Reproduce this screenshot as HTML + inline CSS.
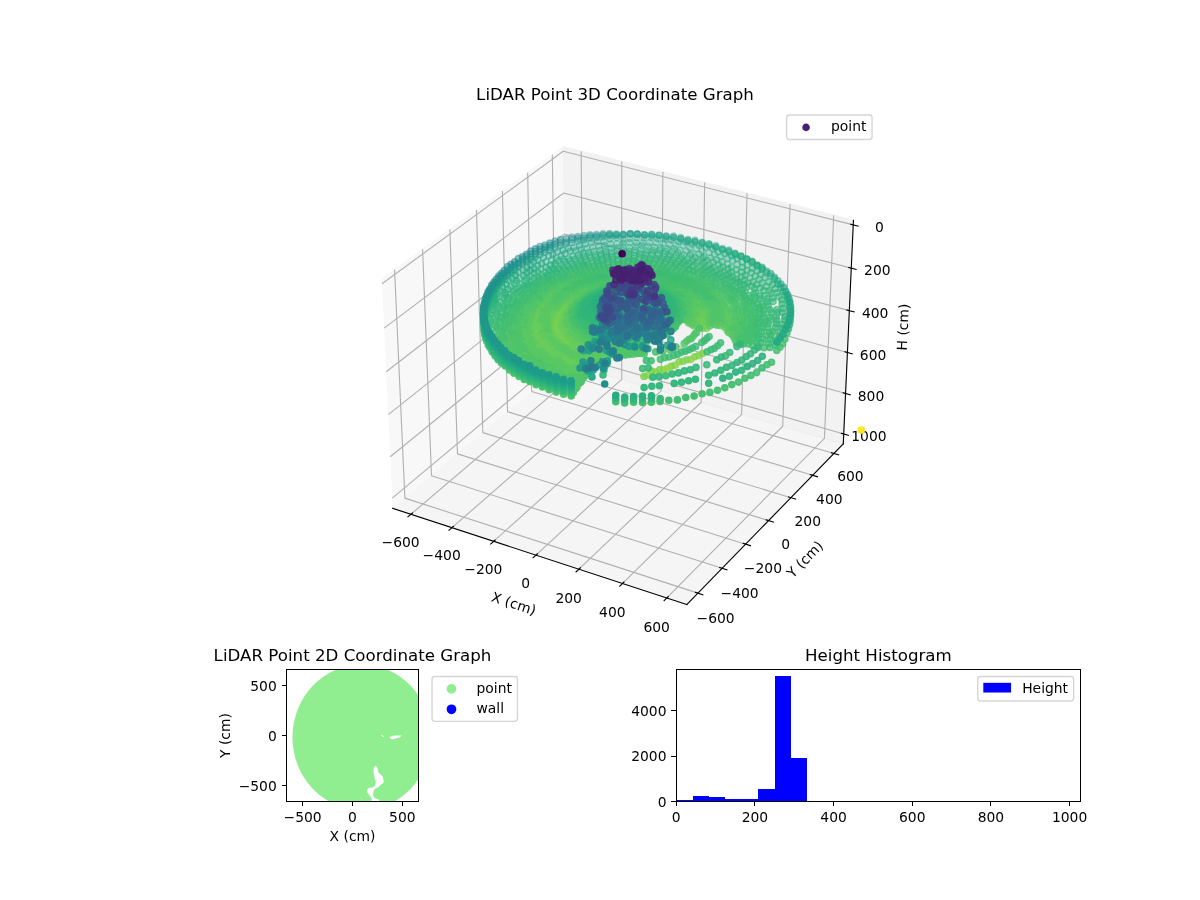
<!DOCTYPE html>
<html><head><meta charset="utf-8"><title>LiDAR Point Coordinate Graphs</title>
<style>html,body{margin:0;padding:0;background:#fff}svg{display:block}</style></head>
<body>
<svg width="1200" height="900" viewBox="0 0 864 648"> <defs> <style type="text/css">.c0{fill:#440154;stroke:#440154}.c1{fill:#46085c;stroke:#46085c}.c2{fill:#471063;stroke:#471063}.c3{fill:#48186a;stroke:#48186a}.c4{fill:#481f70;stroke:#481f70}.c5{fill:#482677;stroke:#482677}.c6{fill:#472d7b;stroke:#472d7b}.c7{fill:#463480;stroke:#463480}.c8{fill:#443a83;stroke:#443a83}.c9{fill:#424186;stroke:#424186}.c10{fill:#3f4788;stroke:#3f4788}.c11{fill:#3d4d8a;stroke:#3d4d8a}.c12{fill:#3a538b;stroke:#3a538b}.c13{fill:#38598c;stroke:#38598c}.c14{fill:#355f8d;stroke:#355f8d}.c15{fill:#32648e;stroke:#32648e}.c16{fill:#306a8e;stroke:#306a8e}.c17{fill:#2e6f8e;stroke:#2e6f8e}.c18{fill:#2b748e;stroke:#2b748e}.c19{fill:#29798e;stroke:#29798e}.c20{fill:#277e8e;stroke:#277e8e}.c21{fill:#25838e;stroke:#25838e}.c22{fill:#23888e;stroke:#23888e}.c23{fill:#218e8d;stroke:#218e8d}.c24{fill:#20928c;stroke:#20928c}.c25{fill:#1f988b;stroke:#1f988b}.c26{fill:#1e9d89;stroke:#1e9d89}.c27{fill:#1fa287;stroke:#1fa287}.c28{fill:#22a785;stroke:#22a785}.c29{fill:#25ac82;stroke:#25ac82}.c30{fill:#2cb17e;stroke:#2cb17e}.c31{fill:#32b67a;stroke:#32b67a}.c32{fill:#3bbb75;stroke:#3bbb75}.c33{fill:#44bf70;stroke:#44bf70}.c34{fill:#50c46a;stroke:#50c46a}.c35{fill:#5ac864;stroke:#5ac864}.c36{fill:#67cc5c;stroke:#67cc5c}.c37{fill:#73d056;stroke:#73d056}.c38{fill:#7fd34e;stroke:#7fd34e}.c39{fill:#8ed645;stroke:#8ed645}.c40{fill:#9bd93c;stroke:#9bd93c}.c41{fill:#aadc32;stroke:#aadc32}.c42{fill:#b8de29;stroke:#b8de29}.c43{fill:#c8e020;stroke:#c8e020}.c44{fill:#d5e21a;stroke:#d5e21a}.c45{fill:#e5e419;stroke:#e5e419}.c46{fill:#f1e51d;stroke:#f1e51d}.c47{fill:#fde725;stroke:#fde725}g[id^="matplotlib.axis"] use{shape-rendering:crispEdges}*{stroke-linejoin: round; stroke-linecap: butt}</style> </defs> <g id="figure_1"> <g id="patch_1"> <path d="M 0 648  L 864 648  L 864 0  L 0 0  z " style="fill: #ffffff"/> </g> <g id="patch_2"> <path d="M 252.72 457.92  L 632.88 457.92  L 632.88 77.76  L 252.72 77.76  z " style="fill: #ffffff"/> </g> <g id="pane3d_1"> <g id="patch_3"> <path d="M 274.87 200.85  L 405.49 105.66  L 407.26 261.38  L 282.76 365.98  " style="fill: #f2f2f2; opacity: 0.5; stroke: #f2f2f2; stroke-linejoin: miter"/> </g> </g> <g id="pane3d_2"> <g id="patch_4"> <path d="M 405.49 105.66  L 614.48 158.55  L 607.16 319.60  L 407.26 261.38  " style="fill: #e6e6e6; opacity: 0.5; stroke: #e6e6e6; stroke-linejoin: miter"/> </g> </g> <g id="pane3d_3"> <g id="patch_5"> <path d="M 282.76 365.98  L 494.57 435.23  L 607.16 319.60  L 407.26 261.38  " style="fill: #ececec; opacity: 0.5; stroke: #ececec; stroke-linejoin: miter"/> </g> </g> <g id="grid3d_1"> <g id="Line3DCollection_1"> <path d="M 295.86 370.26  L 419.68 265.00  L 418.44 108.94  " style="fill: none; stroke: #b0b0b0; stroke-width: 0.8"/> <path d="M 325.42 379.93  L 447.67 273.15  L 447.66 116.33  " style="fill: none; stroke: #b0b0b0; stroke-width: 0.8"/> <path d="M 355.43 389.74  L 476.05 281.41  L 477.30 123.83  " style="fill: none; stroke: #b0b0b0; stroke-width: 0.8"/> <path d="M 385.90 399.70  L 504.82 289.79  L 507.37 131.44  " style="fill: none; stroke: #b0b0b0; stroke-width: 0.8"/> <path d="M 416.82 409.81  L 533.99 298.29  L 537.88 139.16  " style="fill: none; stroke: #b0b0b0; stroke-width: 0.8"/> <path d="M 448.23 420.08  L 563.58 306.91  L 568.84 147.00  " style="fill: none; stroke: #b0b0b0; stroke-width: 0.8"/> <path d="M 480.12 430.50  L 593.58 315.64  L 600.26 154.95  " style="fill: none; stroke: #b0b0b0; stroke-width: 0.8"/> </g> </g> <g id="grid3d_2"> <g id="Line3DCollection_2"> <path d="M 284.08 194.14  L 291.51 358.63  L 502.51 427.07  " style="fill: none; stroke: #b0b0b0; stroke-width: 0.8"/> <path d="M 304.26 179.43  L 310.69 342.51  L 519.91 409.20  " style="fill: none; stroke: #b0b0b0; stroke-width: 0.8"/> <path d="M 323.91 165.11  L 329.40 326.80  L 536.86 391.80  " style="fill: none; stroke: #b0b0b0; stroke-width: 0.8"/> <path d="M 343.06 151.15  L 347.64 311.47  L 553.37 374.84  " style="fill: none; stroke: #b0b0b0; stroke-width: 0.8"/> <path d="M 361.73 137.55  L 365.45 296.51  L 569.45 358.32  " style="fill: none; stroke: #b0b0b0; stroke-width: 0.8"/> <path d="M 379.93 124.29  L 382.83 281.91  L 585.14 342.22  " style="fill: none; stroke: #b0b0b0; stroke-width: 0.8"/> <path d="M 397.68 111.35  L 399.79 267.66  L 600.43 326.51  " style="fill: none; stroke: #b0b0b0; stroke-width: 0.8"/> </g> </g> <g id="grid3d_3"> <g id="Line3DCollection_3"> <path d="M 614.33 161.92  L 405.52 108.91  L 275.04 204.31  " style="fill: none; stroke: #b0b0b0; stroke-width: 0.8"/> <path d="M 612.92 193.05  L 405.87 138.96  L 276.56 236.28  " style="fill: none; stroke: #b0b0b0; stroke-width: 0.8"/> <path d="M 611.52 223.67  L 406.20 168.54  L 278.06 267.69  " style="fill: none; stroke: #b0b0b0; stroke-width: 0.8"/> <path d="M 610.16 253.77  L 406.54 197.64  L 279.54 298.55  " style="fill: none; stroke: #b0b0b0; stroke-width: 0.8"/> <path d="M 608.81 283.37  L 406.86 226.29  L 280.99 328.88  " style="fill: none; stroke: #b0b0b0; stroke-width: 0.8"/> <path d="M 607.49 312.48  L 407.19 254.48  L 282.41 358.69  " style="fill: none; stroke: #b0b0b0; stroke-width: 0.8"/> </g> </g> <g id="axis3d_1"> <g id="line2d_1"> <path d="M 282.76 365.98  L 494.57 435.23  " style="fill: none; stroke: #000000; stroke-width: 0.8; stroke-linecap: square"/> </g> <g id="xtick_1"> <g id="line2d_2"> <path d="M 296.94 369.35  L 293.70 372.10  " style="fill: none; stroke: #000000; stroke-width: 0.8; stroke-linecap: square"/> </g> <g id="text_1"> <text style="font-size: 10px; font-family: 'DejaVu Sans', sans-serif; text-anchor: middle" x="288.42" y="393.73">−600</text> </g> </g> <g id="xtick_2"> <g id="line2d_3"> <path d="M 326.49 379.00  L 323.29 381.79  " style="fill: none; stroke: #000000; stroke-width: 0.8; stroke-linecap: square"/> </g> <g id="text_2"> <text style="font-size: 10px; font-family: 'DejaVu Sans', sans-serif; text-anchor: middle" x="318.00" y="403.54">−400</text> </g> </g> <g id="xtick_3"> <g id="line2d_4"> <path d="M 356.48 388.79  L 353.33 391.63  " style="fill: none; stroke: #000000; stroke-width: 0.8; stroke-linecap: square"/> </g> <g id="text_3"> <text style="font-size: 10px; font-family: 'DejaVu Sans', sans-serif; text-anchor: middle" x="348.03" y="413.49">−200</text> </g> </g> <g id="xtick_4"> <g id="line2d_5"> <path d="M 386.93 398.74  L 383.82 401.62  " style="fill: none; stroke: #000000; stroke-width: 0.8; stroke-linecap: square"/> </g> <g id="text_4"> <text style="font-size: 10px; font-family: 'DejaVu Sans', sans-serif; text-anchor: middle" x="378.51" y="423.60">0</text> </g> </g> <g id="xtick_5"> <g id="line2d_6"> <path d="M 417.85 408.84  L 414.77 411.76  " style="fill: none; stroke: #000000; stroke-width: 0.8; stroke-linecap: square"/> </g> <g id="text_5"> <text style="font-size: 10px; font-family: 'DejaVu Sans', sans-serif; text-anchor: middle" x="409.46" y="433.86">200</text> </g> </g> <g id="xtick_6"> <g id="line2d_7"> <path d="M 449.23 419.09  L 446.21 422.06  " style="fill: none; stroke: #000000; stroke-width: 0.8; stroke-linecap: square"/> </g> <g id="text_6"> <text style="font-size: 10px; font-family: 'DejaVu Sans', sans-serif; text-anchor: middle" x="440.89" y="444.28">400</text> </g> </g> <g id="xtick_7"> <g id="line2d_8"> <path d="M 481.11 429.50  L 478.13 432.52  " style="fill: none; stroke: #000000; stroke-width: 0.8; stroke-linecap: square"/> </g> <g id="text_7"> <text style="font-size: 10px; font-family: 'DejaVu Sans', sans-serif; text-anchor: middle" x="472.81" y="454.87">600</text> </g> </g> <g id="text_8"> <text style="font-size: 10px; font-family: 'DejaVu Sans', sans-serif; text-anchor: middle" x="368.94" y="437.87" transform="rotate(-341.89 368.94 437.87)">X (cm)</text> </g> </g> <g id="axis3d_2"> <g id="line2d_9"> <path d="M 607.16 319.60  L 494.57 435.23  " style="fill: none; stroke: #000000; stroke-width: 0.8; stroke-linecap: square"/> </g> <g id="xtick_8"> <g id="line2d_10"> <path d="M 500.73 426.49  L 506.07 428.22  " style="fill: none; stroke: #000000; stroke-width: 0.8; stroke-linecap: square"/> </g> <g id="text_9"> <text style="font-size: 10px; font-family: 'DejaVu Sans', sans-serif; text-anchor: middle" x="515.27" y="448.28">−600</text> </g> </g> <g id="xtick_9"> <g id="line2d_11"> <path d="M 518.15 408.64  L 523.44 410.32  " style="fill: none; stroke: #000000; stroke-width: 0.8; stroke-linecap: square"/> </g> <g id="text_10"> <text style="font-size: 10px; font-family: 'DejaVu Sans', sans-serif; text-anchor: middle" x="532.51" y="430.22">−400</text> </g> </g> <g id="xtick_10"> <g id="line2d_12"> <path d="M 535.11 391.25  L 540.35 392.89  " style="fill: none; stroke: #000000; stroke-width: 0.8; stroke-linecap: square"/> </g> <g id="text_11"> <text style="font-size: 10px; font-family: 'DejaVu Sans', sans-serif; text-anchor: middle" x="549.30" y="412.64">−200</text> </g> </g> <g id="xtick_11"> <g id="line2d_13"> <path d="M 551.64 374.31  L 556.83 375.91  " style="fill: none; stroke: #000000; stroke-width: 0.8; stroke-linecap: square"/> </g> <g id="text_12"> <text style="font-size: 10px; font-family: 'DejaVu Sans', sans-serif; text-anchor: middle" x="565.65" y="395.51">0</text> </g> </g> <g id="xtick_12"> <g id="line2d_14"> <path d="M 567.74 357.80  L 572.89 359.36  " style="fill: none; stroke: #000000; stroke-width: 0.8; stroke-linecap: square"/> </g> <g id="text_13"> <text style="font-size: 10px; font-family: 'DejaVu Sans', sans-serif; text-anchor: middle" x="581.59" y="378.82">200</text> </g> </g> <g id="xtick_13"> <g id="line2d_15"> <path d="M 583.44 341.71  L 588.54 343.23  " style="fill: none; stroke: #000000; stroke-width: 0.8; stroke-linecap: square"/> </g> <g id="text_14"> <text style="font-size: 10px; font-family: 'DejaVu Sans', sans-serif; text-anchor: middle" x="597.12" y="362.54">400</text> </g> </g> <g id="xtick_14"> <g id="line2d_16"> <path d="M 598.75 326.02  L 603.81 327.50  " style="fill: none; stroke: #000000; stroke-width: 0.8; stroke-linecap: square"/> </g> <g id="text_15"> <text style="font-size: 10px; font-family: 'DejaVu Sans', sans-serif; text-anchor: middle" x="612.28" y="346.67">600</text> </g> </g> <g id="text_16"> <text style="font-size: 10px; font-family: 'DejaVu Sans', sans-serif; text-anchor: middle" x="582.06" y="405.19" transform="rotate(-45.76 582.06 405.19)">Y (cm)</text> </g> </g> <g id="axis3d_3"> <g id="line2d_17"> <path d="M 607.16 319.60  L 614.48 158.55  " style="fill: none; stroke: #000000; stroke-width: 0.8; stroke-linecap: square"/> </g> <g id="xtick_15"> <g id="line2d_18"> <path d="M 612.58 161.47  L 617.85 162.81  " style="fill: none; stroke: #000000; stroke-width: 0.8; stroke-linecap: square"/> </g> <g id="text_17"> <text style="font-size: 10px; font-family: 'DejaVu Sans', sans-serif; text-anchor: middle" x="633.26" y="167.15">0</text> </g> </g> <g id="xtick_16"> <g id="line2d_19"> <path d="M 611.18 192.60  L 616.40 193.97  " style="fill: none; stroke: #000000; stroke-width: 0.8; stroke-linecap: square"/> </g> <g id="text_18"> <text style="font-size: 10px; font-family: 'DejaVu Sans', sans-serif; text-anchor: middle" x="631.68" y="198.24">200</text> </g> </g> <g id="xtick_17"> <g id="line2d_20"> <path d="M 609.80 223.20  L 614.98 224.59  " style="fill: none; stroke: #000000; stroke-width: 0.8; stroke-linecap: square"/> </g> <g id="text_19"> <text style="font-size: 10px; font-family: 'DejaVu Sans', sans-serif; text-anchor: middle" x="630.14" y="228.81">400</text> </g> </g> <g id="xtick_18"> <g id="line2d_21"> <path d="M 608.45 253.30  L 613.58 254.71  " style="fill: none; stroke: #000000; stroke-width: 0.8; stroke-linecap: square"/> </g> <g id="text_20"> <text style="font-size: 10px; font-family: 'DejaVu Sans', sans-serif; text-anchor: middle" x="628.62" y="258.86">600</text> </g> </g> <g id="xtick_19"> <g id="line2d_22"> <path d="M 607.11 282.89  L 612.20 284.33  " style="fill: none; stroke: #000000; stroke-width: 0.8; stroke-linecap: square"/> </g> <g id="text_21"> <text style="font-size: 10px; font-family: 'DejaVu Sans', sans-serif; text-anchor: middle" x="627.12" y="288.42">800</text> </g> </g> <g id="xtick_20"> <g id="line2d_23"> <path d="M 605.81 311.99  L 610.85 313.45  " style="fill: none; stroke: #000000; stroke-width: 0.8; stroke-linecap: square"/> </g> <g id="text_22"> <text style="font-size: 10px; font-family: 'DejaVu Sans', sans-serif; text-anchor: middle" x="625.65" y="317.50">1000</text> </g> </g> <g id="text_23"> <text style="font-size: 10px; font-family: 'DejaVu Sans', sans-serif; text-anchor: middle" x="653.67" y="235.63" transform="rotate(-87.39 653.67 235.63)">H (cm)</text> </g> </g> <g id="axes_1"> <g id="PTS3D"> <defs> <path id="m226cd03c3f" d="M 0 2.23  C 0.59 2.23 1.16 2.00 1.58 1.58  C 2.00 1.16 2.23 0.59 2.23 0  C 2.23 -0.59 2.00 -1.16 1.58 -1.58  C 1.16 -2.00 0.59 -2.23 0 -2.23  C -0.59 -2.23 -1.16 -2.00 -1.58 -1.58  C -2.00 -1.16 -2.23 -0.59 -2.23 0  C -2.23 0.59 -2.00 1.16 -1.58 1.58  C -1.16 2.00 -0.59 2.23 0 2.23  z " style="stroke: #ff0000"/> </defs> <g clip-path="url(#pb8aa4f0075)"> <g transform="scale(.72)" stroke-width="1.38"><g fill-opacity=".35" stroke-opacity=".35"><g class="c27"><circle cx="651.7" cy="236.1" r="3.1"/><circle cx="644.5" cy="235.3" r="3.1"/><circle cx="644.5" cy="234.7" r="3.1"/><circle cx="644.5" cy="234.7" r="3.1"/><circle cx="658.9" cy="235.7" r="3.1"/><circle cx="651.7" cy="234.5" r="3.1"/></g><g class="c26"><circle cx="651.7" cy="234.4" r="3.1"/></g><g class="c28"><circle cx="666.2" cy="237.3" r="3.1"/></g><g class="c26"><circle cx="637.3" cy="234.4" r="3.1"/></g><g class="c27"><circle cx="658.9" cy="235.3" r="3.1"/></g><g class="c26"><circle cx="637.3" cy="234.2" r="3.1"/></g><g class="c27"><circle cx="658.9" cy="235" r="3.1"/></g><g class="c26"><circle cx="637.3" cy="233.9" r="3.1"/></g><g class="c27"><circle cx="666.2" cy="236.2" r="3.1"/><circle cx="666.2" cy="236" r="3.1"/></g><g class="c26"><circle cx="630.3" cy="233.9" r="3.1"/><circle cx="630.3" cy="233.9" r="3.1"/><circle cx="630.3" cy="233.7" r="3.1"/></g><g class="c28"><circle cx="673.5" cy="237.9" r="3.1"/></g><g class="c26"><circle cx="623.3" cy="235" r="3.1"/></g><g class="c27"><circle cx="673.5" cy="237.3" r="3.1"/></g><g class="c26"><circle cx="623.3" cy="234.6" r="3.1"/><circle cx="623.3" cy="234.3" r="3.1"/></g><g class="c27"><circle cx="651" cy="237.5" r="3.1"/><circle cx="673.5" cy="236" r="3.1"/></g><g class="c28"><circle cx="680.7" cy="239.3" r="3.1"/></g><g class="c26"><circle cx="616.4" cy="235.6" r="3.1"/></g></g><g fill-opacity=".39" stroke-opacity=".39"><g class="c28"><circle cx="680.7" cy="238.8" r="3.1"/></g><g class="c27"><circle cx="643.9" cy="237.7" r="3.1"/></g><g class="c28"><circle cx="665.2" cy="239.3" r="3.1"/></g><g class="c26"><circle cx="616.4" cy="234.7" r="3.1"/></g><g class="c27"><circle cx="680.7" cy="237.6" r="3.1"/></g><g class="c28"><circle cx="657.8" cy="238.8" r="3.1"/></g><g class="c26"><circle cx="616.4" cy="234" r="3.1"/></g><g class="c27"><circle cx="636.9" cy="237.8" r="3.1"/></g><g class="c29"><circle cx="687.9" cy="241.2" r="3.1"/></g><g class="c27"><circle cx="630" cy="238.4" r="3.1"/></g><g class="c26"><circle cx="609.6" cy="235.7" r="3.1"/></g><g class="c28"><circle cx="687.9" cy="240.3" r="3.1"/><circle cx="687.9" cy="239.5" r="3.1"/></g><g class="c26"><circle cx="609.6" cy="234.7" r="3.1"/></g><g class="c25"><circle cx="609.6" cy="233.6" r="3.1"/></g><g class="c26"><circle cx="603" cy="237" r="3.1"/></g><g class="c29"><circle cx="695" cy="242.3" r="3.1"/></g><g class="c27"><circle cx="623.2" cy="239.5" r="3.1"/></g><g class="c26"><circle cx="616.6" cy="237.8" r="3.1"/></g><g class="c27"><circle cx="671.6" cy="240" r="3.1"/></g><g class="c28"><circle cx="695" cy="241.6" r="3.1"/></g><g class="c25"><circle cx="603" cy="235.2" r="3.1"/></g><g class="c28"><circle cx="678.7" cy="241.7" r="3.1"/></g><g class="c27"><circle cx="695" cy="240.4" r="3.1"/></g><g class="c25"><circle cx="603" cy="233.8" r="3.1"/></g><g class="c26"><circle cx="596.5" cy="237.7" r="3.1"/></g><g class="c28"><circle cx="636.2" cy="242.8" r="3.1"/></g><g class="c27"><circle cx="610.1" cy="238.9" r="3.1"/></g><g class="c28"><circle cx="642.8" cy="242.8" r="3.1"/><circle cx="649.4" cy="242.7" r="3.1"/></g><g class="c29"><circle cx="702" cy="244" r="3.1"/></g><g class="c25"><circle cx="596.5" cy="236.1" r="3.1"/></g><g class="c28"><circle cx="663" cy="243.4" r="3.1"/><circle cx="629.7" cy="242.6" r="3.1"/><circle cx="685.6" cy="242.1" r="3.1"/><circle cx="656.1" cy="242.7" r="3.1"/><circle cx="702.1" cy="242.9" r="3.1"/><circle cx="623.2" cy="243.1" r="3.1"/><circle cx="702.1" cy="242.4" r="3.1"/></g><g class="c24"><circle cx="596.5" cy="234.5" r="3.1"/></g><g class="c26"><circle cx="590.1" cy="238" r="3.1"/></g><g class="c27"><circle cx="603.9" cy="241.2" r="3.1"/></g><g class="c28"><circle cx="669.4" cy="244.6" r="3.1"/></g><g class="c25"><circle cx="590.1" cy="236.3" r="3.1"/></g><g class="c27"><circle cx="597.4" cy="241.6" r="3.1"/></g><g class="c29"><circle cx="709" cy="245.5" r="3.1"/><circle cx="676.1" cy="245.5" r="3.1"/></g><g class="c28"><circle cx="709" cy="244.6" r="3.1"/><circle cx="691.8" cy="244.1" r="3.1"/></g><g class="c24"><circle cx="590.1" cy="234.8" r="3.1"/></g><g class="c26"><circle cx="583.9" cy="240.1" r="3.1"/></g><g class="c28"><circle cx="616.9" cy="243.8" r="3.1"/><circle cx="610.6" cy="243.9" r="3.1"/></g><g class="c29"><circle cx="648.4" cy="246.5" r="3.1"/></g><g class="c28"><circle cx="642" cy="245.6" r="3.1"/><circle cx="709" cy="243.7" r="3.1"/></g><g class="c29"><circle cx="635.6" cy="246.4" r="3.1"/></g><g class="c28"><circle cx="683.2" cy="245.3" r="3.1"/></g><g class="c25"><circle cx="583.9" cy="237.8" r="3.1"/></g><g class="c28"><circle cx="699.1" cy="245.4" r="3.1"/><circle cx="604.5" cy="245.5" r="3.1"/></g><g class="c27"><circle cx="591.4" cy="242.5" r="3.1"/></g><g class="c29"><circle cx="654.5" cy="247.4" r="3.1"/><circle cx="623.2" cy="246.8" r="3.1"/><circle cx="629.3" cy="247.5" r="3.1"/><circle cx="715.7" cy="247.6" r="3.1"/><circle cx="667.4" cy="248.9" r="3.1"/></g><g class="c26"><circle cx="577.8" cy="241.3" r="3.1"/></g><g class="c24"><circle cx="583.9" cy="235.5" r="3.1"/></g><g class="c29"><circle cx="660.7" cy="248.1" r="3.1"/><circle cx="715.8" cy="247" r="3.1"/><circle cx="689.6" cy="247.4" r="3.1"/><circle cx="617.1" cy="247.8" r="3.1"/><circle cx="674.2" cy="248.7" r="3.1"/></g><g class="c27"><circle cx="585.3" cy="243.9" r="3.1"/></g><g class="c28"><circle cx="715.8" cy="245.7" r="3.1"/><circle cx="705.7" cy="247.5" r="3.1"/></g><g class="c30"><circle cx="635.1" cy="250.1" r="3.1"/></g><g class="c29"><circle cx="641.2" cy="249.5" r="3.1"/></g><g class="c30"><circle cx="647.2" cy="250.6" r="3.1"/></g><g class="c24"><circle cx="577.8" cy="238.4" r="3.1"/></g><g class="c28"><circle cx="598.7" cy="246.2" r="3.1"/></g><g class="c29"><circle cx="611.1" cy="248" r="3.1"/><circle cx="696.3" cy="248.7" r="3.1"/><circle cx="659.8" cy="250.2" r="3.1"/><circle cx="605.2" cy="248.9" r="3.1"/><circle cx="623.1" cy="250.5" r="3.1"/></g><g class="c26"><circle cx="571.9" cy="242.8" r="3.1"/></g><g class="c23"><circle cx="577.8" cy="236.5" r="3.1"/></g><g class="c28"><circle cx="592.7" cy="247.1" r="3.1"/></g><g class="c29"><circle cx="617.2" cy="250.6" r="3.1"/><circle cx="653.2" cy="250.5" r="3.1"/><circle cx="722.4" cy="249.8" r="3.1"/><circle cx="722.4" cy="249.7" r="3.1"/><circle cx="679.9" cy="250.5" r="3.1"/><circle cx="629" cy="251.1" r="3.1"/></g><g class="c27"><circle cx="579.6" cy="245.2" r="3.1"/></g><g class="c28"><circle cx="722.4" cy="248.5" r="3.1"/><circle cx="712.6" cy="248.8" r="3.1"/></g><g class="c29"><circle cx="665.7" cy="251.2" r="3.1"/></g><g class="c24"><circle cx="571.9" cy="239.7" r="3.1"/></g><g class="c28"><circle cx="586.9" cy="248.3" r="3.1"/></g><g class="c30"><circle cx="634.6" cy="252.7" r="3.1"/></g><g class="c29"><circle cx="686.4" cy="251" r="3.1"/></g><g class="c30"><circle cx="640.4" cy="253" r="3.1"/></g><g class="c29"><circle cx="671.9" cy="251.5" r="3.1"/><circle cx="611.6" cy="252" r="3.1"/><circle cx="702.2" cy="251" r="3.1"/><circle cx="599.7" cy="250.3" r="3.1"/><circle cx="605.8" cy="252.1" r="3.1"/></g><g class="c30"><circle cx="652.4" cy="253" r="3.1"/><circle cx="646.3" cy="252.8" r="3.1"/><circle cx="628.8" cy="253.9" r="3.1"/></g><g class="c23"><circle cx="571.9" cy="237.4" r="3.1"/></g><g class="c27"><circle cx="574" cy="247.5" r="3.1"/></g><g class="c26"><circle cx="566.2" cy="243.8" r="3.1"/></g><g class="c30"><circle cx="658.3" cy="253.6" r="3.1"/></g><g class="c28"><circle cx="581.1" cy="249.4" r="3.1"/></g><g class="c30"><circle cx="623.1" cy="252.7" r="3.1"/></g><g class="c29"><circle cx="678" cy="252.7" r="3.1"/><circle cx="594" cy="251.3" r="3.1"/></g><g class="c30"><circle cx="664.4" cy="253.7" r="3.1"/><circle cx="645.8" cy="255.1" r="3.1"/></g><g class="c25"><circle cx="566.2" cy="242" r="3.1"/></g><g class="c30"><circle cx="651.8" cy="254.5" r="3.1"/></g><g class="c29"><circle cx="728.8" cy="252.1" r="3.1"/></g><g class="c30"><circle cx="692.3" cy="253.3" r="3.1"/><circle cx="611.8" cy="254.6" r="3.1"/></g><g class="c29"><circle cx="728.8" cy="251.4" r="3.1"/></g><g class="c30"><circle cx="617.5" cy="254.5" r="3.1"/></g><g class="c29"><circle cx="709" cy="252.5" r="3.1"/></g><g class="c31"><circle cx="628.6" cy="255.6" r="3.1"/><circle cx="634.2" cy="255.7" r="3.1"/></g><g class="c30"><circle cx="640" cy="254.5" r="3.1"/><circle cx="684" cy="255.1" r="3.1"/></g><g class="c29"><circle cx="718.1" cy="252" r="3.1"/></g><g class="c30"><circle cx="657.6" cy="255.1" r="3.1"/></g><g class="c31"><circle cx="623.1" cy="256.1" r="3.1"/></g><g class="c28"><circle cx="728.8" cy="250.1" r="3.1"/></g><g class="c27"><circle cx="568.2" cy="248.3" r="3.1"/></g><g class="c31"><circle cx="663.4" cy="256.3" r="3.1"/></g></g><g fill-opacity=".44" stroke-opacity=".44"><g class="c30"><circle cx="670" cy="255.1" r="3.1"/><circle cx="594.8" cy="254.6" r="3.1"/></g><g class="c23"><circle cx="566.1" cy="238.7" r="3.1"/></g><g class="c29"><circle cx="588.5" cy="252.3" r="3.1"/></g><g class="c26"><circle cx="560.6" cy="245.6" r="3.1"/></g><g class="c30"><circle cx="617.5" cy="255.6" r="3.1"/></g><g class="c29"><circle cx="699" cy="254" r="3.1"/><circle cx="600.6" cy="253.8" r="3.1"/></g><g class="c28"><circle cx="575.8" cy="250.7" r="3.1"/></g><g class="c30"><circle cx="606.4" cy="255.3" r="3.1"/><circle cx="676.3" cy="255.3" r="3.1"/></g><g class="c31"><circle cx="633.9" cy="258.2" r="3.1"/><circle cx="639.5" cy="257.2" r="3.1"/><circle cx="656.6" cy="258.5" r="3.1"/><circle cx="612.1" cy="257.1" r="3.1"/></g><g class="c30"><circle cx="669" cy="256.8" r="3.1"/></g><g class="c29"><circle cx="690.3" cy="254.5" r="3.1"/></g><g class="c24"><circle cx="560.6" cy="242.6" r="3.1"/></g><g class="c30"><circle cx="589.4" cy="255.2" r="3.1"/></g><g class="c29"><circle cx="583.1" cy="253.1" r="3.1"/></g><g class="c31"><circle cx="650.4" cy="258.8" r="3.1"/></g><g class="c29"><circle cx="725" cy="253.7" r="3.1"/><circle cx="735" cy="254.7" r="3.1"/></g><g class="c31"><circle cx="628.4" cy="257.9" r="3.1"/><circle cx="644.8" cy="258" r="3.1"/></g><g class="c30"><circle cx="601.1" cy="255.8" r="3.1"/></g><g class="c31"><circle cx="623" cy="258.4" r="3.1"/></g><g class="c27"><circle cx="562.8" cy="249.9" r="3.1"/></g><g class="c28"><circle cx="570.1" cy="251.3" r="3.1"/></g><g class="c30"><circle cx="606.8" cy="257.1" r="3.1"/><circle cx="681.7" cy="257.3" r="3.1"/></g><g class="c29"><circle cx="714.5" cy="254.5" r="3.1"/><circle cx="735" cy="253.8" r="3.1"/></g><g class="c31"><circle cx="617.7" cy="259.2" r="3.1"/></g><g class="c29"><circle cx="735" cy="253.4" r="3.1"/></g><g class="c31"><circle cx="661.9" cy="258.6" r="3.1"/></g><g class="c30"><circle cx="595.8" cy="257.3" r="3.1"/></g><g class="c31"><circle cx="674.6" cy="258" r="3.1"/><circle cx="623" cy="260.2" r="3.1"/></g><g class="c26"><circle cx="555.2" cy="247.8" r="3.1"/></g><g class="c31"><circle cx="633.6" cy="260.3" r="3.1"/></g><g class="c23"><circle cx="560.6" cy="239.6" r="3.1"/></g><g class="c31"><circle cx="639" cy="259.8" r="3.1"/></g><g class="c30"><circle cx="704.1" cy="256.7" r="3.1"/><circle cx="584.2" cy="256.3" r="3.1"/></g><g class="c31"><circle cx="667.6" cy="259.2" r="3.1"/><circle cx="644.3" cy="259.9" r="3.1"/></g><g class="c29"><circle cx="578" cy="255" r="3.1"/></g><g class="c31"><circle cx="607.2" cy="259.6" r="3.1"/></g><g class="c30"><circle cx="590.5" cy="257.8" r="3.1"/></g><g class="c31"><circle cx="628.2" cy="260.8" r="3.1"/></g><g class="c30"><circle cx="687.5" cy="258.5" r="3.1"/></g><g class="c31"><circle cx="612.5" cy="259.3" r="3.1"/></g><g class="c30"><circle cx="695.3" cy="257.3" r="3.1"/></g><g class="c31"><circle cx="655.3" cy="259.8" r="3.1"/><circle cx="601.9" cy="259.3" r="3.1"/><circle cx="661" cy="260.8" r="3.1"/><circle cx="649.6" cy="260.3" r="3.1"/><circle cx="680.2" cy="259" r="3.1"/></g><g class="c24"><circle cx="555.2" cy="244.2" r="3.1"/></g><g class="c31"><circle cx="617.8" cy="260.8" r="3.1"/></g><g class="c30"><circle cx="702.5" cy="258" r="3.1"/></g><g class="c29"><circle cx="731.5" cy="255.7" r="3.1"/></g><g class="c27"><circle cx="557.6" cy="251.5" r="3.1"/></g><g class="c28"><circle cx="565.2" cy="253.6" r="3.1"/></g><g class="c31"><circle cx="602.2" cy="260.7" r="3.1"/><circle cx="628.1" cy="261.8" r="3.1"/></g><g class="c29"><circle cx="720.6" cy="256.7" r="3.1"/><circle cx="572.6" cy="256.1" r="3.1"/></g><g class="c30"><circle cx="579.1" cy="257.6" r="3.1"/></g><g class="c31"><circle cx="596.8" cy="260.5" r="3.1"/><circle cx="612.7" cy="261.8" r="3.1"/></g><g class="c26"><circle cx="550" cy="250.3" r="3.1"/></g><g class="c31"><circle cx="672.8" cy="260.2" r="3.1"/></g><g class="c30"><circle cx="710.5" cy="258" r="3.1"/></g><g class="c31"><circle cx="649.1" cy="262" r="3.1"/><circle cx="643.7" cy="261.8" r="3.1"/></g><g class="c30"><circle cx="585.5" cy="259.3" r="3.1"/></g><g class="c31"><circle cx="597" cy="261" r="3.1"/></g><g class="c32"><circle cx="654.3" cy="262.9" r="3.1"/></g><g class="c31"><circle cx="678.8" cy="261.1" r="3.1"/><circle cx="633.2" cy="261.8" r="3.1"/></g><g class="c22"><circle cx="555.1" cy="241" r="3.1"/></g><g class="c32"><circle cx="638.2" cy="263" r="3.1"/></g><g class="c30"><circle cx="693.1" cy="259.8" r="3.1"/></g><g class="c29"><circle cx="741" cy="256.5" r="3.1"/></g><g class="c32"><circle cx="623" cy="263.1" r="3.1"/></g><g class="c29"><circle cx="741" cy="256.2" r="3.1"/></g><g class="c32"><circle cx="659.5" cy="264.2" r="3.1"/></g><g class="c31"><circle cx="685.3" cy="260.9" r="3.1"/></g><g class="c29"><circle cx="741" cy="256" r="3.1"/></g><g class="c31"><circle cx="665.8" cy="261.8" r="3.1"/><circle cx="671.7" cy="262.3" r="3.1"/><circle cx="607.8" cy="262.7" r="3.1"/></g><g class="c25"><circle cx="550" cy="247.5" r="3.1"/></g><g class="c31"><circle cx="591.8" cy="261" r="3.1"/><circle cx="691.7" cy="261.5" r="3.1"/></g><g class="c32"><circle cx="632.9" cy="264.3" r="3.1"/></g><g class="c29"><circle cx="727.4" cy="258.5" r="3.1"/></g><g class="c32"><circle cx="613.1" cy="264.4" r="3.1"/></g><g class="c31"><circle cx="602.9" cy="263.3" r="3.1"/></g><g class="c28"><circle cx="552.9" cy="254.3" r="3.1"/></g><g class="c31"><circle cx="586.7" cy="261.9" r="3.1"/></g><g class="c32"><circle cx="618" cy="263.9" r="3.1"/><circle cx="642.9" cy="264.6" r="3.1"/><circle cx="648.2" cy="263.9" r="3.1"/></g><g class="c24"><circle cx="550" cy="245.2" r="3.1"/></g><g class="c32"><circle cx="637.9" cy="263.7" r="3.1"/></g><g class="c30"><circle cx="716.5" cy="260.1" r="3.1"/></g><g class="c32"><circle cx="608.1" cy="264.4" r="3.1"/></g><g class="c31"><circle cx="664.8" cy="263.5" r="3.1"/></g><g class="c30"><circle cx="574.6" cy="259.3" r="3.1"/></g><g class="c32"><circle cx="653.4" cy="264.4" r="3.1"/></g><g class="c30"><circle cx="707.2" cy="260.5" r="3.1"/></g><g class="c32"><circle cx="627.9" cy="264.4" r="3.1"/></g><g class="c30"><circle cx="580.9" cy="260.6" r="3.1"/></g><g class="c32"><circle cx="670.5" cy="264" r="3.1"/></g><g class="c31"><circle cx="597.9" cy="263.3" r="3.1"/><circle cx="592.5" cy="262.8" r="3.1"/><circle cx="683.6" cy="262.5" r="3.1"/></g><g class="c29"><circle cx="737.2" cy="258.6" r="3.1"/></g><g class="c32"><circle cx="623" cy="264.5" r="3.1"/></g><g class="c26"><circle cx="545" cy="252.1" r="3.1"/></g><g class="c30"><circle cx="698.6" cy="260.8" r="3.1"/></g><g class="c28"><circle cx="561.1" cy="256.1" r="3.1"/></g><g class="c23"><circle cx="549.9" cy="243.1" r="3.1"/></g><g class="c29"><circle cx="568.6" cy="258.7" r="3.1"/></g><g class="c31"><circle cx="676.4" cy="263.7" r="3.1"/></g><g class="c32"><circle cx="613.2" cy="265.2" r="3.1"/><circle cx="618.1" cy="265.1" r="3.1"/><circle cx="658.3" cy="265" r="3.1"/></g><g class="c31"><circle cx="682.5" cy="263.8" r="3.1"/><circle cx="697" cy="262.9" r="3.1"/></g><g class="c25"><circle cx="544.9" cy="249.5" r="3.1"/></g><g class="c32"><circle cx="675.6" cy="265.1" r="3.1"/></g><g class="c31"><circle cx="587.9" cy="264.4" r="3.1"/></g><g class="c32"><circle cx="632.5" cy="266.4" r="3.1"/></g><g class="c31"><circle cx="582.2" cy="263.7" r="3.1"/></g><g class="c32"><circle cx="637.4" cy="265.6" r="3.1"/></g><g class="c31"><circle cx="689.2" cy="263.3" r="3.1"/></g><g class="c30"><circle cx="576.2" cy="262" r="3.1"/><circle cx="569.8" cy="260.9" r="3.1"/></g><g class="c32"><circle cx="622.9" cy="266.2" r="3.1"/></g><g class="c29"><circle cx="746.7" cy="259.3" r="3.1"/></g><g class="c32"><circle cx="663.3" cy="266.1" r="3.1"/></g><g class="c29"><circle cx="746.7" cy="259" r="3.1"/></g><g class="c32"><circle cx="603.6" cy="265.9" r="3.1"/></g><g class="c29"><circle cx="746.7" cy="259" r="3.1"/><circle cx="563.1" cy="259.3" r="3.1"/></g><g class="c32"><circle cx="603.7" cy="266.3" r="3.1"/><circle cx="647.3" cy="265.6" r="3.1"/><circle cx="588.3" cy="265.8" r="3.1"/><circle cx="627.7" cy="267" r="3.1"/></g><g class="c30"><circle cx="704.4" cy="262.6" r="3.1"/><circle cx="713.1" cy="262.1" r="3.1"/></g><g class="c32"><circle cx="657.4" cy="266.9" r="3.1"/></g><g class="c24"><circle cx="544.9" cy="247.2" r="3.1"/></g><g class="c32"><circle cx="618.2" cy="267.3" r="3.1"/><circle cx="652.1" cy="266.8" r="3.1"/></g><g class="c28"><circle cx="556.3" cy="258" r="3.1"/></g><g class="c32"><circle cx="598.8" cy="266.1" r="3.1"/></g><g class="c30"><circle cx="722.1" cy="261.9" r="3.1"/></g><g class="c32"><circle cx="608.7" cy="267.2" r="3.1"/><circle cx="593.8" cy="265.8" r="3.1"/><circle cx="668.4" cy="266.6" r="3.1"/></g><g class="c27"><circle cx="540.1" cy="254.6" r="3.1"/></g><g class="c33"><circle cx="613.6" cy="268.3" r="3.1"/></g><g class="c29"><circle cx="732.6" cy="260.6" r="3.1"/></g><g class="c33"><circle cx="627.6" cy="268.4" r="3.1"/><circle cx="632.2" cy="268.5" r="3.1"/></g><g class="c31"><circle cx="702.5" cy="264.6" r="3.1"/></g><g class="c27"><circle cx="548.8" cy="255.8" r="3.1"/></g><g class="c23"><circle cx="544.9" cy="245" r="3.1"/></g><g class="c31"><circle cx="583.3" cy="265.2" r="3.1"/><circle cx="577.8" cy="264.9" r="3.1"/></g><g class="c32"><circle cx="651.5" cy="268.2" r="3.1"/></g><g class="c31"><circle cx="694" cy="265.5" r="3.1"/></g><g class="c29"><circle cx="564.9" cy="261.6" r="3.1"/></g><g class="c31"><circle cx="686.9" cy="265.7" r="3.1"/><circle cx="680" cy="266.3" r="3.1"/></g><g class="c32"><circle cx="622.9" cy="268.1" r="3.1"/></g><g class="c30"><circle cx="742.1" cy="262" r="3.1"/></g><g class="c33"><circle cx="632" cy="269.8" r="3.1"/></g><g class="c32"><circle cx="673.4" cy="267.3" r="3.1"/></g><g class="c30"><circle cx="571.9" cy="263.5" r="3.1"/></g><g class="c31"><circle cx="578.4" cy="266.4" r="3.1"/></g><g class="c32"><circle cx="589.5" cy="268.1" r="3.1"/><circle cx="594.5" cy="267.3" r="3.1"/></g><g class="c25"><circle cx="540.1" cy="251.7" r="3.1"/></g><g class="c32"><circle cx="609.1" cy="268.7" r="3.1"/></g><g class="c33"><circle cx="636.6" cy="270.3" r="3.1"/></g><g class="c29"><circle cx="558.5" cy="260.8" r="3.1"/></g><g class="c33"><circle cx="622.9" cy="269.9" r="3.1"/></g><g class="c32"><circle cx="661.8" cy="267.7" r="3.1"/></g><g class="c33"><circle cx="618.3" cy="269.4" r="3.1"/></g><g class="c32"><circle cx="636.7" cy="268.5" r="3.1"/><circle cx="685.7" cy="267.4" r="3.1"/></g><g class="c31"><circle cx="709.4" cy="265" r="3.1"/></g><g class="c33"><circle cx="656" cy="269.6" r="3.1"/></g><g class="c32"><circle cx="599.6" cy="267.7" r="3.1"/></g><g class="c31"><circle cx="584.3" cy="266.7" r="3.1"/></g><g class="c29"><circle cx="551.6" cy="260.2" r="3.1"/></g><g class="c33"><circle cx="613.9" cy="270.4" r="3.1"/></g><g class="c30"><circle cx="718.5" cy="264.1" r="3.1"/></g><g class="c31"><circle cx="692.6" cy="266.6" r="3.1"/></g><g class="c27"><circle cx="543.3" cy="257.8" r="3.1"/></g><g class="c32"><circle cx="678.5" cy="268.4" r="3.1"/></g><g class="c31"><circle cx="699.9" cy="266.7" r="3.1"/></g><g class="c33"><circle cx="645.9" cy="270" r="3.1"/></g><g class="c32"><circle cx="666.8" cy="267.9" r="3.1"/></g><g class="c24"><circle cx="540" cy="249.2" r="3.1"/></g><g class="c33"><circle cx="627.4" cy="270.2" r="3.1"/></g><g class="c31"><circle cx="573.5" cy="266.7" r="3.1"/></g><g class="c30"><circle cx="567.1" cy="265.2" r="3.1"/></g><g class="c32"><circle cx="660.8" cy="269.4" r="3.1"/><circle cx="672" cy="269.1" r="3.1"/></g><g class="c29"><circle cx="752.1" cy="262.4" r="3.1"/></g><g class="c32"><circle cx="585" cy="268.2" r="3.1"/></g><g class="c33"><circle cx="609.4" cy="270.4" r="3.1"/></g><g class="c30"><circle cx="727.4" cy="264.2" r="3.1"/></g><g class="c27"><circle cx="535.4" cy="257.1" r="3.1"/></g><g class="c29"><circle cx="752.1" cy="261.9" r="3.1"/></g><g class="c33"><circle cx="655.3" cy="270.5" r="3.1"/></g><g class="c30"><circle cx="560.8" cy="264.4" r="3.1"/></g><g class="c33"><circle cx="650.3" cy="271" r="3.1"/></g><g class="c32"><circle cx="595.4" cy="269.4" r="3.1"/><circle cx="579.9" cy="268.8" r="3.1"/></g><g class="c29"><circle cx="752.1" cy="261.4" r="3.1"/></g><g class="c32"><circle cx="665.8" cy="269.7" r="3.1"/></g><g class="c31"><circle cx="706.8" cy="267" r="3.1"/></g><g class="c32"><circle cx="604.9" cy="269.3" r="3.1"/></g><g class="c29"><circle cx="546" cy="261.7" r="3.1"/></g><g class="c30"><circle cx="737.4" cy="264.4" r="3.1"/></g><g class="c32"><circle cx="600.3" cy="269.9" r="3.1"/></g><g class="c22"><circle cx="540" cy="246.5" r="3.1"/></g><g class="c32"><circle cx="605.1" cy="270.6" r="3.1"/><circle cx="683.3" cy="269.8" r="3.1"/></g><g class="c31"><circle cx="574.7" cy="268.4" r="3.1"/></g><g class="c32"><circle cx="590.9" cy="270.3" r="3.1"/></g><g class="c28"><circle cx="538" cy="260.1" r="3.1"/></g><g class="c31"><circle cx="568.7" cy="267.2" r="3.1"/></g><g class="c32"><circle cx="676.8" cy="269.9" r="3.1"/></g><g class="c25"><circle cx="535.4" cy="254.2" r="3.1"/></g><g class="c32"><circle cx="689.7" cy="269.6" r="3.1"/></g><g class="c29"><circle cx="554.7" cy="263.7" r="3.1"/></g><g class="c32"><circle cx="697" cy="269" r="3.1"/></g><g class="c33"><circle cx="659.4" cy="272.6" r="3.1"/><circle cx="622.9" cy="271.8" r="3.1"/></g><g class="c32"><circle cx="596" cy="270.9" r="3.1"/><circle cx="670.5" cy="270.7" r="3.1"/></g><g class="c31"><circle cx="714.1" cy="267" r="3.1"/></g><g class="c30"><circle cx="556" cy="265.8" r="3.1"/><circle cx="747.2" cy="264.9" r="3.1"/></g><g class="c33"><circle cx="664.5" cy="271.8" r="3.1"/></g><g class="c30"><circle cx="562.9" cy="266.5" r="3.1"/></g><g class="c32"><circle cx="575.7" cy="269.9" r="3.1"/></g><g class="c33"><circle cx="601" cy="271.9" r="3.1"/></g><g class="c32"><circle cx="581.4" cy="271.1" r="3.1"/><circle cx="675.6" cy="271.7" r="3.1"/><circle cx="635.8" cy="271.7" r="3.1"/></g><g class="c30"><circle cx="722.9" cy="266.9" r="3.1"/></g><g class="c31"><circle cx="704.1" cy="268.7" r="3.1"/></g></g><g fill-opacity=".49" stroke-opacity=".49"><g class="c24"><circle cx="535.3" cy="251.3" r="3.1"/></g><g class="c32"><circle cx="586.9" cy="271.8" r="3.1"/><circle cx="681.3" cy="271.7" r="3.1"/></g><g class="c33"><circle cx="605.7" cy="273.5" r="3.1"/></g><g class="c31"><circle cx="570.3" cy="269.3" r="3.1"/><circle cx="688.3" cy="269.9" r="3.1"/></g><g class="c32"><circle cx="592" cy="272" r="3.1"/><circle cx="702.7" cy="270.3" r="3.1"/></g><g class="c31"><circle cx="711.9" cy="268.3" r="3.1"/></g><g class="c33"><circle cx="610.1" cy="273.6" r="3.1"/></g><g class="c27"><circle cx="530.9" cy="259.2" r="3.1"/></g><g class="c32"><circle cx="694.5" cy="271.1" r="3.1"/></g><g class="c31"><circle cx="564.5" cy="268.8" r="3.1"/></g><g class="c29"><circle cx="541.7" cy="263.7" r="3.1"/></g><g class="c30"><circle cx="731.4" cy="267.4" r="3.1"/></g><g class="c33"><circle cx="597" cy="273" r="3.1"/></g><g class="c31"><circle cx="720.3" cy="268.6" r="3.1"/></g><g class="c33"><circle cx="653.4" cy="273.1" r="3.1"/></g><g class="c22"><circle cx="535.3" cy="248.8" r="3.1"/></g><g class="c32"><circle cx="571.5" cy="271.4" r="3.1"/></g><g class="c33"><circle cx="587.8" cy="273.5" r="3.1"/><circle cx="582.7" cy="272.9" r="3.1"/><circle cx="601.7" cy="273.9" r="3.1"/></g><g class="c30"><circle cx="757.2" cy="265.8" r="3.1"/></g><g class="c29"><circle cx="757.2" cy="265.7" r="3.1"/><circle cx="550.3" cy="265" r="3.1"/></g><g class="c31"><circle cx="558.5" cy="268.4" r="3.1"/></g><g class="c32"><circle cx="663.3" cy="272.6" r="3.1"/><circle cx="653.3" cy="272.9" r="3.1"/><circle cx="577.5" cy="272.5" r="3.1"/><circle cx="668.4" cy="272.9" r="3.1"/></g><g class="c33"><circle cx="610.3" cy="273.3" r="3.1"/></g><g class="c26"><circle cx="530.9" cy="257" r="3.1"/></g><g class="c31"><circle cx="710" cy="269.6" r="3.1"/></g><g class="c29"><circle cx="757.3" cy="265" r="3.1"/></g><g class="c32"><circle cx="686.3" cy="272.3" r="3.1"/></g><g class="c30"><circle cx="742.2" cy="267.3" r="3.1"/></g><g class="c33"><circle cx="679.4" cy="273.5" r="3.1"/></g><g class="c28"><circle cx="533.7" cy="262" r="3.1"/></g><g class="c32"><circle cx="693.1" cy="271.6" r="3.1"/><circle cx="657.8" cy="273.1" r="3.1"/></g><g class="c31"><circle cx="566.2" cy="271.1" r="3.1"/></g><g class="c33"><circle cx="622.8" cy="273.7" r="3.1"/></g><g class="c32"><circle cx="700.5" cy="271.2" r="3.1"/></g><g class="c33"><circle cx="673.1" cy="274.1" r="3.1"/><circle cx="606.2" cy="273.9" r="3.1"/><circle cx="593.2" cy="274.7" r="3.1"/></g><g class="c32"><circle cx="657.5" cy="273.4" r="3.1"/></g><g class="c30"><circle cx="552.7" cy="268.3" r="3.1"/></g><g class="c31"><circle cx="560.3" cy="270.8" r="3.1"/></g><g class="c33"><circle cx="602.1" cy="274.6" r="3.1"/><circle cx="593.4" cy="275.5" r="3.1"/><circle cx="588.7" cy="274.5" r="3.1"/></g><g class="c30"><circle cx="728" cy="268.9" r="3.1"/></g><g class="c32"><circle cx="667.3" cy="274" r="3.1"/></g><g class="c24"><circle cx="530.8" cy="253.9" r="3.1"/></g><g class="c33"><circle cx="598" cy="275.9" r="3.1"/></g><g class="c31"><circle cx="707.5" cy="271.6" r="3.1"/></g><g class="c30"><circle cx="752.4" cy="268.3" r="3.1"/></g><g class="c31"><circle cx="716.7" cy="270.7" r="3.1"/></g><g class="c32"><circle cx="684.6" cy="273.5" r="3.1"/></g><g class="c33"><circle cx="677.9" cy="275" r="3.1"/><circle cx="584" cy="274.3" r="3.1"/></g><g class="c32"><circle cx="573.8" cy="274.1" r="3.1"/></g><g class="c31"><circle cx="554.3" cy="270.3" r="3.1"/></g><g class="c32"><circle cx="690.6" cy="274.2" r="3.1"/></g><g class="c29"><circle cx="546" cy="267.4" r="3.1"/></g><g class="c33"><circle cx="610.7" cy="274.7" r="3.1"/></g><g class="c32"><circle cx="579.4" cy="274.4" r="3.1"/><circle cx="562" cy="272.7" r="3.1"/></g><g class="c27"><circle cx="526.6" cy="261.6" r="3.1"/></g><g class="c29"><circle cx="537.6" cy="265.6" r="3.1"/></g><g class="c32"><circle cx="697.8" cy="273.2" r="3.1"/><circle cx="568.3" cy="273.1" r="3.1"/></g><g class="c33"><circle cx="671.6" cy="275" r="3.1"/><circle cx="584.9" cy="276.1" r="3.1"/><circle cx="569.1" cy="275.3" r="3.1"/></g><g class="c22"><circle cx="530.8" cy="251.1" r="3.1"/></g><g class="c31"><circle cx="724.3" cy="271.4" r="3.1"/></g><g class="c34"><circle cx="590.1" cy="277.9" r="3.1"/></g><g class="c32"><circle cx="651.8" cy="274.8" r="3.1"/></g><g class="c30"><circle cx="736.3" cy="269.7" r="3.1"/></g><g class="c33"><circle cx="598.7" cy="276.6" r="3.1"/></g><g class="c26"><circle cx="526.6" cy="259.8" r="3.1"/></g><g class="c31"><circle cx="713.4" cy="272.9" r="3.1"/><circle cx="556.2" cy="272.3" r="3.1"/></g><g class="c32"><circle cx="661" cy="274.7" r="3.1"/><circle cx="704" cy="274.3" r="3.1"/></g><g class="c33"><circle cx="607" cy="276" r="3.1"/><circle cx="688.7" cy="275.5" r="3.1"/><circle cx="594.5" cy="276.7" r="3.1"/></g><g class="c32"><circle cx="665.7" cy="274.9" r="3.1"/></g><g class="c33"><circle cx="580.6" cy="276.2" r="3.1"/></g><g class="c30"><circle cx="548.8" cy="270.1" r="3.1"/><circle cx="747" cy="270.5" r="3.1"/></g><g class="c32"><circle cx="655.9" cy="274.8" r="3.1"/></g><g class="c33"><circle cx="681.7" cy="276.2" r="3.1"/></g><g class="c30"><circle cx="762" cy="269.5" r="3.1"/></g><g class="c33"><circle cx="603.1" cy="276.5" r="3.1"/><circle cx="575.7" cy="276.1" r="3.1"/></g><g class="c30"><circle cx="540.9" cy="268.9" r="3.1"/></g><g class="c32"><circle cx="564.2" cy="274.8" r="3.1"/></g><g class="c28"><circle cx="530.8" cy="265.2" r="3.1"/></g><g class="c33"><circle cx="675.5" cy="276.3" r="3.1"/><circle cx="586.3" cy="278.4" r="3.1"/></g><g class="c29"><circle cx="762.1" cy="268.6" r="3.1"/></g><g class="c33"><circle cx="576.3" cy="277.4" r="3.1"/><circle cx="611.2" cy="276.3" r="3.1"/></g><g class="c31"><circle cx="557.7" cy="273.3" r="3.1"/></g><g class="c32"><circle cx="702.3" cy="275.3" r="3.1"/><circle cx="659.9" cy="276.2" r="3.1"/></g><g class="c24"><circle cx="526.5" cy="256.4" r="3.1"/></g><g class="c32"><circle cx="694.5" cy="275.4" r="3.1"/><circle cx="669.8" cy="276.1" r="3.1"/><circle cx="710.6" cy="274.5" r="3.1"/></g><g class="c29"><circle cx="762.1" cy="267.2" r="3.1"/></g><g class="c33"><circle cx="607.4" cy="276.9" r="3.1"/><circle cx="686.5" cy="277.4" r="3.1"/></g><g class="c31"><circle cx="720.2" cy="273.2" r="3.1"/><circle cx="731.3" cy="272.4" r="3.1"/><circle cx="551.5" cy="272.4" r="3.1"/></g><g class="c33"><circle cx="603.5" cy="277" r="3.1"/><circle cx="615.2" cy="277" r="3.1"/></g><g class="c29"><circle cx="534.2" cy="268.7" r="3.1"/></g><g class="c33"><circle cx="692.9" cy="277.2" r="3.1"/><circle cx="582.2" cy="278.1" r="3.1"/></g><g class="c27"><circle cx="522.5" cy="264.2" r="3.1"/></g><g class="c23"><circle cx="526.5" cy="254.2" r="3.1"/></g><g class="c33"><circle cx="679.8" cy="277.5" r="3.1"/></g><g class="c32"><circle cx="674.4" cy="276.5" r="3.1"/></g><g class="c33"><circle cx="591.5" cy="278.6" r="3.1"/></g><g class="c30"><circle cx="757.3" cy="271" r="3.1"/></g><g class="c32"><circle cx="566.2" cy="276.6" r="3.1"/></g><g class="c33"><circle cx="572.2" cy="277.7" r="3.1"/></g><g class="c34"><circle cx="583.1" cy="280.5" r="3.1"/></g><g class="c33"><circle cx="599.7" cy="277.4" r="3.1"/></g><g class="c31"><circle cx="553.1" cy="274.7" r="3.1"/></g><g class="c32"><circle cx="708.5" cy="275.6" r="3.1"/></g><g class="c33"><circle cx="595.7" cy="277.9" r="3.1"/><circle cx="685.2" cy="278.2" r="3.1"/></g><g class="c31"><circle cx="728.6" cy="274.1" r="3.1"/></g><g class="c33"><circle cx="572.8" cy="279.1" r="3.1"/></g><g class="c32"><circle cx="560.5" cy="276.6" r="3.1"/><circle cx="699.4" cy="277.3" r="3.1"/></g><g class="c31"><circle cx="717.9" cy="274.6" r="3.1"/></g><g class="c30"><circle cx="545.1" cy="272.5" r="3.1"/></g><g class="c32"><circle cx="658.8" cy="277.3" r="3.1"/><circle cx="663.5" cy="277.2" r="3.1"/></g><g class="c33"><circle cx="611.6" cy="277.8" r="3.1"/><circle cx="607.8" cy="277.8" r="3.1"/></g><g class="c30"><circle cx="741.5" cy="272" r="3.1"/></g><g class="c32"><circle cx="654.2" cy="277.2" r="3.1"/></g><g class="c33"><circle cx="587.7" cy="279.3" r="3.1"/></g><g class="c32"><circle cx="663.1" cy="277.7" r="3.1"/></g><g class="c33"><circle cx="668" cy="277.8" r="3.1"/></g><g class="c26"><circle cx="522.4" cy="261.5" r="3.1"/></g><g class="c33"><circle cx="578.5" cy="279.4" r="3.1"/><circle cx="591.9" cy="278.3" r="3.1"/><circle cx="653.6" cy="279.1" r="3.1"/></g><g class="c32"><circle cx="706.3" cy="277.3" r="3.1"/></g><g class="c33"><circle cx="600.3" cy="278.9" r="3.1"/></g><g class="c30"><circle cx="537.9" cy="271.7" r="3.1"/></g><g class="c32"><circle cx="600.2" cy="278.1" r="3.1"/></g><g class="c33"><circle cx="615.5" cy="279.1" r="3.1"/><circle cx="568.1" cy="278.5" r="3.1"/></g><g class="c31"><circle cx="547.4" cy="274.9" r="3.1"/></g><g class="c32"><circle cx="555.2" cy="276.4" r="3.1"/></g><g class="c34"><circle cx="579.5" cy="281.6" r="3.1"/></g><g class="c31"><circle cx="715.4" cy="275.9" r="3.1"/></g><g class="c33"><circle cx="619.2" cy="280.4" r="3.1"/></g><g class="c28"><circle cx="527.1" cy="267.6" r="3.1"/></g><g class="c33"><circle cx="672.3" cy="278.4" r="3.1"/><circle cx="584" cy="280.4" r="3.1"/></g><g class="c31"><circle cx="725.6" cy="275.1" r="3.1"/></g><g class="c33"><circle cx="689.4" cy="279.8" r="3.1"/><circle cx="657.6" cy="278.9" r="3.1"/></g><g class="c32"><circle cx="562.7" cy="278.4" r="3.1"/><circle cx="677.9" cy="277.9" r="3.1"/></g><g class="c33"><circle cx="596.7" cy="279.3" r="3.1"/></g><g class="c24"><circle cx="522.4" cy="258.9" r="3.1"/></g><g class="c34"><circle cx="574.8" cy="281" r="3.1"/></g><g class="c31"><circle cx="548.5" cy="275.7" r="3.1"/></g><g class="c33"><circle cx="608.3" cy="279.8" r="3.1"/><circle cx="696.4" cy="279.1" r="3.1"/><circle cx="648.8" cy="279.9" r="3.1"/></g><g class="c31"><circle cx="736.8" cy="274.5" r="3.1"/></g><g class="c34"><circle cx="612.1" cy="281.3" r="3.1"/></g><g class="c32"><circle cx="604.4" cy="278.6" r="3.1"/></g><g class="c33"><circle cx="612" cy="279.7" r="3.1"/></g><g class="c30"><circle cx="751.2" cy="272.7" r="3.1"/></g><g class="c33"><circle cx="666.4" cy="279.5" r="3.1"/></g><g class="c32"><circle cx="557.2" cy="278.4" r="3.1"/></g><g class="c33"><circle cx="652.6" cy="280.3" r="3.1"/><circle cx="569.5" cy="279.7" r="3.1"/></g><g class="c30"><circle cx="766.5" cy="272.7" r="3.1"/></g><g class="c34"><circle cx="575.9" cy="283" r="3.1"/></g><g class="c32"><circle cx="712.4" cy="278.1" r="3.1"/></g><g class="c29"><circle cx="530.3" cy="270.4" r="3.1"/></g><g class="c33"><circle cx="564.2" cy="280.1" r="3.1"/><circle cx="588.9" cy="279.8" r="3.1"/></g><g class="c31"><circle cx="541.6" cy="274.9" r="3.1"/></g><g class="c33"><circle cx="615.7" cy="281" r="3.1"/><circle cx="661.2" cy="279.9" r="3.1"/></g><g class="c23"><circle cx="522.3" cy="256.7" r="3.1"/></g><g class="c33"><circle cx="688.2" cy="279.8" r="3.1"/><circle cx="676.3" cy="279.6" r="3.1"/><circle cx="608.6" cy="281.5" r="3.1"/><circle cx="593.2" cy="280.3" r="3.1"/></g><g class="c31"><circle cx="722.5" cy="276.8" r="3.1"/></g><g class="c34"><circle cx="580.6" cy="281.8" r="3.1"/></g><g class="c27"><circle cx="518.5" cy="266.6" r="3.1"/></g><g class="c32"><circle cx="597.2" cy="279.3" r="3.1"/></g><g class="c34"><circle cx="570.9" cy="281.9" r="3.1"/></g><g class="c29"><circle cx="766.6" cy="271" r="3.1"/></g><g class="c32"><circle cx="682" cy="278.8" r="3.1"/></g><g class="c33"><circle cx="593.5" cy="280.4" r="3.1"/></g><g class="c32"><circle cx="702.4" cy="278.7" r="3.1"/></g><g class="c33"><circle cx="605" cy="280.6" r="3.1"/><circle cx="693.5" cy="281.3" r="3.1"/></g><g class="c32"><circle cx="552" cy="279" r="3.1"/></g><g class="c33"><circle cx="589.6" cy="280.7" r="3.1"/></g><g class="c34"><circle cx="612.4" cy="282.8" r="3.1"/></g><g class="c32"><circle cx="710.3" cy="278.9" r="3.1"/></g><g class="c33"><circle cx="601.6" cy="281.3" r="3.1"/></g><g class="c31"><circle cx="732.3" cy="276.3" r="3.1"/></g><g class="c33"><circle cx="665" cy="280.6" r="3.1"/><circle cx="656" cy="280.8" r="3.1"/></g><g class="c31"><circle cx="544.2" cy="277" r="3.1"/></g><g class="c32"><circle cx="559.5" cy="280.1" r="3.1"/></g><g class="c26"><circle cx="518.5" cy="264.1" r="3.1"/></g><g class="c32"><circle cx="670.2" cy="279.1" r="3.1"/><circle cx="719" cy="279.1" r="3.1"/></g><g class="c29"><circle cx="534.1" cy="273.1" r="3.1"/></g><g class="c33"><circle cx="586.1" cy="282.2" r="3.1"/></g><g class="c32"><circle cx="553.1" cy="279.6" r="3.1"/></g><g class="c30"><circle cx="745" cy="275.3" r="3.1"/></g><g class="c33"><circle cx="700.2" cy="280.6" r="3.1"/><circle cx="605.6" cy="282.6" r="3.1"/></g><g class="c34"><circle cx="609.2" cy="283.4" r="3.1"/></g><g class="c33"><circle cx="651.2" cy="282.2" r="3.1"/></g><g class="c30"><circle cx="760.6" cy="274.3" r="3.1"/></g><g class="c25"><circle cx="518.4" cy="262.8" r="3.1"/></g><g class="c28"><circle cx="523.4" cy="270.3" r="3.1"/></g><g class="c33"><circle cx="616" cy="282.6" r="3.1"/></g><g class="c31"><circle cx="729.7" cy="277.7" r="3.1"/></g><g class="c33"><circle cx="566.9" cy="282.2" r="3.1"/><circle cx="659.5" cy="281.7" r="3.1"/><circle cx="707.5" cy="281.1" r="3.1"/><circle cx="668.9" cy="281.3" r="3.1"/></g><g class="c34"><circle cx="577.7" cy="283.2" r="3.1"/><circle cx="573.1" cy="284.1" r="3.1"/></g><g class="c33"><circle cx="655" cy="282.4" r="3.1"/></g><g class="c32"><circle cx="679.6" cy="280.6" r="3.1"/></g><g class="c33"><circle cx="598.5" cy="282.8" r="3.1"/><circle cx="698.8" cy="281.5" r="3.1"/></g><g class="c32"><circle cx="674" cy="280.6" r="3.1"/><circle cx="685.4" cy="280.7" r="3.1"/></g><g class="c33"><circle cx="582.3" cy="282.5" r="3.1"/><circle cx="691.5" cy="281.4" r="3.1"/></g><g class="c34"><circle cx="568.3" cy="284.3" r="3.1"/><circle cx="602.4" cy="283.9" r="3.1"/></g><g class="c33"><circle cx="663.4" cy="282.5" r="3.1"/><circle cx="586.7" cy="282.4" r="3.1"/></g><g class="c31"><circle cx="546.7" cy="278.3" r="3.1"/><circle cx="537.8" cy="276.6" r="3.1"/></g><g class="c33"><circle cx="561.7" cy="281.6" r="3.1"/></g><g class="c32"><circle cx="716.8" cy="278.9" r="3.1"/></g><g class="c31"><circle cx="741" cy="277.1" r="3.1"/></g><g class="c29"><circle cx="526.6" cy="272.6" r="3.1"/></g><g class="c31"><circle cx="539.1" cy="278.2" r="3.1"/></g><g class="c34"><circle cx="606.1" cy="284.4" r="3.1"/></g><g class="c33"><circle cx="591.1" cy="282.6" r="3.1"/><circle cx="684.1" cy="281.6" r="3.1"/><circle cx="556.3" cy="282.2" r="3.1"/></g><g class="c32"><circle cx="548.5" cy="280.3" r="3.1"/></g><g class="c33"><circle cx="667.6" cy="282.3" r="3.1"/><circle cx="658.5" cy="282.4" r="3.1"/></g><g class="c32"><circle cx="678.2" cy="281.5" r="3.1"/></g><g class="c28"><circle cx="514.8" cy="269.9" r="3.1"/></g><g class="c33"><circle cx="563.3" cy="283.7" r="3.1"/><circle cx="650.2" cy="283.4" r="3.1"/></g><g class="c34"><circle cx="599.4" cy="285.1" r="3.1"/></g><g class="c33"><circle cx="619.4" cy="283.2" r="3.1"/></g><g class="c30"><circle cx="755.2" cy="276" r="3.1"/></g><g class="c34"><circle cx="616.2" cy="284.2" r="3.1"/></g><g class="c33"><circle cx="595.4" cy="283.4" r="3.1"/></g><g class="c34"><circle cx="569.8" cy="285.6" r="3.1"/></g><g class="c23"><circle cx="518.3" cy="258.5" r="3.1"/></g><g class="c31"><circle cx="725.6" cy="279.3" r="3.1"/></g><g class="c33"><circle cx="579" cy="283.7" r="3.1"/></g><g class="c34"><circle cx="595.9" cy="285" r="3.1"/></g><g class="c33"><circle cx="704.3" cy="282.1" r="3.1"/></g><g class="c30"><circle cx="530.5" cy="276.2" r="3.1"/></g><g class="c32"><circle cx="672.2" cy="281.6" r="3.1"/></g><g class="c34"><circle cx="613.1" cy="284.7" r="3.1"/></g><g class="c33"><circle cx="583.8" cy="283.9" r="3.1"/></g><g class="c34"><circle cx="603.2" cy="285.8" r="3.1"/></g><g class="c33"><circle cx="653.5" cy="284.3" r="3.1"/></g><g class="c32"><circle cx="713" cy="281.5" r="3.1"/></g><g class="c31"><circle cx="736.7" cy="279.2" r="3.1"/></g><g class="c33"><circle cx="609.8" cy="284.6" r="3.1"/><circle cx="695.7" cy="282.8" r="3.1"/><circle cx="575" cy="284.5" r="3.1"/><circle cx="592.2" cy="284.5" r="3.1"/></g><g class="c32"><circle cx="723.5" cy="280.8" r="3.1"/></g><g class="c33"><circle cx="661.8" cy="283.8" r="3.1"/></g><g class="c26"><circle cx="514.7" cy="267.5" r="3.1"/></g><g class="c30"><circle cx="770.7" cy="276" r="3.1"/></g><g class="c33"><circle cx="558.6" cy="284.4" r="3.1"/></g><g class="c28"><circle cx="518.4" cy="272.2" r="3.1"/></g><g class="c34"><circle cx="619.5" cy="284.8" r="3.1"/></g><g class="c33"><circle cx="702.1" cy="284.3" r="3.1"/></g><g class="c32"><circle cx="550.8" cy="281.6" r="3.1"/></g><g class="c34"><circle cx="565.2" cy="285.3" r="3.1"/></g><g class="c33"><circle cx="580" cy="284.5" r="3.1"/><circle cx="670.8" cy="283.9" r="3.1"/></g><g class="c34"><circle cx="600" cy="285.7" r="3.1"/><circle cx="606.8" cy="285.5" r="3.1"/></g><g class="c33"><circle cx="613.2" cy="285" r="3.1"/></g><g class="c32"><circle cx="688.4" cy="282.3" r="3.1"/></g><g class="c33"><circle cx="676" cy="283.7" r="3.1"/><circle cx="711" cy="283.1" r="3.1"/><circle cx="616.4" cy="284.1" r="3.1"/></g><g class="c31"><circle cx="749.9" cy="278.2" r="3.1"/></g><g class="c34"><circle cx="593.1" cy="286.4" r="3.1"/></g><g class="c32"><circle cx="543.5" cy="280.7" r="3.1"/></g><g class="c33"><circle cx="656.7" cy="284.8" r="3.1"/></g></g><g fill-opacity=".53" stroke-opacity=".53"><g class="c33"><circle cx="588.5" cy="283.2" r="3.1"/></g><g class="c31"><circle cx="533.8" cy="278.3" r="3.1"/></g><g class="c33"><circle cx="576.2" cy="285.2" r="3.1"/><circle cx="652.7" cy="284.9" r="3.1"/></g><g class="c25"><circle cx="514.6" cy="264.9" r="3.1"/></g><g class="c28"><circle cx="770.7" cy="273.5" r="3.1"/></g><g class="c33"><circle cx="665" cy="285.1" r="3.1"/><circle cx="680.8" cy="283.6" r="3.1"/><circle cx="585" cy="284.6" r="3.1"/><circle cx="589.2" cy="285.1" r="3.1"/></g><g class="c34"><circle cx="560.5" cy="285.6" r="3.1"/><circle cx="567.2" cy="287.4" r="3.1"/></g><g class="c31"><circle cx="732.6" cy="280.8" r="3.1"/></g><g class="c34"><circle cx="607.1" cy="286.2" r="3.1"/><circle cx="610.3" cy="285.9" r="3.1"/></g><g class="c33"><circle cx="686.4" cy="283.9" r="3.1"/></g><g class="c34"><circle cx="572.2" cy="286.6" r="3.1"/></g><g class="c33"><circle cx="553.4" cy="283.7" r="3.1"/></g><g class="c32"><circle cx="720" cy="281.9" r="3.1"/><circle cx="730.7" cy="282.5" r="3.1"/></g><g class="c33"><circle cx="660.2" cy="285.4" r="3.1"/></g><g class="c32"><circle cx="545.5" cy="282.1" r="3.1"/></g><g class="c33"><circle cx="674.4" cy="284.7" r="3.1"/></g><g class="c34"><circle cx="585.8" cy="286.6" r="3.1"/><circle cx="604" cy="286.4" r="3.1"/></g><g class="c30"><circle cx="765.1" cy="277.5" r="3.1"/></g><g class="c33"><circle cx="635.1" cy="284.8" r="3.1"/></g><g class="c34"><circle cx="600.9" cy="287.7" r="3.1"/></g><g class="c29"><circle cx="523.8" cy="275.7" r="3.1"/></g><g class="c33"><circle cx="707.9" cy="284.4" r="3.1"/></g><g class="c34"><circle cx="597.4" cy="287.3" r="3.1"/></g><g class="c33"><circle cx="668.5" cy="286" r="3.1"/></g><g class="c32"><circle cx="692.4" cy="283.8" r="3.1"/></g><g class="c33"><circle cx="679.4" cy="284.5" r="3.1"/><circle cx="655.6" cy="285.7" r="3.1"/><circle cx="685" cy="284.9" r="3.1"/><circle cx="616.6" cy="285.8" r="3.1"/><circle cx="691.6" cy="284.6" r="3.1"/></g><g class="c34"><circle cx="590.7" cy="288.4" r="3.1"/><circle cx="604.2" cy="286.9" r="3.1"/></g><g class="c33"><circle cx="581.8" cy="285.4" r="3.1"/></g><g class="c28"><circle cx="511.2" cy="272.9" r="3.1"/></g><g class="c31"><circle cx="744.5" cy="280.1" r="3.1"/></g><g class="c33"><circle cx="705.7" cy="286.3" r="3.1"/><circle cx="572.8" cy="286" r="3.1"/></g><g class="c23"><circle cx="514.6" cy="261.8" r="3.1"/></g><g class="c32"><circle cx="547.8" cy="283.9" r="3.1"/></g><g class="c33"><circle cx="613.6" cy="286.2" r="3.1"/></g><g class="c31"><circle cx="537.9" cy="280.8" r="3.1"/></g><g class="c30"><circle cx="526.7" cy="278" r="3.1"/></g><g class="c34"><circle cx="590.7" cy="287.7" r="3.1"/></g><g class="c33"><circle cx="555.9" cy="285.8" r="3.1"/><circle cx="577.8" cy="286" r="3.1"/></g><g class="c34"><circle cx="569.1" cy="288.7" r="3.1"/><circle cx="563.1" cy="287.5" r="3.1"/><circle cx="594.5" cy="288.3" r="3.1"/></g><g class="c33"><circle cx="697.8" cy="285.1" r="3.1"/></g><g class="c32"><circle cx="539.8" cy="283" r="3.1"/></g><g class="c34"><circle cx="601.3" cy="287.4" r="3.1"/><circle cx="564.1" cy="289" r="3.1"/></g><g class="c33"><circle cx="677.7" cy="286.3" r="3.1"/></g><g class="c34"><circle cx="598.2" cy="288.7" r="3.1"/><circle cx="587.4" cy="288.7" r="3.1"/></g><g class="c33"><circle cx="619.7" cy="285.9" r="3.1"/></g><g class="c34"><circle cx="662.7" cy="287.2" r="3.1"/></g><g class="c33"><circle cx="616.7" cy="286" r="3.1"/></g><g class="c32"><circle cx="715.6" cy="283.9" r="3.1"/></g><g class="c34"><circle cx="671.9" cy="287.2" r="3.1"/></g><g class="c33"><circle cx="662.9" cy="286.5" r="3.1"/></g><g class="c34"><circle cx="583.3" cy="287.9" r="3.1"/></g><g class="c30"><circle cx="759.1" cy="279.5" r="3.1"/></g><g class="c34"><circle cx="557.5" cy="287.2" r="3.1"/></g><g class="c33"><circle cx="683.1" cy="285.8" r="3.1"/></g><g class="c32"><circle cx="726.1" cy="283.3" r="3.1"/></g><g class="c33"><circle cx="550.2" cy="285.6" r="3.1"/><circle cx="713.4" cy="285.8" r="3.1"/></g><g class="c31"><circle cx="739.8" cy="282.1" r="3.1"/></g><g class="c26"><circle cx="511.1" cy="269.9" r="3.1"/></g><g class="c28"><circle cx="515.5" cy="275.2" r="3.1"/></g><g class="c33"><circle cx="574.5" cy="287.2" r="3.1"/><circle cx="696.5" cy="285.2" r="3.1"/><circle cx="658.4" cy="286.3" r="3.1"/></g><g class="c34"><circle cx="598.5" cy="288.4" r="3.1"/></g><g class="c31"><circle cx="531.4" cy="281.4" r="3.1"/></g><g class="c34"><circle cx="570.1" cy="288" r="3.1"/></g><g class="c32"><circle cx="724.5" cy="284.2" r="3.1"/></g><g class="c33"><circle cx="654.5" cy="285.9" r="3.1"/><circle cx="703" cy="286.8" r="3.1"/></g><g class="c34"><circle cx="595.4" cy="289.1" r="3.1"/><circle cx="559.9" cy="289.7" r="3.1"/></g><g class="c32"><circle cx="542.6" cy="284.4" r="3.1"/></g><g class="c33"><circle cx="666.3" cy="287.2" r="3.1"/></g><g class="c34"><circle cx="565.7" cy="289.5" r="3.1"/><circle cx="584.5" cy="289.4" r="3.1"/></g><g class="c33"><circle cx="613.9" cy="286.9" r="3.1"/></g><g class="c30"><circle cx="519.4" cy="278.5" r="3.1"/></g><g class="c33"><circle cx="670.6" cy="287.5" r="3.1"/><circle cx="675.5" cy="287.7" r="3.1"/><circle cx="608.1" cy="287.4" r="3.1"/><circle cx="553.2" cy="287.9" r="3.1"/><circle cx="605.2" cy="287.8" r="3.1"/></g><g class="c34"><circle cx="588.9" cy="290.1" r="3.1"/></g><g class="c31"><circle cx="753" cy="281.8" r="3.1"/></g><g class="c34"><circle cx="592.5" cy="289.9" r="3.1"/></g><g class="c33"><circle cx="710.7" cy="286.7" r="3.1"/><circle cx="579.9" cy="287.1" r="3.1"/></g><g class="c35"><circle cx="561.5" cy="291.1" r="3.1"/></g><g class="c25"><circle cx="511.1" cy="267.1" r="3.1"/></g><g class="c32"><circle cx="534.6" cy="283.7" r="3.1"/></g><g class="c34"><circle cx="580.6" cy="288.7" r="3.1"/></g><g class="c31"><circle cx="737.2" cy="282.1" r="3.1"/></g><g class="c34"><circle cx="553.9" cy="288.8" r="3.1"/></g><g class="c33"><circle cx="657.3" cy="287" r="3.1"/></g><g class="c30"><circle cx="774.4" cy="279.1" r="3.1"/></g><g class="c34"><circle cx="679.6" cy="289.2" r="3.1"/></g><g class="c33"><circle cx="693.5" cy="286.8" r="3.1"/></g><g class="c32"><circle cx="687.2" cy="286" r="3.1"/></g><g class="c33"><circle cx="665.2" cy="287.7" r="3.1"/><circle cx="545.7" cy="286.4" r="3.1"/></g><g class="c32"><circle cx="720.4" cy="285.9" r="3.1"/></g><g class="c34"><circle cx="576.8" cy="288.9" r="3.1"/></g><g class="c32"><circle cx="536.5" cy="284.7" r="3.1"/></g><g class="c34"><circle cx="589.6" cy="290.5" r="3.1"/><circle cx="707.7" cy="288.8" r="3.1"/></g><g class="c32"><circle cx="733.1" cy="284.8" r="3.1"/></g><g class="c34"><circle cx="572.2" cy="289.1" r="3.1"/><circle cx="596.3" cy="289.6" r="3.1"/></g><g class="c31"><circle cx="768.9" cy="282.1" r="3.1"/></g><g class="c33"><circle cx="599.5" cy="288.8" r="3.1"/></g><g class="c34"><circle cx="602.8" cy="289.5" r="3.1"/></g><g class="c33"><circle cx="685.7" cy="287.2" r="3.1"/></g><g class="c29"><circle cx="774.5" cy="277.3" r="3.1"/></g><g class="c34"><circle cx="673.4" cy="289.1" r="3.1"/></g><g class="c33"><circle cx="660.5" cy="287.4" r="3.1"/></g><g class="c28"><circle cx="507.8" cy="275.6" r="3.1"/></g><g class="c33"><circle cx="699.4" cy="287.4" r="3.1"/></g><g class="c23"><circle cx="511" cy="264.2" r="3.1"/></g><g class="c34"><circle cx="582.4" cy="290.7" r="3.1"/></g><g class="c33"><circle cx="652.9" cy="287" r="3.1"/></g><g class="c34"><circle cx="677.9" cy="290" r="3.1"/></g><g class="c33"><circle cx="548.2" cy="288.1" r="3.1"/><circle cx="608.7" cy="288.5" r="3.1"/></g><g class="c31"><circle cx="748" cy="283" r="3.1"/></g><g class="c32"><circle cx="538.9" cy="286.4" r="3.1"/></g><g class="c33"><circle cx="691.7" cy="287.3" r="3.1"/></g><g class="c34"><circle cx="578.2" cy="290.6" r="3.1"/><circle cx="557.3" cy="291.3" r="3.1"/></g><g class="c35"><circle cx="586.9" cy="292.1" r="3.1"/></g><g class="c30"><circle cx="525.3" cy="281.2" r="3.1"/></g><g class="c34"><circle cx="668" cy="289.4" r="3.1"/></g><g class="c33"><circle cx="684.2" cy="288.7" r="3.1"/></g><g class="c34"><circle cx="596.9" cy="290.4" r="3.1"/></g><g class="c33"><circle cx="717.2" cy="287.5" r="3.1"/></g><g class="c34"><circle cx="568.6" cy="290.5" r="3.1"/></g><g class="c32"><circle cx="729.8" cy="286.3" r="3.1"/></g><g class="c35"><circle cx="587.1" cy="292.1" r="3.1"/></g><g class="c33"><circle cx="603" cy="289.2" r="3.1"/></g><g class="c35"><circle cx="558.6" cy="292.8" r="3.1"/></g><g class="c33"><circle cx="606" cy="289" r="3.1"/></g><g class="c34"><circle cx="590.5" cy="291.2" r="3.1"/><circle cx="549.9" cy="289.6" r="3.1"/><circle cx="705" cy="289.7" r="3.1"/></g><g class="c31"><circle cx="528.6" cy="284.3" r="3.1"/></g><g class="c29"><circle cx="512.3" cy="278.6" r="3.1"/></g><g class="c31"><circle cx="744.5" cy="284.9" r="3.1"/></g><g class="c33"><circle cx="659.3" cy="288.7" r="3.1"/></g><g class="c35"><circle cx="594.4" cy="292.2" r="3.1"/></g><g class="c33"><circle cx="689.2" cy="289.5" r="3.1"/></g><g class="c34"><circle cx="564.7" cy="291.8" r="3.1"/></g><g class="c33"><circle cx="714.1" cy="289.4" r="3.1"/></g><g class="c26"><circle cx="507.7" cy="273" r="3.1"/></g><g class="c34"><circle cx="551.7" cy="291.1" r="3.1"/></g><g class="c33"><circle cx="541.9" cy="288" r="3.1"/><circle cx="662.7" cy="289.4" r="3.1"/><circle cx="696.7" cy="288.2" r="3.1"/></g><g class="c35"><circle cx="580.1" cy="292.7" r="3.1"/></g><g class="c32"><circle cx="726.1" cy="287.5" r="3.1"/></g><g class="c30"><circle cx="762.3" cy="283" r="3.1"/></g><g class="c33"><circle cx="676.3" cy="289.9" r="3.1"/><circle cx="574.5" cy="289.6" r="3.1"/></g><g class="c34"><circle cx="559.9" cy="292.6" r="3.1"/></g><g class="c33"><circle cx="703.9" cy="289.1" r="3.1"/></g><g class="c35"><circle cx="584.4" cy="292.9" r="3.1"/></g><g class="c29"><circle cx="516.2" cy="280.7" r="3.1"/></g><g class="c34"><circle cx="594.7" cy="291.4" r="3.1"/></g><g class="c32"><circle cx="655.2" cy="287.7" r="3.1"/></g><g class="c33"><circle cx="606.5" cy="289.4" r="3.1"/></g><g class="c31"><circle cx="531.7" cy="285.4" r="3.1"/></g><g class="c35"><circle cx="554.1" cy="293" r="3.1"/><circle cx="584.8" cy="293.2" r="3.1"/></g><g class="c33"><circle cx="695.3" cy="288.8" r="3.1"/></g><g class="c35"><circle cx="581.2" cy="294" r="3.1"/></g><g class="c33"><circle cx="670.6" cy="290.1" r="3.1"/><circle cx="711.4" cy="290.2" r="3.1"/><circle cx="723.6" cy="288.8" r="3.1"/></g><g class="c34"><circle cx="588.5" cy="292.7" r="3.1"/></g><g class="c33"><circle cx="601" cy="290.6" r="3.1"/></g><g class="c25"><circle cx="507.7" cy="270.2" r="3.1"/></g><g class="c33"><circle cx="544.5" cy="289.3" r="3.1"/><circle cx="680.7" cy="290.5" r="3.1"/><circle cx="662" cy="289.4" r="3.1"/><circle cx="666.1" cy="289.4" r="3.1"/></g><g class="c35"><circle cx="555.7" cy="294.6" r="3.1"/></g><g class="c33"><circle cx="570.8" cy="290.4" r="3.1"/></g><g class="c31"><circle cx="740.1" cy="285.5" r="3.1"/></g><g class="c33"><circle cx="565.7" cy="290.6" r="3.1"/></g><g class="c32"><circle cx="630.6" cy="287.1" r="3.1"/><circle cx="534.1" cy="286.9" r="3.1"/></g><g class="c34"><circle cx="576.6" cy="292.1" r="3.1"/></g><g class="c33"><circle cx="650.9" cy="288.7" r="3.1"/><circle cx="686.3" cy="290.6" r="3.1"/></g><g class="c34"><circle cx="679.7" cy="291.5" r="3.1"/></g><g class="c33"><circle cx="571.4" cy="290.9" r="3.1"/><circle cx="603.9" cy="289.6" r="3.1"/></g><g class="c32"><circle cx="737" cy="287.6" r="3.1"/></g><g class="c31"><circle cx="756.7" cy="284.6" r="3.1"/></g><g class="c33"><circle cx="669.4" cy="290.8" r="3.1"/><circle cx="657.7" cy="288.8" r="3.1"/></g><g class="c31"><circle cx="521.8" cy="284.1" r="3.1"/></g><g class="c34"><circle cx="673.7" cy="291.8" r="3.1"/></g><g class="c33"><circle cx="720.8" cy="289.9" r="3.1"/></g><g class="c35"><circle cx="577.8" cy="293.9" r="3.1"/></g><g class="c32"><circle cx="536.7" cy="288.8" r="3.1"/></g><g class="c33"><circle cx="547.3" cy="291.2" r="3.1"/><circle cx="567" cy="291.3" r="3.1"/></g><g class="c30"><circle cx="777.8" cy="284.1" r="3.1"/></g><g class="c33"><circle cx="538.6" cy="290.5" r="3.1"/></g><g class="c34"><circle cx="573.4" cy="293.3" r="3.1"/></g><g class="c28"><circle cx="504.6" cy="278.9" r="3.1"/></g><g class="c35"><circle cx="578.9" cy="295.5" r="3.1"/></g><g class="c33"><circle cx="692.4" cy="290" r="3.1"/></g><g class="c34"><circle cx="684" cy="292.4" r="3.1"/></g><g class="c33"><circle cx="707.8" cy="291.2" r="3.1"/></g><g class="c31"><circle cx="524.7" cy="285.8" r="3.1"/></g><g class="c34"><circle cx="599" cy="292" r="3.1"/><circle cx="549.2" cy="292.7" r="3.1"/></g><g class="c33"><circle cx="664.6" cy="289.9" r="3.1"/></g><g class="c35"><circle cx="557.5" cy="294.3" r="3.1"/></g><g class="c33"><circle cx="601.8" cy="291" r="3.1"/><circle cx="699" cy="290.6" r="3.1"/></g><g class="c35"><circle cx="583.7" cy="296.2" r="3.1"/></g><g class="c23"><circle cx="507.6" cy="266.5" r="3.1"/></g><g class="c34"><circle cx="593.1" cy="292.8" r="3.1"/></g><g class="c33"><circle cx="599.1" cy="291.7" r="3.1"/><circle cx="607.3" cy="290.4" r="3.1"/></g><g class="c35"><circle cx="587" cy="294.7" r="3.1"/></g><g class="c31"><circle cx="751.6" cy="286.2" r="3.1"/></g><g class="c33"><circle cx="659.8" cy="290.9" r="3.1"/></g><g class="c34"><circle cx="689.4" cy="292.7" r="3.1"/><circle cx="596.3" cy="292.3" r="3.1"/></g><g class="c33"><circle cx="716.9" cy="291.2" r="3.1"/></g><g class="c35"><circle cx="551.7" cy="294.6" r="3.1"/></g><g class="c33"><circle cx="668" cy="290.9" r="3.1"/></g><g class="c34"><circle cx="590.4" cy="293.8" r="3.1"/><circle cx="563.9" cy="293.1" r="3.1"/></g><g class="c29"><circle cx="508.6" cy="280.6" r="3.1"/></g><g class="c33"><circle cx="672.2" cy="291.6" r="3.1"/></g><g class="c32"><circle cx="646.7" cy="288.4" r="3.1"/><circle cx="731.8" cy="288.6" r="3.1"/></g><g class="c35"><circle cx="552.8" cy="295.7" r="3.1"/></g><g class="c31"><circle cx="528.2" cy="287.4" r="3.1"/></g><g class="c35"><circle cx="576.4" cy="296.8" r="3.1"/></g><g class="c32"><circle cx="656.1" cy="289.8" r="3.1"/></g><g class="c30"><circle cx="772.6" cy="284.6" r="3.1"/></g><g class="c34"><circle cx="575.5" cy="294.7" r="3.1"/></g><g class="c27"><circle cx="504.6" cy="275.9" r="3.1"/></g><g class="c29"><circle cx="777.9" cy="280.8" r="3.1"/></g><g class="c34"><circle cx="713.6" cy="293.5" r="3.1"/></g><g class="c32"><circle cx="729.6" cy="289.8" r="3.1"/></g><g class="c34"><circle cx="569.7" cy="292.7" r="3.1"/><circle cx="676.3" cy="292.6" r="3.1"/></g><g class="c35"><circle cx="571.8" cy="296.4" r="3.1"/></g><g class="c33"><circle cx="696.8" cy="291.1" r="3.1"/><circle cx="604.9" cy="290.4" r="3.1"/></g><g class="c34"><circle cx="543.8" cy="293.4" r="3.1"/></g><g class="c33"><circle cx="543" cy="292.2" r="3.1"/></g><g class="c32"><circle cx="610.1" cy="289.5" r="3.1"/></g><g class="c34"><circle cx="590.9" cy="293.4" r="3.1"/><circle cx="594.1" cy="293.4" r="3.1"/><circle cx="565.5" cy="293.9" r="3.1"/></g><g class="c33"><circle cx="602.4" cy="290.7" r="3.1"/></g><g class="c32"><circle cx="643.3" cy="288.4" r="3.1"/><circle cx="649.4" cy="288.5" r="3.1"/></g><g class="c34"><circle cx="588" cy="294.8" r="3.1"/></g><g class="c35"><circle cx="580.9" cy="295.9" r="3.1"/></g><g class="c31"><circle cx="746.7" cy="287.5" r="3.1"/></g><g class="c33"><circle cx="704.2" cy="291.6" r="3.1"/></g><g class="c35"><circle cx="585.1" cy="296.2" r="3.1"/></g><g class="c32"><circle cx="607.7" cy="289.9" r="3.1"/></g><g class="c30"><circle cx="514.6" cy="284.1" r="3.1"/></g><g class="c33"><circle cx="662.5" cy="291.3" r="3.1"/><circle cx="726.5" cy="291.2" r="3.1"/><circle cx="597.2" cy="292.8" r="3.1"/></g><g class="c32"><circle cx="532.1" cy="289.6" r="3.1"/></g><g class="c34"><circle cx="680.5" cy="293.5" r="3.1"/><circle cx="571.6" cy="294.6" r="3.1"/></g><g class="c33"><circle cx="534.1" cy="291.5" r="3.1"/><circle cx="658.6" cy="290.8" r="3.1"/></g><g class="c31"><circle cx="766.4" cy="286.5" r="3.1"/></g><g class="c34"><circle cx="710.9" cy="293.9" r="3.1"/></g><g class="c33"><circle cx="702.1" cy="292.7" r="3.1"/></g><g class="c34"><circle cx="685.7" cy="294.1" r="3.1"/></g><g class="c25"><circle cx="504.5" cy="273.1" r="3.1"/></g><g class="c31"><circle cx="518.9" cy="287" r="3.1"/></g><g class="c32"><circle cx="742.5" cy="289.2" r="3.1"/></g><g class="c33"><circle cx="693.5" cy="292.7" r="3.1"/></g><g class="c34"><circle cx="547" cy="294.7" r="3.1"/></g><g class="c31"><circle cx="632.3" cy="288.2" r="3.1"/></g><g class="c34"><circle cx="561.2" cy="294.4" r="3.1"/><circle cx="674.1" cy="293.5" r="3.1"/></g><g class="c35"><circle cx="568" cy="296" r="3.1"/></g><g class="c34"><circle cx="566.8" cy="293.9" r="3.1"/></g><g class="c33"><circle cx="594.8" cy="293.4" r="3.1"/><circle cx="665.6" cy="291.7" r="3.1"/></g><g class="c32"><circle cx="654.9" cy="289.7" r="3.1"/></g><g class="c34"><circle cx="679" cy="294.3" r="3.1"/><circle cx="585.7" cy="295.6" r="3.1"/></g><g class="c35"><circle cx="578.7" cy="297.5" r="3.1"/></g><g class="c33"><circle cx="669.3" cy="293" r="3.1"/><circle cx="722.5" cy="292.7" r="3.1"/></g><g class="c35"><circle cx="549.2" cy="296.5" r="3.1"/></g><g class="c34"><circle cx="555.9" cy="295.4" r="3.1"/></g><g class="c33"><circle cx="537.1" cy="292.3" r="3.1"/></g><g class="c35"><circle cx="582.9" cy="296.8" r="3.1"/></g><g class="c32"><circle cx="739.6" cy="289.9" r="3.1"/></g><g class="c33"><circle cx="600.7" cy="292.4" r="3.1"/></g><g class="c34"><circle cx="691" cy="294.3" r="3.1"/></g><g class="c31"><circle cx="634.7" cy="288.1" r="3.1"/><circle cx="522.8" cy="288.7" r="3.1"/></g><g class="c34"><circle cx="719.8" cy="294.2" r="3.1"/></g><g class="c32"><circle cx="660.9" cy="291.5" r="3.1"/></g><g class="c29"><circle cx="501.7" cy="282.2" r="3.1"/></g><g class="c31"><circle cx="760.3" cy="288" r="3.1"/></g><g class="c33"><circle cx="595.1" cy="292.3" r="3.1"/><circle cx="684" cy="294.1" r="3.1"/></g><g class="c35"><circle cx="575.5" cy="298.3" r="3.1"/><circle cx="570.5" cy="298" r="3.1"/></g><g class="c31"><circle cx="645.2" cy="288.8" r="3.1"/></g><g class="c33"><circle cx="539.4" cy="293.9" r="3.1"/></g><g class="c34"><circle cx="540.7" cy="295.3" r="3.1"/></g><g class="c35"><circle cx="579.9" cy="298.1" r="3.1"/></g><g class="c23"><circle cx="504.4" cy="270.2" r="3.1"/></g><g class="c33"><circle cx="598.3" cy="292.6" r="3.1"/></g><g class="c34"><circle cx="586.6" cy="295.7" r="3.1"/></g><g class="c35"><circle cx="552.6" cy="298.8" r="3.1"/></g><g class="c34"><circle cx="563.2" cy="294.8" r="3.1"/></g><g class="c33"><circle cx="677.6" cy="294" r="3.1"/><circle cx="668.4" cy="292.5" r="3.1"/></g><g class="c32"><circle cx="657" cy="291.1" r="3.1"/></g><g class="c34"><circle cx="590" cy="295.3" r="3.1"/></g><g class="c32"><circle cx="603.6" cy="291.7" r="3.1"/></g><g class="c33"><circle cx="707.6" cy="293.7" r="3.1"/></g><g class="c34"><circle cx="688.8" cy="295.6" r="3.1"/></g><g class="c32"><circle cx="735.7" cy="291.1" r="3.1"/></g><g class="c34"><circle cx="716.5" cy="295.6" r="3.1"/></g><g class="c35"><circle cx="576.7" cy="299.2" r="3.1"/></g><g class="c31"><circle cx="525.3" cy="289.4" r="3.1"/></g><g class="c33"><circle cx="592.9" cy="293.9" r="3.1"/><circle cx="698.3" cy="293" r="3.1"/></g><g class="c32"><circle cx="663.7" cy="292.2" r="3.1"/></g><g class="c29"><circle cx="506.2" cy="284.3" r="3.1"/></g><g class="c33"><circle cx="697.1" cy="294.3" r="3.1"/><circle cx="671.4" cy="294.6" r="3.1"/></g><g class="c34"><circle cx="558.5" cy="295.7" r="3.1"/></g><g class="c32"><circle cx="608.6" cy="290.4" r="3.1"/></g><g class="c34"><circle cx="682" cy="295" r="3.1"/></g><g class="c32"><circle cx="601.1" cy="291.2" r="3.1"/></g><g class="c31"><circle cx="631.8" cy="288.9" r="3.1"/></g><g class="c32"><circle cx="733.9" cy="291.6" r="3.1"/></g><g class="c27"><circle cx="501.6" cy="279.8" r="3.1"/></g><g class="c34"><circle cx="565" cy="295.5" r="3.1"/></g><g class="c33"><circle cx="590.5" cy="295" r="3.1"/></g><g class="c34"><circle cx="584.5" cy="297.1" r="3.1"/></g><g class="c32"><circle cx="659.2" cy="292.5" r="3.1"/></g><g class="c36"><circle cx="568.4" cy="300.1" r="3.1"/></g><g class="c35"><circle cx="573.3" cy="299.5" r="3.1"/></g><g class="c32"><circle cx="530.1" cy="292.2" r="3.1"/></g><g class="c34"><circle cx="566.8" cy="297.5" r="3.1"/></g><g class="c31"><circle cx="624.8" cy="288.6" r="3.1"/><circle cx="611.1" cy="290.1" r="3.1"/></g><g class="c30"><circle cx="780.8" cy="287.5" r="3.1"/></g><g class="c35"><circle cx="554.5" cy="298.3" r="3.1"/></g><g class="c34"><circle cx="545.1" cy="296.9" r="3.1"/></g><g class="c31"><circle cx="754.4" cy="288.7" r="3.1"/></g><g class="c30"><circle cx="510.9" cy="286.5" r="3.1"/></g><g class="c33"><circle cx="670.5" cy="294.5" r="3.1"/></g><g class="c34"><circle cx="686.1" cy="296.7" r="3.1"/><circle cx="693.7" cy="296.3" r="3.1"/></g><g class="c31"><circle cx="646.9" cy="289.7" r="3.1"/></g><g class="c33"><circle cx="666.5" cy="293.1" r="3.1"/></g><g class="c34"><circle cx="560.5" cy="296.6" r="3.1"/><circle cx="713.6" cy="295.6" r="3.1"/></g><g class="c33"><circle cx="674.7" cy="295.2" r="3.1"/></g><g class="c34"><circle cx="585.2" cy="297.2" r="3.1"/></g><g class="c32"><circle cx="655.5" cy="291.6" r="3.1"/></g><g class="c31"><circle cx="634" cy="288.6" r="3.1"/></g><g class="c36"><circle cx="574.6" cy="300.5" r="3.1"/></g><g class="c33"><circle cx="728.8" cy="293.4" r="3.1"/><circle cx="704.2" cy="293.7" r="3.1"/></g><g class="c32"><circle cx="532.4" cy="293" r="3.1"/><circle cx="604.3" cy="291.3" r="3.1"/></g><g class="c34"><circle cx="588.5" cy="296.2" r="3.1"/></g><g class="c33"><circle cx="679.8" cy="295.5" r="3.1"/></g><g class="c35"><circle cx="547.7" cy="298.3" r="3.1"/><circle cx="549.2" cy="300" r="3.1"/></g><g class="c26"><circle cx="501.5" cy="277.2" r="3.1"/></g><g class="c34"><circle cx="691.4" cy="297.7" r="3.1"/></g><g class="c31"><circle cx="643.7" cy="289.7" r="3.1"/><circle cx="649.4" cy="289.8" r="3.1"/></g><g class="c32"><circle cx="599.5" cy="292.8" r="3.1"/></g><g class="c31"><circle cx="515.9" cy="288.9" r="3.1"/></g><g class="c35"><circle cx="579" cy="299.4" r="3.1"/></g><g class="c33"><circle cx="725.5" cy="295.2" r="3.1"/></g><g class="c31"><circle cx="633.7" cy="289.5" r="3.1"/></g><g class="c30"><circle cx="775.4" cy="288.4" r="3.1"/></g><g class="c33"><circle cx="534.8" cy="294.2" r="3.1"/></g><g class="c36"><circle cx="571.5" cy="301.9" r="3.1"/></g><g class="c32"><circle cx="602.3" cy="292.4" r="3.1"/></g><g class="c31"><circle cx="651.9" cy="290.5" r="3.1"/></g><g class="c34"><circle cx="582.6" cy="297.6" r="3.1"/></g><g class="c33"><circle cx="701.5" cy="294.6" r="3.1"/></g><g class="c31"><circle cx="519.9" cy="291.2" r="3.1"/></g><g class="c34"><circle cx="699.6" cy="296.6" r="3.1"/><circle cx="683.9" cy="296.8" r="3.1"/><circle cx="710" cy="296.3" r="3.1"/></g><g class="c31"><circle cx="631.3" cy="289.6" r="3.1"/></g><g class="c33"><circle cx="592.2" cy="295.5" r="3.1"/></g><g class="c34"><circle cx="556.9" cy="298" r="3.1"/></g><g class="c32"><circle cx="661.3" cy="292.7" r="3.1"/><circle cx="745.3" cy="291.7" r="3.1"/></g><g class="c33"><circle cx="594.9" cy="294.6" r="3.1"/></g><g class="c28"><circle cx="780.9" cy="284" r="3.1"/></g><g class="c33"><circle cx="538" cy="296.2" r="3.1"/></g><g class="c31"><circle cx="607.1" cy="291.1" r="3.1"/></g><g class="c32"><circle cx="600.1" cy="293.5" r="3.1"/></g><g class="c34"><circle cx="722.1" cy="296.5" r="3.1"/></g><g class="c25"><circle cx="501.5" cy="275.2" r="3.1"/></g><g class="c31"><circle cx="769.4" cy="290.7" r="3.1"/></g><g class="c32"><circle cx="657.8" cy="291.7" r="3.1"/></g></g><g fill-opacity=".58" stroke-opacity=".58"><g class="c32"><circle cx="597.6" cy="293.5" r="3.1"/><circle cx="742.8" cy="292.9" r="3.1"/></g><g class="c31"><circle cx="645.8" cy="290.1" r="3.1"/></g><g class="c35"><circle cx="580.7" cy="300.4" r="3.1"/></g><g class="c34"><circle cx="688.5" cy="298.6" r="3.1"/></g><g class="c35"><circle cx="565.6" cy="299.7" r="3.1"/><circle cx="552.2" cy="300.4" r="3.1"/><circle cx="577" cy="301.1" r="3.1"/><circle cx="572.1" cy="301" r="3.1"/></g><g class="c34"><circle cx="539.8" cy="296.9" r="3.1"/></g><g class="c33"><circle cx="677.3" cy="295.9" r="3.1"/></g><g class="c32"><circle cx="668.2" cy="294.2" r="3.1"/><circle cx="523.9" cy="293.1" r="3.1"/></g><g class="c34"><circle cx="696.7" cy="298.2" r="3.1"/></g><g class="c32"><circle cx="597.8" cy="293.7" r="3.1"/></g><g class="c34"><circle cx="583.9" cy="298.4" r="3.1"/><circle cx="542.3" cy="299" r="3.1"/></g><g class="c35"><circle cx="567.2" cy="301.4" r="3.1"/></g><g class="c31"><circle cx="605.1" cy="291.7" r="3.1"/></g><g class="c34"><circle cx="587" cy="297.2" r="3.1"/></g><g class="c33"><circle cx="590.2" cy="296.8" r="3.1"/></g><g class="c34"><circle cx="559" cy="298.9" r="3.1"/><circle cx="718.1" cy="298.2" r="3.1"/></g><g class="c36"><circle cx="568.4" cy="302.5" r="3.1"/></g><g class="c32"><circle cx="663.8" cy="293.5" r="3.1"/></g><g class="c24"><circle cx="501.5" cy="273.2" r="3.1"/></g><g class="c28"><circle cx="498.9" cy="284.8" r="3.1"/></g><g class="c33"><circle cx="707.1" cy="296.6" r="3.1"/></g><g class="c34"><circle cx="564.7" cy="297.1" r="3.1"/></g><g class="c30"><circle cx="502.9" cy="287.6" r="3.1"/></g><g class="c31"><circle cx="616.2" cy="290.2" r="3.1"/></g><g class="c35"><circle cx="544.5" cy="300.1" r="3.1"/></g><g class="c32"><circle cx="603.1" cy="292.9" r="3.1"/></g><g class="c33"><circle cx="671.1" cy="295.9" r="3.1"/></g><g class="c34"><circle cx="694.5" cy="299.1" r="3.1"/></g><g class="c31"><circle cx="650.8" cy="290.7" r="3.1"/></g><g class="c32"><circle cx="738.1" cy="294" r="3.1"/></g><g class="c31"><circle cx="605.4" cy="291.8" r="3.1"/><circle cx="642.5" cy="290.4" r="3.1"/></g><g class="c36"><circle cx="548" cy="303" r="3.1"/></g><g class="c32"><circle cx="659.6" cy="293.2" r="3.1"/></g><g class="c34"><circle cx="581.5" cy="299.6" r="3.1"/><circle cx="680.6" cy="297.7" r="3.1"/></g><g class="c32"><circle cx="527.4" cy="294.1" r="3.1"/></g><g class="c33"><circle cx="528.9" cy="295.4" r="3.1"/></g><g class="c31"><circle cx="656.5" cy="291.9" r="3.1"/><circle cx="763.7" cy="290.8" r="3.1"/></g><g class="c34"><circle cx="686" cy="298.8" r="3.1"/></g><g class="c30"><circle cx="626.6" cy="289.8" r="3.1"/></g><g class="c35"><circle cx="578.6" cy="301.2" r="3.1"/><circle cx="574.7" cy="302.2" r="3.1"/></g><g class="c34"><circle cx="561" cy="299.1" r="3.1"/></g><g class="c33"><circle cx="593.7" cy="295.6" r="3.1"/><circle cx="733.9" cy="295.5" r="3.1"/><circle cx="674.7" cy="296.7" r="3.1"/></g><g class="c27"><circle cx="498.8" cy="282.8" r="3.1"/></g><g class="c31"><circle cx="612.1" cy="290.6" r="3.1"/></g><g class="c34"><circle cx="585.3" cy="298.3" r="3.1"/></g><g class="c32"><circle cx="596.2" cy="294.2" r="3.1"/></g><g class="c33"><circle cx="532.4" cy="297.1" r="3.1"/></g><g class="c36"><circle cx="571.5" cy="304.3" r="3.1"/></g><g class="c32"><circle cx="666" cy="294.7" r="3.1"/></g><g class="c33"><circle cx="669.9" cy="295.7" r="3.1"/><circle cx="679.5" cy="297.4" r="3.1"/></g><g class="c34"><circle cx="714.7" cy="297.9" r="3.1"/></g><g class="c30"><circle cx="508.1" cy="289.1" r="3.1"/></g><g class="c35"><circle cx="563.2" cy="300.8" r="3.1"/></g><g class="c30"><circle cx="614.3" cy="290.2" r="3.1"/></g><g class="c34"><circle cx="555" cy="299.6" r="3.1"/></g><g class="c31"><circle cx="647.1" cy="290.9" r="3.1"/></g><g class="c33"><circle cx="731.7" cy="296.4" r="3.1"/></g><g class="c31"><circle cx="644.4" cy="291" r="3.1"/></g><g class="c32"><circle cx="601.4" cy="293.4" r="3.1"/></g><g class="c34"><circle cx="534.6" cy="298.3" r="3.1"/></g><g class="c33"><circle cx="591.2" cy="295.9" r="3.1"/><circle cx="704.2" cy="296.5" r="3.1"/></g><g class="c32"><circle cx="662.1" cy="293.8" r="3.1"/></g><g class="c36"><circle cx="567" cy="304.8" r="3.1"/></g><g class="c31"><circle cx="658.5" cy="293.1" r="3.1"/></g><g class="c32"><circle cx="599.1" cy="293.9" r="3.1"/></g><g class="c35"><circle cx="580" cy="301.7" r="3.1"/></g><g class="c34"><circle cx="701.2" cy="298.7" r="3.1"/></g><g class="c35"><circle cx="575.5" cy="301.5" r="3.1"/></g><g class="c33"><circle cx="728.5" cy="297.7" r="3.1"/><circle cx="588.8" cy="297" r="3.1"/></g><g class="c35"><circle cx="565.5" cy="302.7" r="3.1"/></g><g class="c34"><circle cx="690.4" cy="300.1" r="3.1"/></g><g class="c31"><circle cx="603.9" cy="292.6" r="3.1"/><circle cx="755.7" cy="292.7" r="3.1"/><circle cx="513.4" cy="291.3" r="3.1"/></g><g class="c32"><circle cx="753.6" cy="293.7" r="3.1"/></g><g class="c34"><circle cx="583.1" cy="299.3" r="3.1"/></g><g class="c33"><circle cx="712.2" cy="298.2" r="3.1"/></g><g class="c35"><circle cx="550.7" cy="302" r="3.1"/></g><g class="c26"><circle cx="498.8" cy="280.5" r="3.1"/></g><g class="c31"><circle cx="649" cy="292" r="3.1"/></g><g class="c34"><circle cx="698.4" cy="300.2" r="3.1"/></g><g class="c31"><circle cx="601.8" cy="293.3" r="3.1"/></g><g class="c32"><circle cx="664.9" cy="294.5" r="3.1"/></g><g class="c35"><circle cx="542.5" cy="303.1" r="3.1"/></g><g class="c30"><circle cx="643.8" cy="291.2" r="3.1"/></g><g class="c34"><circle cx="724.8" cy="299" r="3.1"/></g><g class="c33"><circle cx="672.6" cy="296.9" r="3.1"/><circle cx="683.3" cy="298.5" r="3.1"/></g><g class="c32"><circle cx="668.2" cy="296.1" r="3.1"/></g><g class="c34"><circle cx="557.6" cy="300.1" r="3.1"/></g><g class="c31"><circle cx="517.1" cy="293.3" r="3.1"/></g><g class="c30"><circle cx="616.6" cy="291" r="3.1"/></g><g class="c34"><circle cx="540.3" cy="300.7" r="3.1"/><circle cx="721.3" cy="300.9" r="3.1"/></g><g class="c32"><circle cx="749" cy="295.3" r="3.1"/></g><g class="c31"><circle cx="783.4" cy="291.8" r="3.1"/></g><g class="c33"><circle cx="538.5" cy="298.7" r="3.1"/><circle cx="589.7" cy="296.9" r="3.1"/></g><g class="c32"><circle cx="597.5" cy="294.4" r="3.1"/></g><g class="c33"><circle cx="587" cy="298.2" r="3.1"/></g><g class="c36"><circle cx="562.8" cy="304.8" r="3.1"/></g><g class="c34"><circle cx="687.9" cy="300.5" r="3.1"/></g><g class="c36"><circle cx="574" cy="303.9" r="3.1"/><circle cx="546.2" cy="304.9" r="3.1"/></g><g class="c32"><circle cx="595.1" cy="295.2" r="3.1"/></g><g class="c33"><circle cx="675.7" cy="298.8" r="3.1"/></g><g class="c30"><circle cx="641.1" cy="290.6" r="3.1"/></g><g class="c35"><circle cx="552.4" cy="301.6" r="3.1"/></g><g class="c33"><circle cx="709.4" cy="298.3" r="3.1"/></g><g class="c25"><circle cx="498.7" cy="278.2" r="3.1"/></g><g class="c35"><circle cx="694.4" cy="301.8" r="3.1"/></g><g class="c31"><circle cx="606.7" cy="292.2" r="3.1"/></g><g class="c35"><circle cx="561.5" cy="302.6" r="3.1"/></g><g class="c32"><circle cx="524.2" cy="296.7" r="3.1"/><circle cx="521.9" cy="294.9" r="3.1"/></g><g class="c31"><circle cx="656.8" cy="293.3" r="3.1"/></g><g class="c30"><circle cx="614.8" cy="291.6" r="3.1"/><circle cx="628.2" cy="290.9" r="3.1"/></g><g class="c33"><circle cx="681.3" cy="298.7" r="3.1"/></g><g class="c31"><circle cx="600.3" cy="294.3" r="3.1"/></g><g class="c32"><circle cx="592.9" cy="295.8" r="3.1"/></g><g class="c36"><circle cx="570.4" cy="304.9" r="3.1"/></g><g class="c34"><circle cx="585" cy="299.6" r="3.1"/></g><g class="c31"><circle cx="659.8" cy="293.8" r="3.1"/></g><g class="c30"><circle cx="653.8" cy="292.1" r="3.1"/></g><g class="c34"><circle cx="718.5" cy="300.8" r="3.1"/><circle cx="560.4" cy="300.6" r="3.1"/></g><g class="c31"><circle cx="777.4" cy="292.7" r="3.1"/></g><g class="c33"><circle cx="526.8" cy="297.7" r="3.1"/></g><g class="c35"><circle cx="574.9" cy="303.4" r="3.1"/><circle cx="692.9" cy="302.1" r="3.1"/></g><g class="c32"><circle cx="744.2" cy="295.8" r="3.1"/></g><g class="c31"><circle cx="650.4" cy="292.6" r="3.1"/><circle cx="663.1" cy="294.5" r="3.1"/></g><g class="c36"><circle cx="566.4" cy="306.7" r="3.1"/></g><g class="c35"><circle cx="579.1" cy="302.4" r="3.1"/></g><g class="c33"><circle cx="674.7" cy="298.2" r="3.1"/></g><g class="c32"><circle cx="670.1" cy="297.1" r="3.1"/></g><g class="c33"><circle cx="588.3" cy="298.2" r="3.1"/></g><g class="c32"><circle cx="666" cy="296.1" r="3.1"/></g><g class="c34"><circle cx="554.3" cy="301.3" r="3.1"/><circle cx="532.1" cy="300.6" r="3.1"/><circle cx="679" cy="299.9" r="3.1"/></g><g class="c31"><circle cx="647.4" cy="292.6" r="3.1"/><circle cx="605.2" cy="293.6" r="3.1"/></g><g class="c32"><circle cx="740.3" cy="297.2" r="3.1"/></g><g class="c36"><circle cx="571.7" cy="305.1" r="3.1"/></g><g class="c34"><circle cx="685.3" cy="300.5" r="3.1"/></g><g class="c29"><circle cx="496.3" cy="288.1" r="3.1"/></g><g class="c24"><circle cx="498.7" cy="276" r="3.1"/></g><g class="c30"><circle cx="644.9" cy="292" r="3.1"/></g><g class="c32"><circle cx="596.2" cy="295.6" r="3.1"/></g><g class="c30"><circle cx="500.7" cy="290.8" r="3.1"/></g><g class="c34"><circle cx="582.7" cy="300.8" r="3.1"/></g><g class="c33"><circle cx="530.3" cy="299.1" r="3.1"/></g><g class="c30"><circle cx="626.1" cy="291.9" r="3.1"/><circle cx="613.1" cy="292.1" r="3.1"/></g><g class="c34"><circle cx="702.9" cy="300.8" r="3.1"/></g><g class="c33"><circle cx="705.7" cy="298.5" r="3.1"/></g><g class="c36"><circle cx="567.8" cy="306.5" r="3.1"/></g><g class="c34"><circle cx="534.7" cy="301.5" r="3.1"/></g><g class="c30"><circle cx="620.6" cy="291.4" r="3.1"/></g><g class="c32"><circle cx="594.3" cy="296.6" r="3.1"/></g><g class="c30"><circle cx="607.3" cy="292.3" r="3.1"/></g><g class="c35"><circle cx="699.7" cy="302.8" r="3.1"/></g><g class="c30"><circle cx="505.2" cy="292.5" r="3.1"/></g><g class="c34"><circle cx="690.2" cy="302.4" r="3.1"/></g><g class="c28"><circle cx="783.6" cy="287.4" r="3.1"/></g><g class="c31"><circle cx="770.9" cy="293.5" r="3.1"/></g><g class="c32"><circle cx="665.1" cy="296" r="3.1"/></g><g class="c35"><circle cx="549.6" cy="303.8" r="3.1"/></g><g class="c31"><circle cx="658.3" cy="294.1" r="3.1"/></g><g class="c34"><circle cx="579.8" cy="301.5" r="3.1"/></g><g class="c30"><circle cx="646.9" cy="292.5" r="3.1"/></g><g class="c33"><circle cx="735.4" cy="298.4" r="3.1"/></g><g class="c30"><circle cx="649.4" cy="292.9" r="3.1"/></g><g class="c28"><circle cx="496.3" cy="286.4" r="3.1"/></g><g class="c33"><circle cx="494.2" cy="298.6" r="3.1"/></g><g class="c31"><circle cx="603.6" cy="294.1" r="3.1"/></g><g class="c36"><circle cx="573.3" cy="305.2" r="3.1"/></g><g class="c31"><circle cx="599.3" cy="295" r="3.1"/></g><g class="c35"><circle cx="540.7" cy="304.9" r="3.1"/></g><g class="c36"><circle cx="562.4" cy="306.9" r="3.1"/></g><g class="c34"><circle cx="713.9" cy="300.6" r="3.1"/></g><g class="c32"><circle cx="764.4" cy="295.7" r="3.1"/></g><g class="c31"><circle cx="605.8" cy="293.6" r="3.1"/></g><g class="c33"><circle cx="730.6" cy="300.5" r="3.1"/></g><g class="c34"><circle cx="682.9" cy="300.7" r="3.1"/></g><g class="c30"><circle cx="655" cy="292.8" r="3.1"/></g><g class="c33"><circle cx="732.5" cy="299.2" r="3.1"/></g><g class="c31"><circle cx="601.5" cy="293.8" r="3.1"/></g><g class="c34"><circle cx="558.1" cy="302.2" r="3.1"/><circle cx="576.9" cy="302.6" r="3.1"/></g><g class="c35"><circle cx="560.3" cy="304.3" r="3.1"/><circle cx="550.7" cy="303.4" r="3.1"/></g><g class="c33"><circle cx="672" cy="298.4" r="3.1"/><circle cx="590" cy="298.5" r="3.1"/></g><g class="c34"><circle cx="539.2" cy="302.8" r="3.1"/></g><g class="c31"><circle cx="660.6" cy="295.1" r="3.1"/></g><g class="c30"><circle cx="651.5" cy="293.4" r="3.1"/></g><g class="c33"><circle cx="587.2" cy="299.2" r="3.1"/><circle cx="584.2" cy="300.3" r="3.1"/></g><g class="c31"><circle cx="510.9" cy="294.2" r="3.1"/></g><g class="c32"><circle cx="514" cy="296.1" r="3.1"/></g><g class="c36"><circle cx="570" cy="306.7" r="3.1"/></g><g class="c30"><circle cx="609.9" cy="293.1" r="3.1"/></g><g class="c35"><circle cx="695.4" cy="304.2" r="3.1"/></g><g class="c32"><circle cx="592.5" cy="297" r="3.1"/></g><g class="c36"><circle cx="544.8" cy="306.6" r="3.1"/></g><g class="c32"><circle cx="494.1" cy="297" r="3.1"/></g><g class="c36"><circle cx="564.7" cy="307.8" r="3.1"/></g><g class="c30"><circle cx="654.2" cy="293.5" r="3.1"/><circle cx="615.5" cy="293.2" r="3.1"/></g><g class="c31"><circle cx="648.2" cy="293.8" r="3.1"/></g><g class="c35"><circle cx="723" cy="303.6" r="3.1"/></g><g class="c33"><circle cx="675.9" cy="299.6" r="3.1"/></g><g class="c34"><circle cx="726.3" cy="301.5" r="3.1"/></g><g class="c32"><circle cx="667.4" cy="296.8" r="3.1"/></g><g class="c31"><circle cx="597.6" cy="295.3" r="3.1"/><circle cx="656.9" cy="294.3" r="3.1"/><circle cx="600" cy="295.1" r="3.1"/></g><g class="c33"><circle cx="711.1" cy="300.4" r="3.1"/></g><g class="c31"><circle cx="759.9" cy="295.8" r="3.1"/></g><g class="c30"><circle cx="617.3" cy="293.2" r="3.1"/><circle cx="612.1" cy="293.8" r="3.1"/></g><g class="c34"><circle cx="582.1" cy="301.7" r="3.1"/></g><g class="c26"><circle cx="496.2" cy="283.5" r="3.1"/></g><g class="c31"><circle cx="597.7" cy="295.1" r="3.1"/></g><g class="c30"><circle cx="613.8" cy="292.9" r="3.1"/></g><g class="c35"><circle cx="553.5" cy="303.9" r="3.1"/></g><g class="c30"><circle cx="612.1" cy="293.6" r="3.1"/></g><g class="c34"><circle cx="687" cy="301.9" r="3.1"/></g><g class="c30"><circle cx="624.1" cy="292.2" r="3.1"/></g><g class="c33"><circle cx="588" cy="299.2" r="3.1"/></g><g class="c32"><circle cx="518.7" cy="297.3" r="3.1"/><circle cx="590.2" cy="297" r="3.1"/></g><g class="c35"><circle cx="575.1" cy="304.5" r="3.1"/></g><g class="c33"><circle cx="521.9" cy="299.3" r="3.1"/></g><g class="c37"><circle cx="566.9" cy="308.5" r="3.1"/></g><g class="c31"><circle cx="604.5" cy="294.4" r="3.1"/></g><g class="c35"><circle cx="692.9" cy="304.5" r="3.1"/></g><g class="c33"><circle cx="679.5" cy="301.4" r="3.1"/></g><g class="c30"><circle cx="610.3" cy="293.6" r="3.1"/></g><g class="c31"><circle cx="595.7" cy="295.9" r="3.1"/></g><g class="c32"><circle cx="754.9" cy="297.2" r="3.1"/><circle cx="666.4" cy="296.8" r="3.1"/></g><g class="c33"><circle cx="708.5" cy="301" r="3.1"/></g><g class="c34"><circle cx="720.2" cy="303.4" r="3.1"/></g><g class="c35"><circle cx="546.4" cy="305.5" r="3.1"/><circle cx="571.5" cy="305.6" r="3.1"/></g><g class="c30"><circle cx="649.9" cy="294.3" r="3.1"/></g><g class="c25"><circle cx="496.2" cy="282" r="3.1"/></g><g class="c35"><circle cx="701.6" cy="305.2" r="3.1"/><circle cx="691.8" cy="304.3" r="3.1"/><circle cx="557.4" cy="305.7" r="3.1"/></g><g class="c33"><circle cx="585.8" cy="300" r="3.1"/></g><g class="c32"><circle cx="674.2" cy="299.2" r="3.1"/></g><g class="c30"><circle cx="645" cy="293.1" r="3.1"/></g><g class="c36"><circle cx="560.3" cy="308" r="3.1"/></g><g class="c31"><circle cx="602.9" cy="295" r="3.1"/></g><g class="c34"><circle cx="555.4" cy="303.8" r="3.1"/></g><g class="c31"><circle cx="662.2" cy="295.6" r="3.1"/></g><g class="c34"><circle cx="579.9" cy="302.8" r="3.1"/></g><g class="c32"><circle cx="669.5" cy="298" r="3.1"/></g><g class="c30"><circle cx="615.8" cy="293.5" r="3.1"/></g><g class="c36"><circle cx="568.6" cy="308.4" r="3.1"/></g><g class="c30"><circle cx="494" cy="293.7" r="3.1"/></g><g class="c33"><circle cx="526.9" cy="300.5" r="3.1"/></g><g class="c32"><circle cx="750.4" cy="298" r="3.1"/></g><g class="c34"><circle cx="703.8" cy="302.9" r="3.1"/></g><g class="c31"><circle cx="655.1" cy="295" r="3.1"/></g><g class="c33"><circle cx="529" cy="301.7" r="3.1"/></g><g class="c35"><circle cx="698.8" cy="306.3" r="3.1"/></g><g class="c30"><circle cx="625.7" cy="293" r="3.1"/></g><g class="c34"><circle cx="683.8" cy="302.6" r="3.1"/><circle cx="580.2" cy="302.5" r="3.1"/></g><g class="c30"><circle cx="609" cy="294.5" r="3.1"/></g><g class="c31"><circle cx="594.3" cy="297" r="3.1"/></g><g class="c30"><circle cx="646.8" cy="294" r="3.1"/></g><g class="c37"><circle cx="563.9" cy="309.8" r="3.1"/></g><g class="c35"><circle cx="548.4" cy="305.1" r="3.1"/></g><g class="c33"><circle cx="583.5" cy="300.9" r="3.1"/></g><g class="c31"><circle cx="651.3" cy="295.7" r="3.1"/></g><g class="c30"><circle cx="622.4" cy="293.3" r="3.1"/></g><g class="c32"><circle cx="746.3" cy="299" r="3.1"/></g><g class="c34"><circle cx="531.6" cy="302.5" r="3.1"/></g><g class="c33"><circle cx="677.8" cy="300.7" r="3.1"/></g><g class="c34"><circle cx="577.5" cy="304.2" r="3.1"/></g><g class="c32"><circle cx="743.8" cy="299.8" r="3.1"/></g><g class="c30"><circle cx="603.4" cy="294.8" r="3.1"/></g><g class="c31"><circle cx="601.5" cy="295.7" r="3.1"/></g><g class="c32"><circle cx="586.9" cy="299.7" r="3.1"/></g><g class="c34"><circle cx="534.5" cy="303.7" r="3.1"/></g><g class="c30"><circle cx="648.7" cy="294.8" r="3.1"/></g><g class="c31"><circle cx="664.4" cy="296.7" r="3.1"/></g><g class="c32"><circle cx="589.7" cy="298.5" r="3.1"/></g><g class="c36"><circle cx="542.4" cy="308.5" r="3.1"/></g><g class="c32"><circle cx="592.4" cy="297.8" r="3.1"/></g><g class="c30"><circle cx="497.8" cy="293.7" r="3.1"/></g><g class="c36"><circle cx="541" cy="307.4" r="3.1"/></g><g class="c35"><circle cx="537.3" cy="305" r="3.1"/></g><g class="c29"><circle cx="494" cy="291.6" r="3.1"/></g><g class="c30"><circle cx="616.1" cy="294.3" r="3.1"/></g><g class="c24"><circle cx="496.1" cy="279.3" r="3.1"/></g><g class="c31"><circle cx="785.6" cy="295.7" r="3.1"/></g><g class="c34"><circle cx="689" cy="303.8" r="3.1"/></g><g class="c37"><circle cx="565.6" cy="310" r="3.1"/></g><g class="c30"><circle cx="614.5" cy="294.5" r="3.1"/></g><g class="c34"><circle cx="681.2" cy="303.1" r="3.1"/><circle cx="735.1" cy="303.1" r="3.1"/></g><g class="c33"><circle cx="715.9" cy="302.5" r="3.1"/><circle cx="739.4" cy="301" r="3.1"/></g><g class="c30"><circle cx="612.8" cy="294.5" r="3.1"/></g><g class="c35"><circle cx="695.2" cy="306.7" r="3.1"/></g><g class="c32"><circle cx="672.1" cy="298.9" r="3.1"/></g><g class="c31"><circle cx="597.4" cy="296.3" r="3.1"/></g><g class="c30"><circle cx="614.5" cy="294.4" r="3.1"/></g><g class="c35"><circle cx="575.2" cy="306.2" r="3.1"/></g><g class="c33"><circle cx="585.1" cy="301.4" r="3.1"/></g><g class="c31"><circle cx="667.5" cy="297.5" r="3.1"/></g><g class="c30"><circle cx="617.8" cy="294.8" r="3.1"/></g><g class="c31"><circle cx="597.8" cy="296.5" r="3.1"/></g><g class="c37"><circle cx="558.5" cy="310.1" r="3.1"/></g><g class="c33"><circle cx="675.6" cy="300.8" r="3.1"/></g><g class="c30"><circle cx="653.5" cy="295.1" r="3.1"/><circle cx="643.4" cy="294.1" r="3.1"/></g><g class="c34"><circle cx="552.1" cy="305.3" r="3.1"/><circle cx="712" cy="303.8" r="3.1"/></g><g class="c35"><circle cx="724.5" cy="307.1" r="3.1"/></g><g class="c31"><circle cx="778.9" cy="296.8" r="3.1"/><circle cx="600.3" cy="296.7" r="3.1"/></g><g class="c30"><circle cx="622.4" cy="294.2" r="3.1"/></g><g class="c31"><circle cx="508.6" cy="297.6" r="3.1"/></g><g class="c30"><circle cx="650.3" cy="295.1" r="3.1"/></g><g class="c36"><circle cx="567.1" cy="309.7" r="3.1"/><circle cx="545.4" cy="308.4" r="3.1"/></g><g class="c31"><circle cx="595.8" cy="297.2" r="3.1"/></g><g class="c28"><circle cx="493.9" cy="289.7" r="3.1"/></g><g class="c30"><circle cx="659.5" cy="295.9" r="3.1"/></g><g class="c33"><circle cx="492.1" cy="302.1" r="3.1"/><circle cx="733.1" cy="302.4" r="3.1"/></g><g class="c34"><circle cx="728" cy="304.8" r="3.1"/></g><g class="c30"><circle cx="504.7" cy="295.1" r="3.1"/></g><g class="c35"><circle cx="693.5" cy="306.2" r="3.1"/></g><g class="c33"><circle cx="582.9" cy="302.5" r="3.1"/></g><g class="c30"><circle cx="602.4" cy="295.6" r="3.1"/><circle cx="613.2" cy="294.8" r="3.1"/></g><g class="c34"><circle cx="686.6" cy="303.6" r="3.1"/></g><g class="c30"><circle cx="655.6" cy="295.9" r="3.1"/></g><g class="c32"><circle cx="588.4" cy="299.3" r="3.1"/><circle cx="513.5" cy="299.1" r="3.1"/></g><g class="c33"><circle cx="679.1" cy="302.7" r="3.1"/></g><g class="c30"><circle cx="659" cy="295.9" r="3.1"/></g><g class="c34"><circle cx="554.3" cy="305.5" r="3.1"/></g><g class="c37"><circle cx="562.5" cy="311.4" r="3.1"/></g><g class="c34"><circle cx="576.6" cy="305.6" r="3.1"/></g><g class="c32"><circle cx="517.1" cy="300.8" r="3.1"/></g><g class="c34"><circle cx="708.6" cy="304.2" r="3.1"/><circle cx="580.4" cy="304.2" r="3.1"/></g><g class="c31"><circle cx="772.4" cy="297.9" r="3.1"/></g><g class="c35"><circle cx="572.8" cy="307.1" r="3.1"/></g><g class="c34"><circle cx="706.5" cy="305.1" r="3.1"/></g><g class="c31"><circle cx="665.6" cy="297.6" r="3.1"/></g><g class="c35"><circle cx="702.3" cy="307.2" r="3.1"/><circle cx="558.4" cy="307.7" r="3.1"/></g><g class="c31"><circle cx="601.1" cy="296.8" r="3.1"/></g><g class="c30"><circle cx="602.8" cy="295.5" r="3.1"/></g><g class="c31"><circle cx="591.7" cy="298.3" r="3.1"/></g><g class="c27"><circle cx="493.9" cy="287.7" r="3.1"/></g><g class="c30"><circle cx="605" cy="295.8" r="3.1"/></g><g class="c33"><circle cx="584.1" cy="302.3" r="3.1"/></g><g class="c29"><circle cx="623.9" cy="294" r="3.1"/></g><g class="c31"><circle cx="594.1" cy="297" r="3.1"/></g><g class="c37"><circle cx="564.9" cy="312" r="3.1"/></g><g class="c33"><circle cx="521.2" cy="301.6" r="3.1"/></g><g class="c31"><circle cx="766.9" cy="298.8" r="3.1"/></g><g class="c35"><circle cx="700.1" cy="307.9" r="3.1"/></g><g class="c33"><circle cx="523.2" cy="302.6" r="3.1"/></g><g class="c28"><circle cx="785.8" cy="291.4" r="3.1"/></g><g class="c33"><circle cx="677.9" cy="302.1" r="3.1"/></g><g class="c32"><circle cx="586.3" cy="299.6" r="3.1"/></g><g class="c34"><circle cx="577.5" cy="305.1" r="3.1"/><circle cx="721.2" cy="305.8" r="3.1"/></g><g class="c32"><circle cx="668.4" cy="299.2" r="3.1"/><circle cx="672.8" cy="300.5" r="3.1"/></g><g class="c30"><circle cx="661.3" cy="296.6" r="3.1"/><circle cx="638.2" cy="294.6" r="3.1"/></g><g class="c33"><circle cx="526.3" cy="303.8" r="3.1"/></g><g class="c35"><circle cx="547.9" cy="307.1" r="3.1"/></g><g class="c30"><circle cx="616.6" cy="295.6" r="3.1"/></g><g class="c34"><circle cx="690.8" cy="305.5" r="3.1"/></g><g class="c31"><circle cx="599.5" cy="297.3" r="3.1"/><circle cx="492" cy="299.2" r="3.1"/></g><g class="c32"><circle cx="589.9" cy="299.5" r="3.1"/></g><g class="c30"><circle cx="605.2" cy="295.5" r="3.1"/><circle cx="613.7" cy="295.6" r="3.1"/><circle cx="639.7" cy="295.3" r="3.1"/></g><g class="c31"><circle cx="597.6" cy="298" r="3.1"/></g><g class="c35"><circle cx="569.8" cy="308.6" r="3.1"/></g><g class="c33"><circle cx="682.7" cy="303.9" r="3.1"/></g><g class="c36"><circle cx="541.3" cy="311" r="3.1"/></g><g class="c34"><circle cx="574.1" cy="306.4" r="3.1"/></g><g class="c30"><circle cx="641.6" cy="295.4" r="3.1"/><circle cx="618.1" cy="295.2" r="3.1"/></g><g class="c31"><circle cx="592.8" cy="298.6" r="3.1"/></g><g class="c30"><circle cx="601.8" cy="296.6" r="3.1"/></g><g class="c31"><circle cx="663.6" cy="297.9" r="3.1"/></g><g class="c36"><circle cx="566.3" cy="311.4" r="3.1"/></g><g class="c35"><circle cx="538.4" cy="308.9" r="3.1"/></g><g class="c31"><circle cx="659.9" cy="297.2" r="3.1"/></g><g class="c34"><circle cx="530.6" cy="304.8" r="3.1"/></g><g class="c35"><circle cx="696.1" cy="308.6" r="3.1"/></g><g class="c30"><circle cx="656.4" cy="296.8" r="3.1"/></g><g class="c34"><circle cx="718.1" cy="305.7" r="3.1"/></g><g class="c35"><circle cx="550.9" cy="307.5" r="3.1"/><circle cx="535.7" cy="307.1" r="3.1"/></g><g class="c31"><circle cx="667.6" cy="298.4" r="3.1"/></g><g class="c34"><circle cx="534" cy="306.2" r="3.1"/></g><g class="c30"><circle cx="621" cy="295.6" r="3.1"/></g><g class="c34"><circle cx="688" cy="305.8" r="3.1"/></g><g class="c31"><circle cx="595.9" cy="298.3" r="3.1"/></g><g class="c32"><circle cx="670.9" cy="300.4" r="3.1"/></g><g class="c31"><circle cx="491.9" cy="297.4" r="3.1"/></g><g class="c35"><circle cx="571.7" cy="308.6" r="3.1"/></g><g class="c37"><circle cx="559.5" cy="312.2" r="3.1"/></g><g class="c31"><circle cx="759.9" cy="298.8" r="3.1"/></g><g class="c35"><circle cx="694.9" cy="308.3" r="3.1"/></g><g class="c29"><circle cx="623.7" cy="295" r="3.1"/></g><g class="c32"><circle cx="751" cy="302" r="3.1"/><circle cx="588.5" cy="300.3" r="3.1"/></g><g class="c30"><circle cx="600.5" cy="297.3" r="3.1"/></g><g class="c33"><circle cx="679.5" cy="304.5" r="3.1"/></g><g class="c32"><circle cx="675.5" cy="301.5" r="3.1"/></g><g class="c25"><circle cx="493.8" cy="284.3" r="3.1"/></g><g class="c37"><circle cx="561.1" cy="312.6" r="3.1"/></g><g class="c32"><circle cx="754.9" cy="300.2" r="3.1"/></g><g class="c35"><circle cx="556.5" cy="309.7" r="3.1"/><circle cx="553" cy="307.4" r="3.1"/></g><g class="c31"><circle cx="661.8" cy="298.5" r="3.1"/></g><g class="c30"><circle cx="598.4" cy="297.2" r="3.1"/></g><g class="c31"><circle cx="591.1" cy="298.7" r="3.1"/></g><g class="c36"><circle cx="544.8" cy="310.3" r="3.1"/></g><g class="c32"><circle cx="586.1" cy="301.4" r="3.1"/><circle cx="748.7" cy="302.1" r="3.1"/></g><g class="c30"><circle cx="619.7" cy="295.5" r="3.1"/><circle cx="658.4" cy="297.1" r="3.1"/><circle cx="604.8" cy="297.1" r="3.1"/></g><g class="c34"><circle cx="714.2" cy="305.4" r="3.1"/><circle cx="739.2" cy="305.2" r="3.1"/></g><g class="c35"><circle cx="704.5" cy="309.9" r="3.1"/></g><g class="c37"><circle cx="563.3" cy="313" r="3.1"/></g><g class="c33"><circle cx="744.9" cy="302.9" r="3.1"/></g><g class="c31"><circle cx="665.7" cy="298.4" r="3.1"/></g><g class="c35"><circle cx="691.7" cy="308.6" r="3.1"/></g><g class="c33"><circle cx="580.8" cy="304.5" r="3.1"/></g><g class="c36"><circle cx="568.5" cy="310.1" r="3.1"/></g><g class="c29"><circle cx="615.6" cy="295.7" r="3.1"/></g><g class="c31"><circle cx="594.4" cy="298.4" r="3.1"/><circle cx="599.4" cy="298.4" r="3.1"/></g><g class="c29"><circle cx="636.8" cy="295.4" r="3.1"/></g><g class="c30"><circle cx="603.2" cy="297.2" r="3.1"/></g><g class="c34"><circle cx="684.1" cy="306" r="3.1"/></g><g class="c33"><circle cx="576.6" cy="305.2" r="3.1"/></g><g class="c29"><circle cx="491.9" cy="295.1" r="3.1"/></g><g class="c35"><circle cx="725" cy="309.9" r="3.1"/></g><g class="c30"><circle cx="496.9" cy="297.1" r="3.1"/></g><g class="c34"><circle cx="734.5" cy="306.1" r="3.1"/></g><g class="c24"><circle cx="493.8" cy="282.3" r="3.1"/></g><g class="c34"><circle cx="735.8" cy="305.5" r="3.1"/></g><g class="c30"><circle cx="638.2" cy="296.1" r="3.1"/></g><g class="c31"><circle cx="669.1" cy="299.6" r="3.1"/></g><g class="c30"><circle cx="617.1" cy="296.1" r="3.1"/></g><g class="c32"><circle cx="584.3" cy="302.5" r="3.1"/></g><g class="c34"><circle cx="710" cy="306.2" r="3.1"/></g><g class="c35"><circle cx="701.4" cy="310.3" r="3.1"/></g><g class="c30"><circle cx="646" cy="296.7" r="3.1"/></g><g class="c35"><circle cx="574.7" cy="308.1" r="3.1"/></g><g class="c33"><circle cx="677.3" cy="303.7" r="3.1"/></g><g class="c36"><circle cx="565.2" cy="312.7" r="3.1"/></g><g class="c34"><circle cx="727.6" cy="308" r="3.1"/></g><g class="c35"><circle cx="547.6" cy="309.6" r="3.1"/></g><g class="c34"><circle cx="707.1" cy="307" r="3.1"/></g><g class="c32"><circle cx="587.7" cy="301.3" r="3.1"/></g><g class="c37"><circle cx="555.9" cy="313.8" r="3.1"/></g><g class="c32"><circle cx="511.6" cy="302.2" r="3.1"/></g><g class="c31"><circle cx="673" cy="300.9" r="3.1"/><circle cx="663.6" cy="299.2" r="3.1"/></g><g class="c29"><circle cx="623.6" cy="295.7" r="3.1"/></g><g class="c32"><circle cx="584.7" cy="302" r="3.1"/></g><g class="c29"><circle cx="621.1" cy="296.2" r="3.1"/></g><g class="c31"><circle cx="590.2" cy="299.6" r="3.1"/><circle cx="593.1" cy="299.1" r="3.1"/></g><g class="c30"><circle cx="602.2" cy="298.1" r="3.1"/><circle cx="656.2" cy="297.9" r="3.1"/></g><g class="c35"><circle cx="571.4" cy="310.3" r="3.1"/><circle cx="548.7" cy="309.5" r="3.1"/></g><g class="c31"><circle cx="595.8" cy="298.9" r="3.1"/></g><g class="c34"><circle cx="688.9" cy="308.2" r="3.1"/></g><g class="c30"><circle cx="503.8" cy="298.4" r="3.1"/></g><g class="c33"><circle cx="578.2" cy="305" r="3.1"/></g><g class="c36"><circle cx="697.9" cy="310.8" r="3.1"/></g><g class="c30"><circle cx="613.3" cy="296.5" r="3.1"/></g><g class="c37"><circle cx="559.6" cy="314.8" r="3.1"/></g><g class="c31"><circle cx="659" cy="298.8" r="3.1"/></g><g class="c33"><circle cx="521.4" cy="305.4" r="3.1"/></g><g class="c30"><circle cx="637.5" cy="296.7" r="3.1"/></g><g class="c35"><circle cx="722.2" cy="309.1" r="3.1"/></g><g class="c29"><circle cx="619.8" cy="296.2" r="3.1"/></g><g class="c31"><circle cx="507.8" cy="299.7" r="3.1"/></g><g class="c33"><circle cx="582.9" cy="304.3" r="3.1"/></g><g class="c32"><circle cx="516.4" cy="303.1" r="3.1"/></g><g class="c30"><circle cx="604.2" cy="297.7" r="3.1"/></g><g class="c29"><circle cx="617.3" cy="296.1" r="3.1"/></g><g class="c36"><circle cx="537" cy="311.6" r="3.1"/></g><g class="c35"><circle cx="533.6" cy="310.2" r="3.1"/></g><g class="c36"><circle cx="539.7" cy="312.7" r="3.1"/></g><g class="c30"><circle cx="612" cy="296.6" r="3.1"/></g><g class="c36"><circle cx="566.7" cy="312.1" r="3.1"/></g><g class="c33"><circle cx="681.6" cy="305.3" r="3.1"/></g><g class="c29"><circle cx="641.2" cy="296.1" r="3.1"/></g><g class="c32"><circle cx="518.2" cy="303.5" r="3.1"/></g><g class="c33"><circle cx="490.2" cy="305.2" r="3.1"/></g><g class="c31"><circle cx="667.4" cy="299.1" r="3.1"/></g><g class="c32"><circle cx="675.8" cy="303" r="3.1"/></g><g class="c30"><circle cx="598.5" cy="298.4" r="3.1"/></g><g class="c35"><circle cx="695.6" cy="310.9" r="3.1"/></g><g class="c30"><circle cx="638.8" cy="297.3" r="3.1"/></g><g class="c37"><circle cx="561" cy="314.5" r="3.1"/></g><g class="c30"><circle cx="622.3" cy="296.7" r="3.1"/></g><g class="c28"><circle cx="491.8" cy="292.1" r="3.1"/></g><g class="c33"><circle cx="525.7" cy="306.1" r="3.1"/></g><g class="c34"><circle cx="576.2" cy="307.1" r="3.1"/><circle cx="528.1" cy="306.9" r="3.1"/></g><g class="c30"><circle cx="662.1" cy="298.9" r="3.1"/></g><g class="c35"><circle cx="554.6" cy="310.8" r="3.1"/></g><g class="c34"><circle cx="530.7" cy="307.8" r="3.1"/></g><g class="c35"><circle cx="572.7" cy="309.4" r="3.1"/></g><g class="c30"><circle cx="602.9" cy="298.1" r="3.1"/></g><g class="c31"><circle cx="787.5" cy="299.4" r="3.1"/></g><g class="c30"><circle cx="642.2" cy="297.4" r="3.1"/></g><g class="c35"><circle cx="552.4" cy="309.4" r="3.1"/></g><g class="c29"><circle cx="624.8" cy="295.9" r="3.1"/><circle cx="623.5" cy="296.7" r="3.1"/></g><g class="c31"><circle cx="589.4" cy="300.7" r="3.1"/></g><g class="c33"><circle cx="679.2" cy="305.4" r="3.1"/></g><g class="c34"><circle cx="686.2" cy="307.4" r="3.1"/></g><g class="c30"><circle cx="599.3" cy="298.7" r="3.1"/></g><g class="c31"><circle cx="668.9" cy="301.5" r="3.1"/></g><g class="c34"><circle cx="717.6" cy="308.4" r="3.1"/></g><g class="c31"><circle cx="586.9" cy="301.7" r="3.1"/></g><g class="c30"><circle cx="595" cy="299.4" r="3.1"/><circle cx="640" cy="297.4" r="3.1"/></g><g class="c35"><circle cx="542.7" cy="311.6" r="3.1"/></g><g class="c37"><circle cx="564.3" cy="314.6" r="3.1"/></g><g class="c31"><circle cx="592.4" cy="299.7" r="3.1"/><circle cx="781.8" cy="299.8" r="3.1"/></g><g class="c33"><circle cx="581.8" cy="305.5" r="3.1"/></g><g class="c32"><circle cx="490.1" cy="303" r="3.1"/></g><g class="c35"><circle cx="692.8" cy="310.1" r="3.1"/></g><g class="c32"><circle cx="673.6" cy="302.7" r="3.1"/></g><g class="c27"><circle cx="491.7" cy="290.2" r="3.1"/></g><g class="c31"><circle cx="595.7" cy="300" r="3.1"/><circle cx="664.2" cy="299.9" r="3.1"/><circle cx="773.2" cy="301.6" r="3.1"/></g><g class="c35"><circle cx="569.7" cy="311.1" r="3.1"/></g><g class="c30"><circle cx="600.3" cy="299.4" r="3.1"/></g><g class="c33"><circle cx="578.5" cy="306.8" r="3.1"/></g><g class="c36"><circle cx="704.7" cy="312.3" r="3.1"/></g><g class="c30"><circle cx="598.1" cy="299.5" r="3.1"/><circle cx="641.1" cy="298.1" r="3.1"/></g><g class="c34"><circle cx="574.4" cy="308.4" r="3.1"/></g><g class="c31"><circle cx="590.9" cy="301" r="3.1"/><circle cx="593.9" cy="300.7" r="3.1"/></g><g class="c29"><circle cx="617.7" cy="296.7" r="3.1"/></g><g class="c33"><circle cx="579.1" cy="306.8" r="3.1"/></g><g class="c36"><circle cx="701.8" cy="312.8" r="3.1"/></g><g class="c30"><circle cx="658.9" cy="299.9" r="3.1"/></g><g class="c34"><circle cx="714.5" cy="307.9" r="3.1"/></g><g class="c33"><circle cx="683.3" cy="307.1" r="3.1"/></g><g class="c36"><circle cx="699.7" cy="313.5" r="3.1"/></g><g class="c35"><circle cx="544.9" cy="311" r="3.1"/></g><g class="c32"><circle cx="585.7" cy="303.3" r="3.1"/></g><g class="c29"><circle cx="612.9" cy="297.5" r="3.1"/></g><g class="c37"><circle cx="555.5" cy="315.3" r="3.1"/></g><g class="c29"><circle cx="637.6" cy="297.3" r="3.1"/></g><g class="c37"><circle cx="559.3" cy="316.7" r="3.1"/></g><g class="c29"><circle cx="620.1" cy="297.7" r="3.1"/></g><g class="c34"><circle cx="690.2" cy="309.8" r="3.1"/></g><g class="c30"><circle cx="598.7" cy="299.5" r="3.1"/></g><g class="c31"><circle cx="767.3" cy="302.1" r="3.1"/></g><g class="c36"><circle cx="566.4" cy="313.8" r="3.1"/></g></g><g fill-opacity=".63" stroke-opacity=".63"><g class="c31"><circle cx="588.3" cy="301.3" r="3.1"/></g><g class="c35"><circle cx="707.3" cy="310.2" r="3.1"/></g><g class="c29"><circle cx="619" cy="297.2" r="3.1"/></g><g class="c32"><circle cx="761.9" cy="303.4" r="3.1"/></g><g class="c31"><circle cx="662.2" cy="300.6" r="3.1"/><circle cx="667" cy="300.8" r="3.1"/></g><g class="c32"><circle cx="676.2" cy="304.5" r="3.1"/></g><g class="c34"><circle cx="711.1" cy="308.3" r="3.1"/></g><g class="c30"><circle cx="642.4" cy="298.2" r="3.1"/><circle cx="604.6" cy="298.4" r="3.1"/></g><g class="c35"><circle cx="547.3" cy="310.8" r="3.1"/></g><g class="c36"><circle cx="553.3" cy="313.3" r="3.1"/></g><g class="c25"><circle cx="491.7" cy="287.7" r="3.1"/></g><g class="c29"><circle cx="622.3" cy="297.3" r="3.1"/></g><g class="c34"><circle cx="576.8" cy="308.4" r="3.1"/></g><g class="c30"><circle cx="490" cy="300.2" r="3.1"/></g><g class="c32"><circle cx="753.3" cy="304.9" r="3.1"/></g><g class="c37"><circle cx="560.9" cy="316.2" r="3.1"/></g><g class="c36"><circle cx="696.2" cy="313.3" r="3.1"/></g><g class="c30"><circle cx="597.5" cy="300.3" r="3.1"/></g><g class="c35"><circle cx="727.5" cy="311.9" r="3.1"/></g><g class="c30"><circle cx="603.5" cy="299.6" r="3.1"/></g><g class="c37"><circle cx="540.1" cy="315.7" r="3.1"/></g><g class="c31"><circle cx="670.5" cy="302.3" r="3.1"/></g><g class="c33"><circle cx="747.9" cy="306.1" r="3.1"/></g><g class="c32"><circle cx="584.1" cy="304.5" r="3.1"/><circle cx="757.3" cy="303.4" r="3.1"/></g><g class="c29"><circle cx="622.3" cy="297.1" r="3.1"/></g><g class="c36"><circle cx="568.2" cy="313.2" r="3.1"/></g><g class="c31"><circle cx="590.2" cy="302.1" r="3.1"/><circle cx="665.7" cy="300.8" r="3.1"/></g><g class="c34"><circle cx="686.6" cy="309.9" r="3.1"/></g><g class="c35"><circle cx="730.3" cy="310.8" r="3.1"/></g><g class="c31"><circle cx="592.9" cy="301.3" r="3.1"/></g><g class="c33"><circle cx="680.6" cy="306.6" r="3.1"/></g><g class="c28"><circle cx="787.6" cy="294.7" r="3.1"/></g><g class="c35"><circle cx="550.6" cy="311.2" r="3.1"/></g><g class="c29"><circle cx="638.3" cy="297.8" r="3.1"/></g><g class="c31"><circle cx="586.5" cy="301.8" r="3.1"/></g><g class="c29"><circle cx="612.2" cy="297.5" r="3.1"/></g><g class="c30"><circle cx="600" cy="299.8" r="3.1"/></g><g class="c33"><circle cx="746" cy="305.8" r="3.1"/><circle cx="742.8" cy="306.7" r="3.1"/></g><g class="c34"><circle cx="737.3" cy="308.2" r="3.1"/></g><g class="c36"><circle cx="535.3" cy="313.2" r="3.1"/></g><g class="c33"><circle cx="514.9" cy="306.8" r="3.1"/></g><g class="c37"><circle cx="563" cy="315.9" r="3.1"/></g><g class="c32"><circle cx="672.8" cy="304.9" r="3.1"/></g><g class="c34"><circle cx="572.7" cy="309.4" r="3.1"/></g><g class="c29"><circle cx="609.8" cy="298.4" r="3.1"/></g><g class="c34"><circle cx="733.4" cy="309" r="3.1"/></g><g class="c29"><circle cx="620.3" cy="298.3" r="3.1"/></g><g class="c30"><circle cx="595.7" cy="300.1" r="3.1"/></g><g class="c32"><circle cx="510.5" cy="305" r="3.1"/></g><g class="c36"><circle cx="540.5" cy="314.4" r="3.1"/></g><g class="c32"><circle cx="507" cy="303.9" r="3.1"/></g><g class="c31"><circle cx="500.6" cy="301.9" r="3.1"/><circle cx="668.5" cy="302.3" r="3.1"/></g><g class="c30"><circle cx="494.9" cy="300" r="3.1"/></g><g class="c31"><circle cx="590.9" cy="301.7" r="3.1"/></g><g class="c34"><circle cx="523.9" cy="308.9" r="3.1"/></g><g class="c35"><circle cx="722.2" cy="311.6" r="3.1"/></g><g class="c24"><circle cx="491.6" cy="285.4" r="3.1"/></g><g class="c30"><circle cx="596.7" cy="301.2" r="3.1"/></g><g class="c34"><circle cx="526.6" cy="309.6" r="3.1"/></g><g class="c29"><circle cx="625.4" cy="297.8" r="3.1"/></g><g class="c36"><circle cx="564.4" cy="315.6" r="3.1"/></g><g class="c35"><circle cx="533.4" cy="311.7" r="3.1"/><circle cx="693.6" cy="312.2" r="3.1"/></g><g class="c31"><circle cx="584.9" cy="303.5" r="3.1"/></g><g class="c30"><circle cx="598.5" cy="299.9" r="3.1"/></g><g class="c31"><circle cx="594.4" cy="301.6" r="3.1"/></g><g class="c34"><circle cx="531.5" cy="310.9" r="3.1"/></g><g class="c29"><circle cx="490" cy="297.9" r="3.1"/></g><g class="c33"><circle cx="520.9" cy="307.6" r="3.1"/><circle cx="518.3" cy="306.7" r="3.1"/></g><g class="c32"><circle cx="582.5" cy="305.6" r="3.1"/></g><g class="c34"><circle cx="684.3" cy="309" r="3.1"/></g><g class="c30"><circle cx="642.2" cy="299.4" r="3.1"/></g><g class="c31"><circle cx="589.4" cy="303.1" r="3.1"/></g><g class="c30"><circle cx="662.7" cy="301.2" r="3.1"/></g><g class="c32"><circle cx="677.3" cy="306.3" r="3.1"/></g><g class="c35"><circle cx="571.5" cy="312.2" r="3.1"/></g><g class="c33"><circle cx="579.5" cy="307.1" r="3.1"/></g><g class="c37"><circle cx="556.6" cy="317.8" r="3.1"/></g><g class="c29"><circle cx="619.3" cy="297.9" r="3.1"/></g><g class="c37"><circle cx="555" cy="317.1" r="3.1"/></g><g class="c31"><circle cx="586.3" cy="303.6" r="3.1"/></g><g class="c36"><circle cx="703.4" cy="315.4" r="3.1"/></g><g class="c32"><circle cx="582.6" cy="304.6" r="3.1"/></g><g class="c30"><circle cx="601.8" cy="300.6" r="3.1"/></g><g class="c34"><circle cx="720.6" cy="310.3" r="3.1"/></g><g class="c30"><circle cx="598.1" cy="301.4" r="3.1"/></g><g class="c36"><circle cx="706.7" cy="314" r="3.1"/></g><g class="c31"><circle cx="670.8" cy="303.6" r="3.1"/></g><g class="c35"><circle cx="543.1" cy="312.7" r="3.1"/></g><g class="c34"><circle cx="717" cy="310.9" r="3.1"/></g><g class="c32"><circle cx="676.7" cy="305.3" r="3.1"/></g><g class="c31"><circle cx="596.2" cy="302.2" r="3.1"/></g><g class="c30"><circle cx="661.5" cy="301" r="3.1"/></g><g class="c37"><circle cx="559.4" cy="317.7" r="3.1"/></g><g class="c34"><circle cx="572.1" cy="311.5" r="3.1"/></g><g class="c28"><circle cx="489.9" cy="295.8" r="3.1"/></g><g class="c33"><circle cx="576.4" cy="308.6" r="3.1"/></g><g class="c36"><circle cx="568" cy="314.7" r="3.1"/><circle cx="698.9" cy="315.6" r="3.1"/></g><g class="c31"><circle cx="665.1" cy="302.3" r="3.1"/></g><g class="c33"><circle cx="682.8" cy="307.7" r="3.1"/></g><g class="c34"><circle cx="689.9" cy="311.1" r="3.1"/></g><g class="c36"><circle cx="552.5" cy="314.9" r="3.1"/></g><g class="c33"><circle cx="488.5" cy="308.1" r="3.1"/></g><g class="c35"><circle cx="710.2" cy="311.9" r="3.1"/></g><g class="c30"><circle cx="642.7" cy="300" r="3.1"/></g><g class="c37"><circle cx="561.5" cy="317.5" r="3.1"/></g><g class="c30"><circle cx="600.8" cy="300.9" r="3.1"/></g><g class="c32"><circle cx="580.9" cy="306.1" r="3.1"/></g><g class="c35"><circle cx="546.6" cy="312.7" r="3.1"/></g><g class="c34"><circle cx="686.7" cy="311.7" r="3.1"/></g><g class="c31"><circle cx="664.1" cy="302.4" r="3.1"/><circle cx="591.6" cy="302.8" r="3.1"/></g><g class="c29"><circle cx="639.4" cy="298.5" r="3.1"/></g><g class="c31"><circle cx="669.8" cy="302.8" r="3.1"/></g><g class="c29"><circle cx="618.6" cy="298.7" r="3.1"/></g><g class="c32"><circle cx="581" cy="305.8" r="3.1"/></g><g class="c35"><circle cx="549.2" cy="313.1" r="3.1"/></g><g class="c34"><circle cx="712.9" cy="310.4" r="3.1"/></g><g class="c36"><circle cx="696.8" cy="314.9" r="3.1"/></g><g class="c30"><circle cx="594.6" cy="302.2" r="3.1"/></g><g class="c31"><circle cx="589.3" cy="304" r="3.1"/><circle cx="589.1" cy="303.7" r="3.1"/></g><g class="c30"><circle cx="597.5" cy="302" r="3.1"/></g><g class="c33"><circle cx="579.1" cy="308.5" r="3.1"/></g><g class="c37"><circle cx="537" cy="317.2" r="3.1"/></g><g class="c29"><circle cx="623.2" cy="299.4" r="3.1"/></g><g class="c36"><circle cx="534.7" cy="316.6" r="3.1"/></g><g class="c29"><circle cx="621.4" cy="299.4" r="3.1"/><circle cx="619.6" cy="298.9" r="3.1"/></g><g class="c30"><circle cx="643.7" cy="300.4" r="3.1"/></g><g class="c35"><circle cx="570.3" cy="313.6" r="3.1"/></g><g class="c33"><circle cx="678.3" cy="307.9" r="3.1"/></g><g class="c36"><circle cx="564.3" cy="316.9" r="3.1"/></g><g class="c30"><circle cx="592.5" cy="302.6" r="3.1"/></g><g class="c31"><circle cx="585.6" cy="303.9" r="3.1"/></g><g class="c27"><circle cx="489.8" cy="293.3" r="3.1"/></g><g class="c29"><circle cx="617.9" cy="299.6" r="3.1"/><circle cx="622.3" cy="299.8" r="3.1"/></g><g class="c34"><circle cx="685.7" cy="310.5" r="3.1"/><circle cx="574.9" cy="310.2" r="3.1"/></g><g class="c33"><circle cx="579.5" cy="308" r="3.1"/></g><g class="c31"><circle cx="667" cy="303.3" r="3.1"/></g><g class="c35"><circle cx="694.9" cy="314.2" r="3.1"/></g><g class="c29"><circle cx="625" cy="298.5" r="3.1"/><circle cx="624" cy="299.5" r="3.1"/></g><g class="c31"><circle cx="672.5" cy="304.7" r="3.1"/></g><g class="c36"><circle cx="727.1" cy="315.3" r="3.1"/></g><g class="c32"><circle cx="488.4" cy="305.6" r="3.1"/></g><g class="c30"><circle cx="661.4" cy="302.3" r="3.1"/></g><g class="c37"><circle cx="554.1" cy="319.5" r="3.1"/></g><g class="c29"><circle cx="619.7" cy="299.8" r="3.1"/></g><g class="c31"><circle cx="587.1" cy="304.2" r="3.1"/></g><g class="c37"><circle cx="556.4" cy="319.6" r="3.1"/></g><g class="c29"><circle cx="627.5" cy="298.9" r="3.1"/></g><g class="c36"><circle cx="540.6" cy="316" r="3.1"/></g><g class="c35"><circle cx="532" cy="314.1" r="3.1"/></g><g class="c37"><circle cx="558.8" cy="319.6" r="3.1"/></g><g class="c30"><circle cx="788.9" cy="303" r="3.1"/></g><g class="c37"><circle cx="702.8" cy="318.4" r="3.1"/></g><g class="c34"><circle cx="572.4" cy="312.3" r="3.1"/></g><g class="c33"><circle cx="577.6" cy="309.7" r="3.1"/></g><g class="c35"><circle cx="692.1" cy="313.2" r="3.1"/></g><g class="c30"><circle cx="595.1" cy="303.3" r="3.1"/></g><g class="c34"><circle cx="528.2" cy="312.7" r="3.1"/></g><g class="c29"><circle cx="623.1" cy="300.7" r="3.1"/><circle cx="621.5" cy="300.5" r="3.1"/></g><g class="c31"><circle cx="782" cy="303.9" r="3.1"/><circle cx="663.8" cy="303.6" r="3.1"/></g><g class="c34"><circle cx="525.7" cy="312.1" r="3.1"/></g><g class="c31"><circle cx="592.2" cy="303.7" r="3.1"/></g><g class="c29"><circle cx="636.1" cy="299.1" r="3.1"/></g><g class="c31"><circle cx="584.2" cy="304.7" r="3.1"/></g><g class="c29"><circle cx="623.9" cy="299.8" r="3.1"/><circle cx="640.4" cy="299.9" r="3.1"/></g><g class="c31"><circle cx="589" cy="304.4" r="3.1"/></g><g class="c35"><circle cx="722.4" cy="314.3" r="3.1"/></g><g class="c34"><circle cx="524" cy="311.5" r="3.1"/><circle cx="730.7" cy="312.8" r="3.1"/></g><g class="c31"><circle cx="670.4" cy="304" r="3.1"/></g><g class="c32"><circle cx="759.6" cy="307.6" r="3.1"/></g><g class="c31"><circle cx="488.4" cy="303.8" r="3.1"/></g><g class="c36"><circle cx="707.4" cy="316.9" r="3.1"/></g><g class="c35"><circle cx="567.4" cy="315.1" r="3.1"/></g><g class="c29"><circle cx="641.7" cy="300.8" r="3.1"/></g><g class="c31"><circle cx="768.2" cy="305.9" r="3.1"/></g><g class="c29"><circle cx="638.3" cy="300.4" r="3.1"/></g><g class="c30"><circle cx="600.3" cy="302.4" r="3.1"/></g><g class="c33"><circle cx="520.1" cy="310.4" r="3.1"/><circle cx="681.3" cy="309.6" r="3.1"/></g><g class="c30"><circle cx="595.5" cy="303" r="3.1"/></g><g class="c37"><circle cx="561.3" cy="319.1" r="3.1"/></g><g class="c25"><circle cx="489.8" cy="290.6" r="3.1"/></g><g class="c30"><circle cx="598.1" cy="302.7" r="3.1"/></g><g class="c33"><circle cx="743.6" cy="310.1" r="3.1"/></g><g class="c36"><circle cx="551.4" cy="316.9" r="3.1"/></g><g class="c32"><circle cx="755.3" cy="308" r="3.1"/></g><g class="c34"><circle cx="735.2" cy="311.6" r="3.1"/></g><g class="c32"><circle cx="674" cy="306.8" r="3.1"/></g><g class="c33"><circle cx="749.4" cy="308.9" r="3.1"/><circle cx="517.6" cy="309.5" r="3.1"/></g><g class="c32"><circle cx="763" cy="306.3" r="3.1"/></g><g class="c30"><circle cx="592.7" cy="303.3" r="3.1"/></g><g class="c29"><circle cx="619.1" cy="299.9" r="3.1"/></g><g class="c35"><circle cx="544.2" cy="315" r="3.1"/><circle cx="569.7" cy="315.2" r="3.1"/></g><g class="c36"><circle cx="701.2" cy="317.3" r="3.1"/></g><g class="c30"><circle cx="600.8" cy="302.5" r="3.1"/></g><g class="c33"><circle cx="746" cy="309.2" r="3.1"/></g><g class="c32"><circle cx="512.9" cy="308.2" r="3.1"/><circle cx="582.6" cy="306.8" r="3.1"/></g><g class="c29"><circle cx="617.6" cy="300.7" r="3.1"/><circle cx="624.6" cy="300.7" r="3.1"/></g><g class="c31"><circle cx="497.5" cy="304.8" r="3.1"/></g><g class="c32"><circle cx="509.3" cy="307.3" r="3.1"/></g><g class="c31"><circle cx="590.3" cy="304.4" r="3.1"/></g><g class="c33"><circle cx="737.5" cy="310.5" r="3.1"/></g><g class="c31"><circle cx="586.4" cy="305" r="3.1"/></g><g class="c34"><circle cx="573.8" cy="311.2" r="3.1"/></g><g class="c35"><circle cx="546.8" cy="315.1" r="3.1"/></g><g class="c36"><circle cx="696.6" cy="317.7" r="3.1"/></g><g class="c35"><circle cx="710.2" cy="315.3" r="3.1"/></g><g class="c31"><circle cx="667.7" cy="304.4" r="3.1"/></g><g class="c29"><circle cx="621.5" cy="300.4" r="3.1"/></g><g class="c30"><circle cx="493.9" cy="303.7" r="3.1"/></g><g class="c32"><circle cx="672.8" cy="306.6" r="3.1"/></g><g class="c31"><circle cx="504.1" cy="305.8" r="3.1"/></g><g class="c33"><circle cx="680.2" cy="308.9" r="3.1"/></g><g class="c34"><circle cx="720.4" cy="313.3" r="3.1"/><circle cx="687.8" cy="312.6" r="3.1"/><circle cx="716.2" cy="313.6" r="3.1"/></g><g class="c32"><circle cx="580" cy="308.7" r="3.1"/></g><g class="c30"><circle cx="599.3" cy="302.6" r="3.1"/></g><g class="c24"><circle cx="489.7" cy="289" r="3.1"/></g><g class="c34"><circle cx="686.8" cy="312.2" r="3.1"/></g><g class="c36"><circle cx="563.6" cy="317.7" r="3.1"/></g><g class="c29"><circle cx="641.7" cy="301.5" r="3.1"/></g><g class="c35"><circle cx="548" cy="314.1" r="3.1"/></g><g class="c34"><circle cx="570.1" cy="313.6" r="3.1"/></g><g class="c29"><circle cx="488.3" cy="301.2" r="3.1"/></g><g class="c30"><circle cx="595" cy="303.6" r="3.1"/><circle cx="595.7" cy="304.1" r="3.1"/><circle cx="665.7" cy="304" r="3.1"/></g><g class="c29"><circle cx="626.6" cy="300.7" r="3.1"/></g><g class="c33"><circle cx="576.4" cy="310.6" r="3.1"/></g><g class="c31"><circle cx="583.7" cy="305.5" r="3.1"/><circle cx="671.8" cy="305.5" r="3.1"/></g><g class="c29"><circle cx="609.5" cy="301.2" r="3.1"/></g><g class="c31"><circle cx="588.9" cy="305" r="3.1"/></g><g class="c37"><circle cx="536.3" cy="319.5" r="3.1"/></g><g class="c34"><circle cx="713.2" cy="312.8" r="3.1"/></g><g class="c32"><circle cx="676.8" cy="308.2" r="3.1"/></g><g class="c37"><circle cx="556.2" cy="321.3" r="3.1"/></g><g class="c35"><circle cx="695.1" cy="315.7" r="3.1"/><circle cx="565.6" cy="316.7" r="3.1"/></g><g class="c28"><circle cx="789" cy="298.6" r="3.1"/></g><g class="c37"><circle cx="558" cy="321.4" r="3.1"/><circle cx="553.8" cy="320.7" r="3.1"/></g><g class="c32"><circle cx="582" cy="307.7" r="3.1"/></g><g class="c33"><circle cx="682.1" cy="311.6" r="3.1"/></g><g class="c30"><circle cx="594.2" cy="304.7" r="3.1"/></g><g class="c31"><circle cx="585.5" cy="305.5" r="3.1"/></g><g class="c35"><circle cx="690.7" cy="315.9" r="3.1"/></g><g class="c36"><circle cx="532.7" cy="318" r="3.1"/></g><g class="c30"><circle cx="662.5" cy="304.4" r="3.1"/></g><g class="c34"><circle cx="573.4" cy="312.9" r="3.1"/></g><g class="c32"><circle cx="577.7" cy="309.7" r="3.1"/></g><g class="c36"><circle cx="538.6" cy="318.5" r="3.1"/></g><g class="c31"><circle cx="591.5" cy="305.5" r="3.1"/></g><g class="c29"><circle cx="642.3" cy="301.5" r="3.1"/></g><g class="c37"><circle cx="560.1" cy="320.8" r="3.1"/></g><g class="c29"><circle cx="636.9" cy="301.5" r="3.1"/></g><g class="c31"><circle cx="668.3" cy="305.3" r="3.1"/></g><g class="c29"><circle cx="622.2" cy="301" r="3.1"/></g><g class="c30"><circle cx="661.4" cy="304.4" r="3.1"/></g><g class="c28"><circle cx="488.2" cy="299" r="3.1"/></g><g class="c29"><circle cx="624.2" cy="301.4" r="3.1"/></g><g class="c31"><circle cx="583.4" cy="307.3" r="3.1"/></g><g class="c35"><circle cx="569.7" cy="316.1" r="3.1"/></g><g class="c29"><circle cx="624.1" cy="301.6" r="3.1"/><circle cx="641.3" cy="301.9" r="3.1"/></g><g class="c31"><circle cx="588.4" cy="306" r="3.1"/><circle cx="666.4" cy="305.6" r="3.1"/></g><g class="c30"><circle cx="595.3" cy="304.2" r="3.1"/></g><g class="c35"><circle cx="530.7" cy="316.4" r="3.1"/></g><g class="c37"><circle cx="704.7" cy="320.1" r="3.1"/></g><g class="c31"><circle cx="672.9" cy="307.5" r="3.1"/></g><g class="c37"><circle cx="562.3" cy="319.9" r="3.1"/></g><g class="c29"><circle cx="637.1" cy="302.6" r="3.1"/><circle cx="626.1" cy="301.3" r="3.1"/></g><g class="c34"><circle cx="688" cy="314.8" r="3.1"/></g><g class="c29"><circle cx="622.2" cy="301.6" r="3.1"/></g><g class="c31"><circle cx="585.7" cy="307.7" r="3.1"/></g><g class="c35"><circle cx="542.6" cy="317.4" r="3.1"/></g><g class="c33"><circle cx="487" cy="310.9" r="3.1"/></g><g class="c30"><circle cx="599.1" cy="304.1" r="3.1"/></g><g class="c33"><circle cx="576.1" cy="311.9" r="3.1"/></g><g class="c35"><circle cx="527.6" cy="315.4" r="3.1"/></g><g class="c36"><circle cx="550.9" cy="318.1" r="3.1"/></g><g class="c35"><circle cx="727.7" cy="317.6" r="3.1"/></g><g class="c31"><circle cx="671.1" cy="307.5" r="3.1"/></g><g class="c32"><circle cx="679.3" cy="310" r="3.1"/></g><g class="c36"><circle cx="701.8" cy="319.5" r="3.1"/></g><g class="c29"><circle cx="626.6" cy="301.5" r="3.1"/><circle cx="642.4" cy="302.1" r="3.1"/><circle cx="624.7" cy="301.5" r="3.1"/></g><g class="c31"><circle cx="590.4" cy="306" r="3.1"/></g><g class="c30"><circle cx="596.7" cy="304.3" r="3.1"/></g><g class="c29"><circle cx="598.6" cy="303.1" r="3.1"/></g><g class="c30"><circle cx="594.3" cy="305.3" r="3.1"/></g><g class="c34"><circle cx="571.1" cy="314.8" r="3.1"/><circle cx="518.1" cy="313.6" r="3.1"/></g><g class="c36"><circle cx="706.2" cy="318.6" r="3.1"/></g><g class="c35"><circle cx="546.1" cy="316.8" r="3.1"/></g><g class="c34"><circle cx="686.8" cy="313.7" r="3.1"/></g><g class="c30"><circle cx="597.5" cy="304.5" r="3.1"/><circle cx="662.9" cy="305.7" r="3.1"/></g><g class="c36"><circle cx="698.9" cy="319" r="3.1"/></g><g class="c35"><circle cx="547.2" cy="316.7" r="3.1"/></g><g class="c29"><circle cx="627.7" cy="302.2" r="3.1"/></g><g class="c35"><circle cx="730.5" cy="316.3" r="3.1"/><circle cx="723.4" cy="316.8" r="3.1"/></g><g class="c30"><circle cx="591.2" cy="305.8" r="3.1"/></g><g class="c32"><circle cx="678" cy="309.4" r="3.1"/></g><g class="c36"><circle cx="566.4" cy="318.6" r="3.1"/></g><g class="c34"><circle cx="523.7" cy="313.7" r="3.1"/></g><g class="c33"><circle cx="577.9" cy="311.1" r="3.1"/></g><g class="c34"><circle cx="521.1" cy="313.4" r="3.1"/></g><g class="c31"><circle cx="586.6" cy="306.5" r="3.1"/></g><g class="c30"><circle cx="661.4" cy="305.8" r="3.1"/></g><g class="c26"><circle cx="488.2" cy="296.1" r="3.1"/></g><g class="c32"><circle cx="487" cy="309.2" r="3.1"/></g><g class="c34"><circle cx="736.4" cy="315.4" r="3.1"/></g><g class="c33"><circle cx="515.4" cy="312.2" r="3.1"/></g><g class="c31"><circle cx="669" cy="306.6" r="3.1"/></g><g class="c30"><circle cx="592.3" cy="305.8" r="3.1"/></g><g class="c33"><circle cx="512.8" cy="311.9" r="3.1"/></g><g class="c30"><circle cx="596.1" cy="305.3" r="3.1"/></g><g class="c35"><circle cx="709.4" cy="317.1" r="3.1"/></g><g class="c31"><circle cx="582.2" cy="307.6" r="3.1"/><circle cx="588.2" cy="306.5" r="3.1"/></g><g class="c29"><circle cx="625.5" cy="302.6" r="3.1"/></g><g class="c32"><circle cx="674.1" cy="309.4" r="3.1"/></g><g class="c35"><circle cx="716.6" cy="316.1" r="3.1"/></g><g class="c37"><circle cx="559.2" cy="322.8" r="3.1"/></g><g class="c35"><circle cx="695" cy="317.9" r="3.1"/></g><g class="c37"><circle cx="554.7" cy="322.7" r="3.1"/></g><g class="c33"><circle cx="683.8" cy="312.7" r="3.1"/></g><g class="c31"><circle cx="666.6" cy="306.8" r="3.1"/></g><g class="c33"><circle cx="573.7" cy="313.4" r="3.1"/></g><g class="c29"><circle cx="624.9" cy="302.4" r="3.1"/></g><g class="c34"><circle cx="720.9" cy="315.5" r="3.1"/><circle cx="738.3" cy="314.1" r="3.1"/></g><g class="c35"><circle cx="567.9" cy="317.4" r="3.1"/></g><g class="c31"><circle cx="583.8" cy="307.7" r="3.1"/></g><g class="c32"><circle cx="506.7" cy="310.3" r="3.1"/></g><g class="c37"><circle cx="561.3" cy="322.5" r="3.1"/></g><g class="c35"><circle cx="692" cy="317.7" r="3.1"/></g><g class="c37"><circle cx="552.5" cy="322.2" r="3.1"/></g><g class="c29"><circle cx="623.3" cy="302.3" r="3.1"/></g><g class="c37"><circle cx="536.1" cy="321.8" r="3.1"/></g><g class="c30"><circle cx="598" cy="305.4" r="3.1"/></g><g class="c29"><circle cx="639.1" cy="303.1" r="3.1"/></g><g class="c31"><circle cx="665" cy="306.7" r="3.1"/><circle cx="586" cy="307.9" r="3.1"/></g><g class="c32"><circle cx="579.9" cy="309.6" r="3.1"/></g><g class="c31"><circle cx="592.1" cy="307.2" r="3.1"/></g><g class="c30"><circle cx="595.6" cy="306.3" r="3.1"/><circle cx="601.2" cy="305" r="3.1"/><circle cx="591" cy="306.6" r="3.1"/></g><g class="c33"><circle cx="742.8" cy="312.8" r="3.1"/></g><g class="c25"><circle cx="488.1" cy="294.1" r="3.1"/></g><g class="c33"><circle cx="574.6" cy="312.5" r="3.1"/><circle cx="753.9" cy="311.8" r="3.1"/></g><g class="c29"><circle cx="640.3" cy="303.6" r="3.1"/></g><g class="c31"><circle cx="486.9" cy="307" r="3.1"/><circle cx="503.5" cy="308.9" r="3.1"/></g><g class="c33"><circle cx="679.1" cy="312.2" r="3.1"/><circle cx="746.7" cy="312.2" r="3.1"/><circle cx="751.8" cy="311.7" r="3.1"/></g><g class="c34"><circle cx="714.7" cy="314.8" r="3.1"/></g><g class="c31"><circle cx="498.3" cy="308.1" r="3.1"/></g><g class="c32"><circle cx="776.8" cy="309.5" r="3.1"/></g><g class="c31"><circle cx="587.9" cy="307.9" r="3.1"/></g><g class="c29"><circle cx="652.2" cy="304.3" r="3.1"/></g><g class="c34"><circle cx="570.1" cy="316.1" r="3.1"/></g><g class="c30"><circle cx="597.2" cy="306.3" r="3.1"/></g><g class="c36"><circle cx="533.3" cy="320.5" r="3.1"/></g><g class="c31"><circle cx="661.2" cy="307" r="3.1"/><circle cx="491.4" cy="306.9" r="3.1"/></g><g class="c32"><circle cx="770" cy="309.7" r="3.1"/><circle cx="759.2" cy="310.6" r="3.1"/><circle cx="763.8" cy="310.2" r="3.1"/></g><g class="c36"><circle cx="539.4" cy="320.4" r="3.1"/><circle cx="562.8" cy="320.8" r="3.1"/></g><g class="c29"><circle cx="625.1" cy="302.7" r="3.1"/></g><g class="c33"><circle cx="576.6" cy="311.9" r="3.1"/></g><g class="c31"><circle cx="783.1" cy="308.4" r="3.1"/></g><g class="c30"><circle cx="599.7" cy="305.1" r="3.1"/></g><g class="c31"><circle cx="582" cy="308.9" r="3.1"/></g><g class="c34"><circle cx="690" cy="315.9" r="3.1"/></g><g class="c31"><circle cx="671.6" cy="307.6" r="3.1"/></g><g class="c32"><circle cx="678.4" cy="311.2" r="3.1"/></g><g class="c36"><circle cx="565.8" cy="320.4" r="3.1"/></g><g class="c29"><circle cx="621.8" cy="302.8" r="3.1"/></g><g class="c31"><circle cx="668.8" cy="308.1" r="3.1"/></g><g class="c36"><circle cx="550.5" cy="319.9" r="3.1"/></g><g class="c34"><circle cx="685.9" cy="315.9" r="3.1"/></g><g class="c31"><circle cx="789.8" cy="307.4" r="3.1"/></g><g class="c29"><circle cx="622.6" cy="303.5" r="3.1"/></g><g class="c37"><circle cx="700.4" cy="322.1" r="3.1"/></g><g class="c29"><circle cx="625.8" cy="303.4" r="3.1"/></g><g class="c31"><circle cx="666.8" cy="308.1" r="3.1"/></g><g class="c37"><circle cx="696.8" cy="321.8" r="3.1"/></g><g class="c35"><circle cx="541.8" cy="319.2" r="3.1"/></g><g class="c37"><circle cx="704.3" cy="321.9" r="3.1"/></g><g class="c32"><circle cx="579.3" cy="311.3" r="3.1"/></g><g class="c24"><circle cx="488" cy="291.7" r="3.1"/></g><g class="c30"><circle cx="599.1" cy="306" r="3.1"/></g><g class="c29"><circle cx="638.1" cy="303.6" r="3.1"/></g><g class="c33"><circle cx="571.7" cy="314.5" r="3.1"/></g><g class="c31"><circle cx="584.1" cy="308.3" r="3.1"/></g><g class="c29"><circle cx="627.2" cy="303.5" r="3.1"/></g><g class="c35"><circle cx="566.8" cy="319.2" r="3.1"/><circle cx="530.5" cy="318.5" r="3.1"/></g><g class="c31"><circle cx="586.4" cy="308.7" r="3.1"/></g><g class="c35"><circle cx="544.1" cy="318.6" r="3.1"/></g><g class="c29"><circle cx="624.2" cy="303.6" r="3.1"/></g><g class="c30"><circle cx="592.6" cy="307.5" r="3.1"/><circle cx="596.5" cy="306.5" r="3.1"/></g><g class="c33"><circle cx="683.3" cy="314.7" r="3.1"/></g><g class="c35"><circle cx="547.8" cy="318.5" r="3.1"/></g><g class="c38"><circle cx="554.9" cy="325.2" r="3.1"/></g><g class="c32"><circle cx="673.9" cy="310.3" r="3.1"/></g><g class="c38"><circle cx="558.1" cy="324.9" r="3.1"/></g><g class="c30"><circle cx="592.6" cy="307.3" r="3.1"/></g><g class="c29"><circle cx="486.9" cy="304.1" r="3.1"/></g><g class="c31"><circle cx="593.8" cy="307.8" r="3.1"/></g><g class="c36"><circle cx="706.7" cy="320.9" r="3.1"/></g><g class="c33"><circle cx="573.9" cy="313.9" r="3.1"/></g><g class="c36"><circle cx="695.3" cy="320.6" r="3.1"/></g><g class="c30"><circle cx="598" cy="306.8" r="3.1"/></g><g class="c29"><circle cx="638.9" cy="303.8" r="3.1"/></g><g class="c35"><circle cx="527.6" cy="317.8" r="3.1"/></g><g class="c30"><circle cx="664.7" cy="307.3" r="3.1"/></g><g class="c32"><circle cx="580.8" cy="310.3" r="3.1"/></g><g class="c37"><circle cx="561.3" cy="324.1" r="3.1"/></g><g class="c31"><circle cx="588.9" cy="308.7" r="3.1"/></g><g class="c36"><circle cx="728.2" cy="320.8" r="3.1"/></g><g class="c30"><circle cx="600.9" cy="305.6" r="3.1"/></g><g class="c35"><circle cx="569.1" cy="318" r="3.1"/></g><g class="c31"><circle cx="589.8" cy="308.7" r="3.1"/></g><g class="c30"><circle cx="648.8" cy="305.8" r="3.1"/></g><g class="c34"><circle cx="525.2" cy="317" r="3.1"/></g><g class="c30"><circle cx="661.6" cy="307.4" r="3.1"/></g><g class="c33"><circle cx="681.8" cy="313.6" r="3.1"/></g><g class="c31"><circle cx="672.4" cy="309.3" r="3.1"/></g><g class="c33"><circle cx="577.9" cy="313.1" r="3.1"/></g><g class="c37"><circle cx="551.9" cy="324" r="3.1"/></g><g class="c31"><circle cx="670.5" cy="309.5" r="3.1"/></g><g class="c28"><circle cx="486.8" cy="302.6" r="3.1"/></g><g class="c31"><circle cx="584.2" cy="310.1" r="3.1"/></g><g class="c30"><circle cx="596.1" cy="307.3" r="3.1"/></g><g class="c35"><circle cx="692.1" cy="319.3" r="3.1"/></g><g class="c30"><circle cx="590.1" cy="308.1" r="3.1"/></g><g class="c35"><circle cx="709.7" cy="319.4" r="3.1"/></g><g class="c29"><circle cx="640.9" cy="304.7" r="3.1"/></g><g class="c34"><circle cx="519.3" cy="316.1" r="3.1"/></g><g class="c36"><circle cx="563.3" cy="322.6" r="3.1"/></g><g class="c29"><circle cx="628.1" cy="303.4" r="3.1"/></g><g class="c35"><circle cx="733" cy="319.5" r="3.1"/><circle cx="723.7" cy="319.3" r="3.1"/></g><g class="c34"><circle cx="572.4" cy="316.6" r="3.1"/></g><g class="c29"><circle cx="638.2" cy="304.3" r="3.1"/></g><g class="c30"><circle cx="598.8" cy="307.6" r="3.1"/></g><g class="c29"><circle cx="638.9" cy="305.5" r="3.1"/></g><g class="c32"><circle cx="677.1" cy="312.7" r="3.1"/></g><g class="c31"><circle cx="594.3" cy="308.4" r="3.1"/></g><g class="c29"><circle cx="641.8" cy="305.5" r="3.1"/></g><g class="c31"><circle cx="586.9" cy="309.5" r="3.1"/></g><g class="c33"><circle cx="518.3" cy="315.3" r="3.1"/></g><g class="c34"><circle cx="689.4" cy="318" r="3.1"/></g><g class="c36"><circle cx="565.4" cy="321.5" r="3.1"/></g><g class="c33"><circle cx="512.8" cy="315" r="3.1"/></g><g class="c37"><circle cx="535.6" cy="323.9" r="3.1"/></g><g class="c36"><circle cx="550.3" cy="322.6" r="3.1"/></g><g class="c33"><circle cx="485.9" cy="314.3" r="3.1"/></g><g class="c30"><circle cx="599.5" cy="307.1" r="3.1"/></g><g class="c34"><circle cx="720.8" cy="318" r="3.1"/></g><g class="c31"><circle cx="589.3" cy="309.4" r="3.1"/></g><g class="c30"><circle cx="665.5" cy="308.6" r="3.1"/></g><g class="c32"><circle cx="579.8" cy="311.5" r="3.1"/></g><g class="c33"><circle cx="509.8" cy="314.4" r="3.1"/></g><g class="c34"><circle cx="686.6" cy="317.3" r="3.1"/></g><g class="c33"><circle cx="576.1" cy="315.5" r="3.1"/></g><g class="c34"><circle cx="716.8" cy="317.7" r="3.1"/></g><g class="c30"><circle cx="595.4" cy="307.7" r="3.1"/></g><g class="c34"><circle cx="713.2" cy="317.5" r="3.1"/></g><g class="c28"><circle cx="790" cy="302.2" r="3.1"/></g><g class="c33"><circle cx="506.5" cy="314.1" r="3.1"/></g><g class="c32"><circle cx="676.6" cy="311.4" r="3.1"/></g><g class="c36"><circle cx="539.5" cy="322.5" r="3.1"/></g><g class="c34"><circle cx="735.4" cy="317.6" r="3.1"/></g><g class="c35"><circle cx="567.6" cy="320.2" r="3.1"/></g><g class="c34"><circle cx="740.3" cy="317.6" r="3.1"/></g><g class="c36"><circle cx="533.5" cy="322.9" r="3.1"/></g><g class="c31"><circle cx="582.5" cy="311.1" r="3.1"/></g><g class="c29"><circle cx="647.7" cy="305.8" r="3.1"/></g><g class="c27"><circle cx="486.8" cy="300" r="3.1"/></g><g class="c31"><circle cx="592.3" cy="309.1" r="3.1"/></g><g class="c30"><circle cx="660.7" cy="308.5" r="3.1"/></g><g class="c31"><circle cx="583" cy="310.9" r="3.1"/></g><g class="c29"><circle cx="641.8" cy="305.8" r="3.1"/></g><g class="c30"><circle cx="657.7" cy="308.7" r="3.1"/></g><g class="c37"><circle cx="704.9" cy="324.7" r="3.1"/></g><g class="c30"><circle cx="651.9" cy="306.8" r="3.1"/></g><g class="c29"><circle cx="638.3" cy="305.6" r="3.1"/></g><g class="c33"><circle cx="683.3" cy="316.1" r="3.1"/></g><g class="c29"><circle cx="626.4" cy="304.7" r="3.1"/></g><g class="c37"><circle cx="701.1" cy="323.9" r="3.1"/></g><g class="c31"><circle cx="586.4" cy="310.7" r="3.1"/></g><g class="c38"><circle cx="555.6" cy="326.8" r="3.1"/></g><g class="c32"><circle cx="485.8" cy="312.5" r="3.1"/></g><g class="c34"><circle cx="743.5" cy="316.7" r="3.1"/></g><g class="c32"><circle cx="578.1" cy="314" r="3.1"/></g><g class="c31"><circle cx="668.9" cy="310.8" r="3.1"/></g><g class="c35"><circle cx="569.9" cy="318.9" r="3.1"/></g><g class="c32"><circle cx="502.2" cy="312.6" r="3.1"/></g><g class="c30"><circle cx="594.7" cy="308.6" r="3.1"/></g><g class="c36"><circle cx="698.5" cy="323.2" r="3.1"/></g><g class="c30"><circle cx="595.9" cy="308.8" r="3.1"/><circle cx="648" cy="307.1" r="3.1"/></g><g class="c35"><circle cx="541" cy="321" r="3.1"/></g><g class="c31"><circle cx="673.7" cy="310.1" r="3.1"/></g><g class="c29"><circle cx="639.1" cy="306.1" r="3.1"/></g><g class="c35"><circle cx="545.4" cy="320.6" r="3.1"/></g><g class="c31"><circle cx="587" cy="310.1" r="3.1"/></g><g class="c34"><circle cx="572.2" cy="318.2" r="3.1"/></g><g class="c31"><circle cx="667.6" cy="310.3" r="3.1"/></g><g class="c37"><circle cx="556.3" cy="325.9" r="3.1"/><circle cx="559.9" cy="325.2" r="3.1"/></g><g class="c32"><circle cx="579.2" cy="313.2" r="3.1"/></g><g class="c36"><circle cx="707.2" cy="323.6" r="3.1"/></g><g class="c30"><circle cx="656.9" cy="307.5" r="3.1"/></g><g class="c37"><circle cx="562.6" cy="324.6" r="3.1"/></g><g class="c36"><circle cx="695.4" cy="322.1" r="3.1"/></g><g class="c33"><circle cx="680.1" cy="314.6" r="3.1"/></g><g class="c29"><circle cx="637.9" cy="306" r="3.1"/></g><g class="c31"><circle cx="496.5" cy="311.6" r="3.1"/></g><g class="c29"><circle cx="642.2" cy="306" r="3.1"/></g><g class="c37"><circle cx="551.2" cy="326.4" r="3.1"/></g><g class="c35"><circle cx="546.4" cy="319.7" r="3.1"/></g><g class="c33"><circle cx="746.4" cy="315.5" r="3.1"/></g><g class="c29"><circle cx="646.3" cy="306.6" r="3.1"/></g><g class="c32"><circle cx="581.1" cy="312.7" r="3.1"/></g><g class="c30"><circle cx="597.8" cy="308.1" r="3.1"/><circle cx="589.4" cy="309.6" r="3.1"/></g><g class="c35"><circle cx="530.4" cy="320.8" r="3.1"/><circle cx="691.3" cy="321" r="3.1"/></g><g class="c30"><circle cx="665.3" cy="309.5" r="3.1"/></g><g class="c33"><circle cx="751.1" cy="315.1" r="3.1"/></g><g class="c30"><circle cx="649.7" cy="308.1" r="3.1"/></g><g class="c33"><circle cx="575.1" cy="316.9" r="3.1"/></g><g class="c29"><circle cx="639.1" cy="306.6" r="3.1"/></g><g class="c30"><circle cx="592.7" cy="309.6" r="3.1"/><circle cx="652.7" cy="307.5" r="3.1"/></g><g class="c36"><circle cx="565.4" cy="323.2" r="3.1"/></g><g class="c29"><circle cx="636.5" cy="305.9" r="3.1"/></g><g class="c33"><circle cx="754.6" cy="315" r="3.1"/></g><g class="c30"><circle cx="661.2" cy="309.7" r="3.1"/><circle cx="661.5" cy="309.6" r="3.1"/></g><g class="c29"><circle cx="612.1" cy="306.5" r="3.1"/></g><g class="c31"><circle cx="485.8" cy="310.5" r="3.1"/></g><g class="c35"><circle cx="527" cy="320.5" r="3.1"/><circle cx="689.2" cy="320.4" r="3.1"/></g><g class="c30"><circle cx="599.4" cy="307.8" r="3.1"/></g><g class="c25"><circle cx="486.7" cy="297.1" r="3.1"/></g><g class="c32"><circle cx="677.6" cy="313.4" r="3.1"/></g><g class="c30"><circle cx="591.6" cy="308.9" r="3.1"/><circle cx="596.3" cy="309.4" r="3.1"/><circle cx="596.4" cy="309.4" r="3.1"/></g><g class="c31"><circle cx="492" cy="310.2" r="3.1"/><circle cx="585.8" cy="311.7" r="3.1"/><circle cx="588.6" cy="311.6" r="3.1"/></g><g class="c33"><circle cx="577.6" cy="315.7" r="3.1"/></g><g class="c29"><circle cx="641.8" cy="306.5" r="3.1"/><circle cx="613.5" cy="306.6" r="3.1"/></g><g class="c30"><circle cx="658.1" cy="309" r="3.1"/></g><g class="c29"><circle cx="639.3" cy="307.1" r="3.1"/></g><g class="c31"><circle cx="583.8" cy="311.2" r="3.1"/></g><g class="c29"><circle cx="647" cy="307.3" r="3.1"/></g><g class="c32"><circle cx="676.2" cy="312.6" r="3.1"/></g><g class="c29"><circle cx="601.4" cy="307.3" r="3.1"/></g><g class="c35"><circle cx="710.6" cy="321.8" r="3.1"/></g><g class="c32"><circle cx="760.2" cy="313.8" r="3.1"/></g><g class="c34"><circle cx="686.4" cy="318.9" r="3.1"/></g><g class="c35"><circle cx="567.5" cy="321.3" r="3.1"/></g><g class="c29"><circle cx="638.2" cy="307" r="3.1"/></g><g class="c30"><circle cx="598.5" cy="308.7" r="3.1"/></g><g class="c29"><circle cx="614.7" cy="306.7" r="3.1"/></g><g class="c30"><circle cx="653" cy="308.8" r="3.1"/></g><g class="c36"><circle cx="729.1" cy="323.5" r="3.1"/></g><g class="c31"><circle cx="591.5" cy="310.7" r="3.1"/></g><g class="c34"><circle cx="524.6" cy="319.2" r="3.1"/></g><g class="c31"><circle cx="588.2" cy="310.6" r="3.1"/></g><g class="c32"><circle cx="763.5" cy="313.4" r="3.1"/></g><g class="c36"><circle cx="549.8" cy="324.1" r="3.1"/></g><g class="c24"><circle cx="486.6" cy="295.5" r="3.1"/></g><g class="c31"><circle cx="672.8" cy="311.8" r="3.1"/></g><g class="c30"><circle cx="601.2" cy="308.5" r="3.1"/></g><g class="c35"><circle cx="570.3" cy="320.2" r="3.1"/></g><g class="c31"><circle cx="668.2" cy="311.5" r="3.1"/></g><g class="c29"><circle cx="639.3" cy="307.6" r="3.1"/></g><g class="c38"><circle cx="561.1" cy="327.7" r="3.1"/></g><g class="c32"><circle cx="580" cy="314.1" r="3.1"/></g><g class="c35"><circle cx="723.5" cy="322.3" r="3.1"/></g><g class="c29"><circle cx="636.1" cy="306.6" r="3.1"/></g><g class="c30"><circle cx="648" cy="308.4" r="3.1"/></g><g class="c31"><circle cx="664.8" cy="311.2" r="3.1"/><circle cx="771.1" cy="312.9" r="3.1"/></g><g class="c29"><circle cx="642" cy="306.9" r="3.1"/><circle cx="651.3" cy="308.1" r="3.1"/></g><g class="c30"><circle cx="592.9" cy="310" r="3.1"/></g><g class="c31"><circle cx="669.7" cy="311.2" r="3.1"/></g><g class="c34"><circle cx="518.7" cy="318.9" r="3.1"/></g><g class="c30"><circle cx="595.7" cy="310" r="3.1"/><circle cx="647.9" cy="308.2" r="3.1"/></g><g class="c37"><circle cx="534.8" cy="325.9" r="3.1"/></g><g class="c33"><circle cx="682.7" cy="317.1" r="3.1"/></g><g class="c38"><circle cx="555.8" cy="328.5" r="3.1"/></g><g class="c29"><circle cx="485.7" cy="307.7" r="3.1"/></g><g class="c30"><circle cx="596.7" cy="309.4" r="3.1"/></g><g class="c34"><circle cx="572.2" cy="318.8" r="3.1"/></g><g class="c31"><circle cx="782.4" cy="312.5" r="3.1"/></g><g class="c34"><circle cx="516.4" cy="318.4" r="3.1"/></g><g class="c31"><circle cx="777.4" cy="312.3" r="3.1"/></g><g class="c29"><circle cx="644.3" cy="307.9" r="3.1"/></g><g class="c38"><circle cx="557" cy="327.9" r="3.1"/></g><g class="c30"><circle cx="662.5" cy="310.3" r="3.1"/></g><g class="c36"><circle cx="539.5" cy="324.5" r="3.1"/></g><g class="c33"><circle cx="679.8" cy="316.2" r="3.1"/></g><g class="c34"><circle cx="714.4" cy="320.2" r="3.1"/></g><g class="c29"><circle cx="639.9" cy="308.1" r="3.1"/></g><g class="c30"><circle cx="660.8" cy="310.1" r="3.1"/></g><g class="c31"><circle cx="584.8" cy="312.5" r="3.1"/></g><g class="c35"><circle cx="721.5" cy="320.8" r="3.1"/></g><g class="c30"><circle cx="597.6" cy="309" r="3.1"/></g><g class="c33"><circle cx="576.4" cy="317.6" r="3.1"/></g><g class="c29"><circle cx="638.4" cy="308" r="3.1"/></g><g class="c31"><circle cx="588.2" cy="312" r="3.1"/><circle cx="583.1" cy="312.4" r="3.1"/></g><g class="c29"><circle cx="638" cy="307.9" r="3.1"/></g><g class="c32"><circle cx="677.1" cy="315.5" r="3.1"/></g><g class="c33"><circle cx="513.4" cy="318" r="3.1"/></g><g class="c37"><circle cx="700.6" cy="325.9" r="3.1"/></g><g class="c35"><circle cx="731.2" cy="321.6" r="3.1"/></g><g class="c31"><circle cx="580.4" cy="312.5" r="3.1"/><circle cx="588.2" cy="311.8" r="3.1"/><circle cx="790.4" cy="311.8" r="3.1"/></g><g class="c29"><circle cx="625" cy="306.4" r="3.1"/></g><g class="c30"><circle cx="658.5" cy="309.6" r="3.1"/></g><g class="c35"><circle cx="547.5" cy="322.5" r="3.1"/></g><g class="c37"><circle cx="704.3" cy="326.6" r="3.1"/></g><g class="c35"><circle cx="545.2" cy="322.9" r="3.1"/></g><g class="c29"><circle cx="615.4" cy="306.9" r="3.1"/></g><g class="c30"><circle cx="649.7" cy="309.4" r="3.1"/><circle cx="652.6" cy="309.4" r="3.1"/></g><g class="c29"><circle cx="602.3" cy="308.6" r="3.1"/></g><g class="c36"><circle cx="695.9" cy="324.6" r="3.1"/><circle cx="697.9" cy="325" r="3.1"/></g><g class="c29"><circle cx="612.7" cy="307.6" r="3.1"/><circle cx="615.3" cy="307.2" r="3.1"/></g><g class="c30"><circle cx="648.5" cy="309.1" r="3.1"/><circle cx="591.7" cy="311.1" r="3.1"/></g><g class="c36"><circle cx="532.2" cy="324.8" r="3.1"/></g><g class="c30"><circle cx="592.6" cy="311" r="3.1"/></g><g class="c35"><circle cx="540.6" cy="323.2" r="3.1"/></g><g class="c36"><circle cx="561.2" cy="325.6" r="3.1"/></g><g class="c34"><circle cx="717.5" cy="319.4" r="3.1"/></g><g class="c30"><circle cx="643" cy="308.8" r="3.1"/></g><g class="c37"><circle cx="553.6" cy="327.5" r="3.1"/></g><g class="c29"><circle cx="623.8" cy="306.8" r="3.1"/><circle cx="642.7" cy="308.6" r="3.1"/><circle cx="645.8" cy="308.7" r="3.1"/><circle cx="640.2" cy="308.6" r="3.1"/></g><g class="c33"><circle cx="576.8" cy="316.4" r="3.1"/></g></g><g fill-opacity=".67" stroke-opacity=".67"><g class="c29"><circle cx="637.9" cy="308.3" r="3.1"/></g><g class="c28"><circle cx="485.7" cy="305.8" r="3.1"/></g><g class="c30"><circle cx="597.5" cy="310.1" r="3.1"/><circle cx="594.4" cy="310.3" r="3.1"/></g><g class="c36"><circle cx="566" cy="323.7" r="3.1"/></g><g class="c29"><circle cx="614.2" cy="307.7" r="3.1"/></g><g class="c35"><circle cx="692.5" cy="322.8" r="3.1"/></g><g class="c30"><circle cx="601.1" cy="309.5" r="3.1"/></g><g class="c32"><circle cx="579" cy="315.5" r="3.1"/></g><g class="c36"><circle cx="705.8" cy="325.5" r="3.1"/></g><g class="c30"><circle cx="598.2" cy="309.6" r="3.1"/></g><g class="c33"><circle cx="509.8" cy="316.7" r="3.1"/></g><g class="c34"><circle cx="735.4" cy="320.5" r="3.1"/></g><g class="c35"><circle cx="566.6" cy="323" r="3.1"/></g><g class="c31"><circle cx="675.3" cy="313.5" r="3.1"/><circle cx="672.3" cy="313" r="3.1"/><circle cx="670.5" cy="312.8" r="3.1"/></g><g class="c35"><circle cx="688.5" cy="321.3" r="3.1"/></g><g class="c31"><circle cx="588.8" cy="313.1" r="3.1"/><circle cx="585.4" cy="313.6" r="3.1"/><circle cx="668.3" cy="312.2" r="3.1"/></g><g class="c35"><circle cx="568.2" cy="321.9" r="3.1"/></g><g class="c34"><circle cx="738.3" cy="320.1" r="3.1"/></g><g class="c30"><circle cx="650.9" cy="310" r="3.1"/><circle cx="652.5" cy="310.2" r="3.1"/><circle cx="596" cy="311.4" r="3.1"/></g><g class="c29"><circle cx="639" cy="308.6" r="3.1"/></g><g class="c30"><circle cx="647.9" cy="309.6" r="3.1"/></g><g class="c31"><circle cx="590.9" cy="312.2" r="3.1"/></g><g class="c30"><circle cx="647" cy="309.4" r="3.1"/></g><g class="c31"><circle cx="583.1" cy="313.6" r="3.1"/></g><g class="c30"><circle cx="595.8" cy="311.2" r="3.1"/></g><g class="c29"><circle cx="617.3" cy="307.3" r="3.1"/></g><g class="c30"><circle cx="655" cy="310.2" r="3.1"/></g><g class="c34"><circle cx="572.7" cy="320.2" r="3.1"/></g><g class="c32"><circle cx="501" cy="316.3" r="3.1"/></g><g class="c34"><circle cx="685.6" cy="319.9" r="3.1"/></g><g class="c31"><circle cx="581.2" cy="313.7" r="3.1"/></g><g class="c33"><circle cx="485" cy="317.6" r="3.1"/></g><g class="c29"><circle cx="637.6" cy="308.1" r="3.1"/></g><g class="c34"><circle cx="683.4" cy="319.4" r="3.1"/></g><g class="c32"><circle cx="505.9" cy="315.8" r="3.1"/></g><g class="c30"><circle cx="658.5" cy="310.4" r="3.1"/></g><g class="c35"><circle cx="529.7" cy="322.9" r="3.1"/></g><g class="c29"><circle cx="643.1" cy="308.5" r="3.1"/></g><g class="c31"><circle cx="588.8" cy="312" r="3.1"/></g><g class="c30"><circle cx="597.8" cy="310.4" r="3.1"/></g><g class="c35"><circle cx="526.7" cy="323.1" r="3.1"/></g><g class="c29"><circle cx="602.7" cy="309.4" r="3.1"/><circle cx="632.1" cy="308" r="3.1"/></g><g class="c27"><circle cx="485.6" cy="303.6" r="3.1"/></g><g class="c30"><circle cx="592.2" cy="311.1" r="3.1"/></g><g class="c29"><circle cx="617.2" cy="307.5" r="3.1"/><circle cx="639" cy="309.2" r="3.1"/></g><g class="c38"><circle cx="560" cy="329.2" r="3.1"/></g><g class="c33"><circle cx="679.8" cy="317.9" r="3.1"/></g><g class="c34"><circle cx="743.7" cy="319.4" r="3.1"/></g><g class="c29"><circle cx="639.2" cy="309.1" r="3.1"/></g><g class="c33"><circle cx="573.2" cy="319.1" r="3.1"/></g><g class="c29"><circle cx="629.6" cy="308.4" r="3.1"/></g><g class="c32"><circle cx="677.3" cy="317" r="3.1"/></g><g class="c36"><circle cx="548.9" cy="325.7" r="3.1"/></g><g class="c29"><circle cx="628.4" cy="308.4" r="3.1"/><circle cx="641.4" cy="309.3" r="3.1"/><circle cx="616.3" cy="308.5" r="3.1"/><circle cx="635.1" cy="309" r="3.1"/></g><g class="c37"><circle cx="558.3" cy="329.1" r="3.1"/></g><g class="c32"><circle cx="579" cy="316.8" r="3.1"/></g><g class="c29"><circle cx="617.1" cy="308.2" r="3.1"/></g><g class="c35"><circle cx="710.5" cy="323.5" r="3.1"/></g><g class="c30"><circle cx="601.8" cy="310.3" r="3.1"/></g><g class="c32"><circle cx="484.9" cy="315.8" r="3.1"/></g><g class="c30"><circle cx="649.3" cy="310.4" r="3.1"/></g><g class="c31"><circle cx="592.6" cy="312.8" r="3.1"/></g><g class="c30"><circle cx="597.9" cy="311.3" r="3.1"/><circle cx="654.9" cy="311.5" r="3.1"/></g><g class="c33"><circle cx="748.2" cy="318.9" r="3.1"/><circle cx="575.5" cy="317.4" r="3.1"/></g><g class="c36"><circle cx="563.2" cy="326.8" r="3.1"/></g><g class="c31"><circle cx="496.7" cy="314.5" r="3.1"/></g><g class="c32"><circle cx="676" cy="315.7" r="3.1"/></g><g class="c30"><circle cx="652.3" cy="310.6" r="3.1"/></g><g class="c38"><circle cx="554.6" cy="329.9" r="3.1"/></g><g class="c29"><circle cx="638.8" cy="309.4" r="3.1"/></g><g class="c32"><circle cx="581.5" cy="315.5" r="3.1"/></g><g class="c31"><circle cx="585.4" cy="314.4" r="3.1"/></g><g class="c29"><circle cx="629.6" cy="308.7" r="3.1"/></g><g class="c34"><circle cx="524.2" cy="321.7" r="3.1"/></g><g class="c31"><circle cx="587.5" cy="313.6" r="3.1"/><circle cx="589.6" cy="313" r="3.1"/><circle cx="669.9" cy="314.1" r="3.1"/></g><g class="c30"><circle cx="596.7" cy="311" r="3.1"/></g><g class="c31"><circle cx="666.9" cy="313.3" r="3.1"/></g><g class="c28"><circle cx="790.6" cy="306.5" r="3.1"/></g><g class="c36"><circle cx="565.1" cy="325.5" r="3.1"/></g><g class="c30"><circle cx="591.4" cy="312.3" r="3.1"/></g><g class="c36"><circle cx="727.6" cy="326.2" r="3.1"/></g><g class="c31"><circle cx="581.8" cy="315" r="3.1"/></g><g class="c36"><circle cx="693.7" cy="326.1" r="3.1"/></g><g class="c26"><circle cx="485.5" cy="301.4" r="3.1"/></g><g class="c29"><circle cx="629.6" cy="309.1" r="3.1"/></g><g class="c31"><circle cx="673.1" cy="314.4" r="3.1"/></g><g class="c35"><circle cx="569.6" cy="323.5" r="3.1"/></g><g class="c36"><circle cx="697.7" cy="327.1" r="3.1"/></g><g class="c37"><circle cx="535.5" cy="327.7" r="3.1"/></g><g class="c35"><circle cx="565.8" cy="324.8" r="3.1"/></g><g class="c29"><circle cx="632.4" cy="309.7" r="3.1"/><circle cx="603.9" cy="310.2" r="3.1"/></g><g class="c37"><circle cx="700.2" cy="327.7" r="3.1"/></g><g class="c30"><circle cx="601.1" cy="311.2" r="3.1"/></g><g class="c31"><circle cx="490.1" cy="314" r="3.1"/></g><g class="c36"><circle cx="538.3" cy="326.6" r="3.1"/></g><g class="c29"><circle cx="637.3" cy="309.4" r="3.1"/></g><g class="c30"><circle cx="598.2" cy="312.2" r="3.1"/></g><g class="c33"><circle cx="752.1" cy="317.9" r="3.1"/></g><g class="c35"><circle cx="724.3" cy="324.8" r="3.1"/></g><g class="c37"><circle cx="702.9" cy="328.3" r="3.1"/></g><g class="c29"><circle cx="634.9" cy="309.5" r="3.1"/></g><g class="c35"><circle cx="546.5" cy="324.1" r="3.1"/></g><g class="c30"><circle cx="598" cy="312.1" r="3.1"/></g><g class="c34"><circle cx="518.3" cy="321.6" r="3.1"/></g><g class="c29"><circle cx="627.9" cy="309.1" r="3.1"/></g><g class="c36"><circle cx="541" cy="325.5" r="3.1"/></g><g class="c35"><circle cx="544" cy="324.6" r="3.1"/></g><g class="c33"><circle cx="756" cy="318" r="3.1"/></g><g class="c30"><circle cx="650.5" cy="311.4" r="3.1"/></g><g class="c35"><circle cx="691.6" cy="324.3" r="3.1"/></g><g class="c31"><circle cx="592.4" cy="313.8" r="3.1"/></g><g class="c35"><circle cx="719" cy="323.1" r="3.1"/></g><g class="c36"><circle cx="533" cy="327.3" r="3.1"/></g><g class="c32"><circle cx="758.5" cy="318" r="3.1"/></g><g class="c29"><circle cx="633.8" cy="309.6" r="3.1"/></g><g class="c37"><circle cx="551.3" cy="329.2" r="3.1"/></g><g class="c30"><circle cx="595.2" cy="312.5" r="3.1"/></g><g class="c34"><circle cx="713.1" cy="321.6" r="3.1"/></g><g class="c35"><circle cx="688.7" cy="323" r="3.1"/></g><g class="c31"><circle cx="484.9" cy="313.3" r="3.1"/></g><g class="c34"><circle cx="515.9" cy="321.2" r="3.1"/></g><g class="c29"><circle cx="638.7" cy="310.6" r="3.1"/></g><g class="c34"><circle cx="571.7" cy="321.2" r="3.1"/></g><g class="c31"><circle cx="591.3" cy="313.6" r="3.1"/></g><g class="c37"><circle cx="706.7" cy="328.2" r="3.1"/></g><g class="c34"><circle cx="721.2" cy="322.9" r="3.1"/></g><g class="c31"><circle cx="589" cy="314.2" r="3.1"/></g><g class="c33"><circle cx="680.3" cy="319.8" r="3.1"/></g><g class="c35"><circle cx="729.6" cy="324.4" r="3.1"/></g><g class="c32"><circle cx="578.3" cy="318.1" r="3.1"/></g><g class="c30"><circle cx="652.8" cy="311" r="3.1"/></g><g class="c33"><circle cx="572.9" cy="319.9" r="3.1"/><circle cx="576.5" cy="318.5" r="3.1"/></g><g class="c30"><circle cx="600.8" cy="311.5" r="3.1"/></g><g class="c29"><circle cx="633.1" cy="310.4" r="3.1"/></g><g class="c31"><circle cx="585.5" cy="314.9" r="3.1"/></g><g class="c24"><circle cx="485.5" cy="298.7" r="3.1"/></g><g class="c32"><circle cx="763.8" cy="317.2" r="3.1"/></g><g class="c31"><circle cx="665.7" cy="314.6" r="3.1"/></g><g class="c32"><circle cx="675" cy="317.5" r="3.1"/></g><g class="c31"><circle cx="665.3" cy="314.4" r="3.1"/><circle cx="583.4" cy="315.6" r="3.1"/></g><g class="c33"><circle cx="513" cy="320.5" r="3.1"/></g><g class="c30"><circle cx="597" cy="312.8" r="3.1"/></g><g class="c32"><circle cx="677" cy="317.9" r="3.1"/></g><g class="c29"><circle cx="634.9" cy="310.1" r="3.1"/></g><g class="c37"><circle cx="549.1" cy="328.4" r="3.1"/></g><g class="c31"><circle cx="594.2" cy="313.9" r="3.1"/></g><g class="c30"><circle cx="598.3" cy="311.9" r="3.1"/></g><g class="c36"><circle cx="565.9" cy="327.5" r="3.1"/></g><g class="c32"><circle cx="769.8" cy="317.2" r="3.1"/></g><g class="c31"><circle cx="581.1" cy="315.9" r="3.1"/><circle cx="671.7" cy="315.8" r="3.1"/></g><g class="c29"><circle cx="638.7" cy="310.4" r="3.1"/></g><g class="c31"><circle cx="591.3" cy="314.9" r="3.1"/></g><g class="c35"><circle cx="568.6" cy="325.9" r="3.1"/></g><g class="c38"><circle cx="557.1" cy="331.5" r="3.1"/></g><g class="c29"><circle cx="484.8" cy="311.2" r="3.1"/></g><g class="c37"><circle cx="560.4" cy="329.8" r="3.1"/></g><g class="c30"><circle cx="594.6" cy="313.3" r="3.1"/></g><g class="c31"><circle cx="669.8" cy="314.8" r="3.1"/></g><g class="c35"><circle cx="528.7" cy="326" r="3.1"/></g><g class="c33"><circle cx="510" cy="320" r="3.1"/></g><g class="c35"><circle cx="570.3" cy="324.8" r="3.1"/></g><g class="c38"><circle cx="556.1" cy="331.6" r="3.1"/></g><g class="c29"><circle cx="631.2" cy="310.7" r="3.1"/></g><g class="c35"><circle cx="735.8" cy="323.8" r="3.1"/></g><g class="c31"><circle cx="591.5" cy="314.2" r="3.1"/></g><g class="c29"><circle cx="630.1" cy="310.2" r="3.1"/></g><g class="c34"><circle cx="572.6" cy="323.2" r="3.1"/></g><g class="c36"><circle cx="561.3" cy="328.6" r="3.1"/></g><g class="c32"><circle cx="776.3" cy="316.7" r="3.1"/></g><g class="c30"><circle cx="596.3" cy="314" r="3.1"/></g><g class="c31"><circle cx="587.4" cy="315.5" r="3.1"/></g><g class="c35"><circle cx="709.8" cy="326" r="3.1"/></g><g class="c29"><circle cx="636.5" cy="310.6" r="3.1"/><circle cx="640.2" cy="311.5" r="3.1"/></g><g class="c32"><circle cx="583.3" cy="317" r="3.1"/></g><g class="c33"><circle cx="505.3" cy="319.3" r="3.1"/></g><g class="c31"><circle cx="584.6" cy="316.3" r="3.1"/></g><g class="c33"><circle cx="575.1" cy="320.8" r="3.1"/></g><g class="c30"><circle cx="595" cy="314.1" r="3.1"/></g><g class="c35"><circle cx="526" cy="325" r="3.1"/></g><g class="c31"><circle cx="784.9" cy="316.6" r="3.1"/></g><g class="c32"><circle cx="579.6" cy="318.4" r="3.1"/></g><g class="c29"><circle cx="634.4" cy="311.2" r="3.1"/></g><g class="c28"><circle cx="484.7" cy="309" r="3.1"/></g><g class="c29"><circle cx="633.4" cy="311.4" r="3.1"/></g><g class="c37"><circle cx="552.6" cy="331.2" r="3.1"/></g><g class="c30"><circle cx="599.4" cy="313.4" r="3.1"/></g><g class="c32"><circle cx="576.9" cy="319.3" r="3.1"/></g><g class="c37"><circle cx="535.6" cy="330.3" r="3.1"/></g><g class="c33"><circle cx="679" cy="320.9" r="3.1"/></g><g class="c32"><circle cx="579.3" cy="318" r="3.1"/></g><g class="c31"><circle cx="589.9" cy="316.1" r="3.1"/><circle cx="665.1" cy="314.9" r="3.1"/></g><g class="c35"><circle cx="547.1" cy="325.7" r="3.1"/></g><g class="c29"><circle cx="630.7" cy="311.3" r="3.1"/></g><g class="c32"><circle cx="501.8" cy="318.7" r="3.1"/></g><g class="c31"><circle cx="591.3" cy="315.2" r="3.1"/></g><g class="c34"><circle cx="740.3" cy="322.2" r="3.1"/><circle cx="524" cy="324.5" r="3.1"/></g><g class="c31"><circle cx="668.9" cy="316.3" r="3.1"/></g><g class="c36"><circle cx="537.4" cy="329" r="3.1"/></g><g class="c30"><circle cx="596.8" cy="314.4" r="3.1"/></g><g class="c32"><circle cx="676.8" cy="319.3" r="3.1"/></g><g class="c29"><circle cx="638.6" cy="312.5" r="3.1"/></g><g class="c34"><circle cx="742.5" cy="322.3" r="3.1"/></g><g class="c31"><circle cx="790.5" cy="315.9" r="3.1"/></g><g class="c35"><circle cx="544.1" cy="326.1" r="3.1"/></g><g class="c36"><circle cx="540.8" cy="327.3" r="3.1"/></g><g class="c29"><circle cx="632" cy="311.2" r="3.1"/></g><g class="c30"><circle cx="599.8" cy="314.3" r="3.1"/></g><g class="c32"><circle cx="674.4" cy="317.8" r="3.1"/></g><g class="c31"><circle cx="672.6" cy="317" r="3.1"/><circle cx="587.4" cy="316.4" r="3.1"/></g><g class="c30"><circle cx="595.5" cy="314.5" r="3.1"/></g><g class="c29"><circle cx="633.8" cy="311.8" r="3.1"/></g><g class="c36"><circle cx="728" cy="329" r="3.1"/><circle cx="566" cy="328.9" r="3.1"/></g><g class="c29"><circle cx="629" cy="311.1" r="3.1"/><circle cx="629.1" cy="311.2" r="3.1"/></g><g class="c35"><circle cx="571.3" cy="325.5" r="3.1"/></g><g class="c34"><circle cx="713.9" cy="324.3" r="3.1"/></g><g class="c35"><circle cx="716.7" cy="325.2" r="3.1"/></g><g class="c32"><circle cx="494.7" cy="318.5" r="3.1"/></g><g class="c31"><circle cx="592.8" cy="315.9" r="3.1"/><circle cx="592.5" cy="316.1" r="3.1"/></g><g class="c34"><circle cx="572.9" cy="324.3" r="3.1"/><circle cx="518.1" cy="324.4" r="3.1"/></g><g class="c31"><circle cx="584.8" cy="317.3" r="3.1"/></g><g class="c35"><circle cx="724.8" cy="327.4" r="3.1"/></g><g class="c27"><circle cx="484.7" cy="306.5" r="3.1"/></g><g class="c38"><circle cx="558.4" cy="332.6" r="3.1"/></g><g class="c37"><circle cx="559.9" cy="331.8" r="3.1"/></g><g class="c29"><circle cx="638.1" cy="312.5" r="3.1"/></g><g class="c34"><circle cx="574.9" cy="322.8" r="3.1"/></g><g class="c36"><circle cx="562.7" cy="329.9" r="3.1"/><circle cx="532.6" cy="329" r="3.1"/></g><g class="c33"><circle cx="576.7" cy="321.7" r="3.1"/></g><g class="c35"><circle cx="567.9" cy="326.8" r="3.1"/><circle cx="719.8" cy="325.4" r="3.1"/></g><g class="c33"><circle cx="747.5" cy="321.5" r="3.1"/></g><g class="c31"><circle cx="582.5" cy="317.9" r="3.1"/></g><g class="c36"><circle cx="549.4" cy="329.6" r="3.1"/></g><g class="c30"><circle cx="596.6" cy="315" r="3.1"/><circle cx="596.2" cy="315.3" r="3.1"/></g><g class="c34"><circle cx="516.4" cy="323.9" r="3.1"/></g><g class="c30"><circle cx="600.5" cy="314.3" r="3.1"/></g><g class="c32"><circle cx="578.9" cy="319.6" r="3.1"/></g><g class="c31"><circle cx="665.6" cy="316.6" r="3.1"/></g><g class="c33"><circle cx="751.6" cy="321.6" r="3.1"/></g><g class="c29"><circle cx="637.9" cy="313.3" r="3.1"/></g><g class="c31"><circle cx="589.2" cy="317" r="3.1"/><circle cx="489.5" cy="317.9" r="3.1"/></g><g class="c38"><circle cx="555.2" cy="333.3" r="3.1"/></g><g class="c29"><circle cx="633.1" cy="312.1" r="3.1"/></g><g class="c30"><circle cx="598.2" cy="315.7" r="3.1"/></g><g class="c35"><circle cx="731.9" cy="327.7" r="3.1"/></g><g class="c31"><circle cx="593.8" cy="316.1" r="3.1"/></g><g class="c33"><circle cx="754" cy="321.3" r="3.1"/></g><g class="c30"><circle cx="601" cy="315" r="3.1"/></g><g class="c31"><circle cx="586.7" cy="317.6" r="3.1"/><circle cx="596.6" cy="316.5" r="3.1"/></g><g class="c32"><circle cx="673.5" cy="319.4" r="3.1"/></g><g class="c31"><circle cx="669.7" cy="317.5" r="3.1"/></g><g class="c29"><circle cx="633.9" cy="312.5" r="3.1"/></g><g class="c31"><circle cx="671.4" cy="318.3" r="3.1"/></g><g class="c25"><circle cx="484.6" cy="304" r="3.1"/></g><g class="c33"><circle cx="513.9" cy="323" r="3.1"/><circle cx="678.6" cy="321.8" r="3.1"/></g><g class="c32"><circle cx="676.5" cy="320.5" r="3.1"/></g><g class="c30"><circle cx="600.2" cy="315.2" r="3.1"/><circle cx="640.1" cy="314.1" r="3.1"/></g><g class="c29"><circle cx="620.5" cy="313" r="3.1"/></g><g class="c35"><circle cx="528.4" cy="327.6" r="3.1"/></g><g class="c33"><circle cx="509.6" cy="323.4" r="3.1"/></g><g class="c31"><circle cx="584.4" cy="318" r="3.1"/><circle cx="590.3" cy="317.4" r="3.1"/></g><g class="c32"><circle cx="760" cy="321.1" r="3.1"/></g><g class="c35"><circle cx="547.1" cy="327.9" r="3.1"/></g><g class="c37"><circle cx="552.7" cy="332.4" r="3.1"/></g><g class="c34"><circle cx="573.5" cy="325.4" r="3.1"/></g><g class="c29"><circle cx="642.4" cy="313.6" r="3.1"/></g><g class="c33"><circle cx="578.3" cy="322.1" r="3.1"/></g><g class="c29"><circle cx="617.7" cy="312.4" r="3.1"/></g><g class="c31"><circle cx="664.3" cy="317.7" r="3.1"/></g><g class="c35"><circle cx="570.7" cy="327.2" r="3.1"/></g><g class="c36"><circle cx="566.2" cy="330.3" r="3.1"/></g><g class="c29"><circle cx="636.9" cy="313.6" r="3.1"/><circle cx="622" cy="313.4" r="3.1"/></g><g class="c32"><circle cx="579.9" cy="320.6" r="3.1"/></g><g class="c31"><circle cx="589.4" cy="317.5" r="3.1"/><circle cx="588.6" cy="318.2" r="3.1"/><circle cx="593.5" cy="317.5" r="3.1"/></g><g class="c25"><circle cx="484.5" cy="302.2" r="3.1"/></g><g class="c30"><circle cx="598.1" cy="316.1" r="3.1"/></g><g class="c33"><circle cx="506.1" cy="323.4" r="3.1"/></g><g class="c34"><circle cx="735.2" cy="326.3" r="3.1"/></g><g class="c28"><circle cx="790.7" cy="310.2" r="3.1"/></g><g class="c30"><circle cx="594.4" cy="316.4" r="3.1"/></g><g class="c36"><circle cx="541.5" cy="329.7" r="3.1"/><circle cx="538.5" cy="331.1" r="3.1"/></g><g class="c35"><circle cx="525.9" cy="327.3" r="3.1"/><circle cx="568.1" cy="328.3" r="3.1"/><circle cx="544.6" cy="328" r="3.1"/></g><g class="c32"><circle cx="765.1" cy="321" r="3.1"/></g><g class="c31"><circle cx="581.5" cy="318.8" r="3.1"/></g><g class="c33"><circle cx="574.2" cy="323.8" r="3.1"/></g><g class="c31"><circle cx="665.5" cy="317.5" r="3.1"/><circle cx="596.6" cy="317.1" r="3.1"/></g><g class="c37"><circle cx="534.9" cy="332.5" r="3.1"/></g><g class="c29"><circle cx="638.1" cy="314.4" r="3.1"/></g><g class="c35"><circle cx="524" cy="327.6" r="3.1"/></g><g class="c36"><circle cx="563.2" cy="331.3" r="3.1"/></g><g class="c38"><circle cx="558.6" cy="334.3" r="3.1"/></g><g class="c30"><circle cx="600" cy="316" r="3.1"/></g><g class="c31"><circle cx="585.9" cy="319.2" r="3.1"/></g><g class="c37"><circle cx="560.6" cy="332.7" r="3.1"/></g><g class="c31"><circle cx="668.8" cy="318.8" r="3.1"/></g><g class="c29"><circle cx="623.8" cy="313.9" r="3.1"/><circle cx="625.2" cy="314.5" r="3.1"/></g><g class="c34"><circle cx="738.4" cy="325.8" r="3.1"/></g><g class="c30"><circle cx="599" cy="316.5" r="3.1"/></g><g class="c32"><circle cx="671.6" cy="320.1" r="3.1"/></g><g class="c31"><circle cx="590.5" cy="318.4" r="3.1"/><circle cx="584.4" cy="319.6" r="3.1"/></g><g class="c32"><circle cx="770.1" cy="320.3" r="3.1"/></g><g class="c36"><circle cx="549.6" cy="331.4" r="3.1"/></g><g class="c32"><circle cx="580.9" cy="322" r="3.1"/></g><g class="c34"><circle cx="576.7" cy="325.4" r="3.1"/></g><g class="c31"><circle cx="594.3" cy="317.8" r="3.1"/></g><g class="c29"><circle cx="622" cy="314.4" r="3.1"/><circle cx="620.7" cy="314.6" r="3.1"/></g><g class="c38"><circle cx="555.2" cy="335.1" r="3.1"/></g><g class="c29"><circle cx="622.7" cy="314.7" r="3.1"/><circle cx="621.4" cy="314.4" r="3.1"/></g><g class="c32"><circle cx="582.1" cy="320.6" r="3.1"/></g><g class="c31"><circle cx="588.6" cy="319.1" r="3.1"/></g><g class="c30"><circle cx="597.3" cy="317.2" r="3.1"/></g><g class="c32"><circle cx="675.7" cy="321.4" r="3.1"/><circle cx="499.7" cy="322.2" r="3.1"/></g><g class="c29"><circle cx="621.4" cy="315" r="3.1"/><circle cx="618.6" cy="314.9" r="3.1"/></g><g class="c36"><circle cx="531.6" cy="331.6" r="3.1"/></g><g class="c30"><circle cx="646" cy="316.9" r="3.1"/></g><g class="c31"><circle cx="592.2" cy="319" r="3.1"/></g><g class="c33"><circle cx="577.6" cy="323.4" r="3.1"/><circle cx="742.1" cy="324.9" r="3.1"/></g><g class="c36"><circle cx="727.5" cy="330.9" r="3.1"/></g><g class="c31"><circle cx="586.1" cy="320.4" r="3.1"/></g><g class="c37"><circle cx="553.8" cy="334.6" r="3.1"/></g><g class="c31"><circle cx="591.3" cy="319.3" r="3.1"/><circle cx="776.7" cy="319.9" r="3.1"/></g><g class="c30"><circle cx="598.9" cy="317.3" r="3.1"/></g><g class="c34"><circle cx="573.1" cy="326.4" r="3.1"/></g><g class="c31"><circle cx="586.9" cy="319.4" r="3.1"/></g><g class="c35"><circle cx="570.8" cy="328.2" r="3.1"/></g><g class="c31"><circle cx="667.3" cy="319.8" r="3.1"/></g><g class="c34"><circle cx="516.8" cy="326.8" r="3.1"/></g><g class="c30"><circle cx="649.1" cy="316" r="3.1"/></g><g class="c34"><circle cx="518" cy="326.3" r="3.1"/></g><g class="c29"><circle cx="623.4" cy="314.6" r="3.1"/></g><g class="c31"><circle cx="665.1" cy="318.1" r="3.1"/></g><g class="c34"><circle cx="746.2" cy="325.4" r="3.1"/></g><g class="c35"><circle cx="568.2" cy="330" r="3.1"/></g><g class="c36"><circle cx="530.4" cy="330.7" r="3.1"/></g><g class="c32"><circle cx="584" cy="321.7" r="3.1"/></g><g class="c36"><circle cx="565.2" cy="332.3" r="3.1"/></g><g class="c32"><circle cx="589.1" cy="320.8" r="3.1"/></g><g class="c37"><circle cx="562.5" cy="334.3" r="3.1"/></g><g class="c32"><circle cx="495.7" cy="321.3" r="3.1"/></g><g class="c31"><circle cx="594.4" cy="318.5" r="3.1"/><circle cx="597.3" cy="318.5" r="3.1"/></g><g class="c32"><circle cx="671.2" cy="321.7" r="3.1"/></g><g class="c29"><circle cx="624.2" cy="315.4" r="3.1"/></g><g class="c35"><circle cx="729.3" cy="329.8" r="3.1"/></g><g class="c34"><circle cx="512.9" cy="326.9" r="3.1"/></g><g class="c31"><circle cx="784.4" cy="320" r="3.1"/><circle cx="670.1" cy="320.5" r="3.1"/></g><g class="c36"><circle cx="564.9" cy="331.6" r="3.1"/></g><g class="c31"><circle cx="662.5" cy="319.4" r="3.1"/></g><g class="c33"><circle cx="751.1" cy="325.6" r="3.1"/></g><g class="c31"><circle cx="592.9" cy="319.4" r="3.1"/></g><g class="c29"><circle cx="622" cy="316.1" r="3.1"/></g><g class="c35"><circle cx="546.3" cy="329.6" r="3.1"/></g><g class="c31"><circle cx="591.7" cy="320.6" r="3.1"/></g><g class="c35"><circle cx="544.1" cy="330.8" r="3.1"/></g><g class="c31"><circle cx="790.3" cy="320.6" r="3.1"/></g><g class="c37"><circle cx="559.8" cy="335.1" r="3.1"/></g><g class="c27"><circle cx="484" cy="309.6" r="3.1"/></g><g class="c32"><circle cx="489.5" cy="321.6" r="3.1"/></g><g class="c30"><circle cx="620.4" cy="316.4" r="3.1"/></g><g class="c32"><circle cx="579.9" cy="323.5" r="3.1"/></g><g class="c31"><circle cx="595.6" cy="319.3" r="3.1"/></g><g class="c37"><circle cx="538.3" cy="333.7" r="3.1"/></g><g class="c33"><circle cx="579" cy="324.3" r="3.1"/></g><g class="c31"><circle cx="664.1" cy="319.8" r="3.1"/></g><g class="c32"><circle cx="675.3" cy="323.3" r="3.1"/></g><g class="c29"><circle cx="622.8" cy="316" r="3.1"/></g><g class="c31"><circle cx="591" cy="320.7" r="3.1"/></g><g class="c33"><circle cx="676.8" cy="324.1" r="3.1"/></g><g class="c37"><circle cx="536.2" cy="334.6" r="3.1"/></g><g class="c35"><circle cx="527.7" cy="329.7" r="3.1"/></g><g class="c29"><circle cx="626" cy="316" r="3.1"/></g><g class="c36"><circle cx="541.2" cy="331.3" r="3.1"/></g><g class="c29"><circle cx="640" cy="316.5" r="3.1"/></g><g class="c34"><circle cx="574.5" cy="327.7" r="3.1"/></g><g class="c30"><circle cx="597.8" cy="318.9" r="3.1"/></g><g class="c31"><circle cx="585.9" cy="321.5" r="3.1"/></g><g class="c30"><circle cx="638.5" cy="316.7" r="3.1"/></g><g class="c31"><circle cx="667" cy="321.5" r="3.1"/></g><g class="c37"><circle cx="557" cy="336.1" r="3.1"/></g><g class="c30"><circle cx="645.3" cy="318.2" r="3.1"/></g><g class="c31"><circle cx="594.2" cy="319.9" r="3.1"/></g><g class="c36"><circle cx="551.4" cy="332.5" r="3.1"/></g><g class="c33"><circle cx="508.6" cy="326.4" r="3.1"/></g><g class="c30"><circle cx="622.8" cy="317.1" r="3.1"/></g><g class="c33"><circle cx="754.6" cy="324.6" r="3.1"/></g><g class="c34"><circle cx="732.3" cy="328.7" r="3.1"/></g><g class="c33"><circle cx="575.2" cy="326.4" r="3.1"/></g><g class="c31"><circle cx="585.5" cy="321.4" r="3.1"/></g><g class="c35"><circle cx="571.5" cy="329.8" r="3.1"/><circle cx="570.5" cy="330.7" r="3.1"/></g><g class="c30"><circle cx="648.3" cy="318.3" r="3.1"/></g><g class="c31"><circle cx="596.3" cy="319.8" r="3.1"/></g><g class="c36"><circle cx="567.6" cy="332.4" r="3.1"/></g><g class="c34"><circle cx="524.2" cy="329.2" r="3.1"/></g><g class="c30"><circle cx="643.9" cy="318.1" r="3.1"/></g><g class="c31"><circle cx="595.4" cy="320.7" r="3.1"/></g><g class="c25"><circle cx="483.9" cy="306.7" r="3.1"/></g><g class="c30"><circle cx="624.6" cy="317.5" r="3.1"/></g><g class="c29"><circle cx="621.1" cy="317" r="3.1"/></g><g class="c31"><circle cx="591.8" cy="321.4" r="3.1"/></g><g class="c33"><circle cx="579.4" cy="326.3" r="3.1"/><circle cx="505.5" cy="325.8" r="3.1"/></g><g class="c32"><circle cx="671.5" cy="323.1" r="3.1"/></g><g class="c36"><circle cx="532.9" cy="333.8" r="3.1"/></g><g class="c32"><circle cx="581.3" cy="324" r="3.1"/></g><g class="c33"><circle cx="675.3" cy="326.2" r="3.1"/></g><g class="c32"><circle cx="757.6" cy="323.7" r="3.1"/><circle cx="672.3" cy="323.6" r="3.1"/></g><g class="c31"><circle cx="587.3" cy="321.8" r="3.1"/><circle cx="663.6" cy="320.9" r="3.1"/></g><g class="c36"><circle cx="564.9" cy="333.8" r="3.1"/></g><g class="c33"><circle cx="578" cy="327" r="3.1"/></g><g class="c30"><circle cx="645.2" cy="319.2" r="3.1"/></g><g class="c37"><circle cx="553.4" cy="336.4" r="3.1"/></g><g class="c31"><circle cx="597.1" cy="321.1" r="3.1"/><circle cx="590.3" cy="322.5" r="3.1"/></g><g class="c25"><circle cx="483.9" cy="305.5" r="3.1"/></g><g class="c32"><circle cx="586" cy="323.1" r="3.1"/></g><g class="c37"><circle cx="562" cy="336.2" r="3.1"/></g><g class="c32"><circle cx="581.9" cy="322.6" r="3.1"/></g><g class="c35"><circle cx="547.8" cy="332.2" r="3.1"/></g><g class="c34"><circle cx="738.1" cy="328.3" r="3.1"/><circle cx="575.3" cy="329.2" r="3.1"/></g><g class="c32"><circle cx="763.5" cy="324.1" r="3.1"/></g><g class="c31"><circle cx="596.1" cy="321.7" r="3.1"/></g><g class="c33"><circle cx="500.8" cy="325.8" r="3.1"/></g><g class="c34"><circle cx="518.3" cy="329.7" r="3.1"/></g><g class="c35"><circle cx="545.8" cy="332.6" r="3.1"/></g><g class="c34"><circle cx="573.7" cy="330" r="3.1"/></g><g class="c29"><circle cx="483.8" cy="317.9" r="3.1"/></g><g class="c38"><circle cx="558.8" cy="337.8" r="3.1"/></g><g class="c31"><circle cx="666.3" cy="321.8" r="3.1"/><circle cx="592.9" cy="321.8" r="3.1"/></g><g class="c34"><circle cx="741.6" cy="328.5" r="3.1"/></g><g class="c31"><circle cx="591.9" cy="323" r="3.1"/><circle cx="588.4" cy="323" r="3.1"/></g><g class="c35"><circle cx="570.7" cy="332.5" r="3.1"/></g><g class="c32"><circle cx="584.1" cy="323.4" r="3.1"/></g><g class="c30"><circle cx="647.3" cy="320.6" r="3.1"/></g><g class="c35"><circle cx="529.6" cy="332.9" r="3.1"/></g><g class="c34"><circle cx="515.9" cy="329.6" r="3.1"/></g><g class="c28"><circle cx="790.5" cy="314" r="3.1"/></g><g class="c32"><circle cx="768.2" cy="323.7" r="3.1"/><circle cx="586.9" cy="324.1" r="3.1"/></g><g class="c36"><circle cx="551.6" cy="334.9" r="3.1"/></g><g class="c31"><circle cx="669" cy="323.1" r="3.1"/><circle cx="663.4" cy="322.7" r="3.1"/></g><g class="c32"><circle cx="581.4" cy="325.7" r="3.1"/></g><g class="c36"><circle cx="539.5" cy="335.2" r="3.1"/></g><g class="c31"><circle cx="594.5" cy="322.2" r="3.1"/></g><g class="c33"><circle cx="580.2" cy="326.9" r="3.1"/><circle cx="699.3" cy="328.2" r="3.1"/></g><g class="c37"><circle cx="536.9" cy="337" r="3.1"/><circle cx="556.8" cy="338" r="3.1"/></g><g class="c29"><circle cx="483.7" cy="316.3" r="3.1"/></g><g class="c35"><circle cx="728.8" cy="332.8" r="3.1"/><circle cx="542.1" cy="333.2" r="3.1"/></g><g class="c30"><circle cx="645.5" cy="320.3" r="3.1"/></g><g class="c32"><circle cx="586" cy="324.6" r="3.1"/><circle cx="494.8" cy="325.6" r="3.1"/></g><g class="c31"><circle cx="596.6" cy="322.2" r="3.1"/></g><g class="c32"><circle cx="673.2" cy="326" r="3.1"/></g><g class="c36"><circle cx="567.5" cy="333.8" r="3.1"/></g><g class="c33"><circle cx="746.2" cy="327.8" r="3.1"/></g><g class="c34"><circle cx="512.3" cy="329.5" r="3.1"/></g><g class="c36"><circle cx="565.7" cy="335.5" r="3.1"/></g><g class="c37"><circle cx="555.9" cy="337.7" r="3.1"/></g><g class="c33"><circle cx="577.8" cy="328.4" r="3.1"/></g><g class="c31"><circle cx="596.4" cy="322.1" r="3.1"/></g><g class="c30"><circle cx="648.9" cy="320.8" r="3.1"/></g><g class="c37"><circle cx="563.7" cy="337.1" r="3.1"/></g><g class="c31"><circle cx="589.4" cy="323.5" r="3.1"/><circle cx="593" cy="322.9" r="3.1"/></g><g class="c33"><circle cx="749.4" cy="328.5" r="3.1"/><circle cx="675.4" cy="326.9" r="3.1"/></g><g class="c31"><circle cx="776.2" cy="323.7" r="3.1"/></g><g class="c27"><circle cx="483.7" cy="314.1" r="3.1"/></g><g class="c35"><circle cx="525.8" cy="332" r="3.1"/></g><g class="c34"><circle cx="575" cy="330.6" r="3.1"/><circle cx="510.1" cy="329.2" r="3.1"/></g><g class="c31"><circle cx="595.2" cy="323" r="3.1"/></g><g class="c33"><circle cx="670.1" cy="327.1" r="3.1"/></g><g class="c35"><circle cx="573.1" cy="332.5" r="3.1"/></g><g class="c32"><circle cx="591.3" cy="324.5" r="3.1"/></g><g class="c35"><circle cx="524.7" cy="332" r="3.1"/></g><g class="c31"><circle cx="597.9" cy="322.4" r="3.1"/></g><g class="c30"><circle cx="647.6" cy="321.4" r="3.1"/></g><g class="c35"><circle cx="571.6" cy="333.8" r="3.1"/><circle cx="549" cy="333.5" r="3.1"/></g><g class="c32"><circle cx="668.6" cy="325" r="3.1"/></g><g class="c37"><circle cx="561.6" cy="337.8" r="3.1"/></g><g class="c36"><circle cx="533.1" cy="336.2" r="3.1"/></g><g class="c31"><circle cx="782.2" cy="324.3" r="3.1"/></g><g class="c34"><circle cx="732.9" cy="331.5" r="3.1"/></g><g class="c32"><circle cx="582.2" cy="326.5" r="3.1"/></g><g class="c31"><circle cx="488.9" cy="324.5" r="3.1"/></g><g class="c32"><circle cx="587" cy="324.8" r="3.1"/></g><g class="c38"><circle cx="558.9" cy="339.9" r="3.1"/></g><g class="c26"><circle cx="483.6" cy="312.3" r="3.1"/></g></g><g fill-opacity=".72" stroke-opacity=".72"><g class="c34"><circle cx="579" cy="330.1" r="3.1"/></g><g class="c31"><circle cx="658.9" cy="323.4" r="3.1"/></g><g class="c33"><circle cx="580.2" cy="328.2" r="3.1"/></g><g class="c35"><circle cx="546.7" cy="334.2" r="3.1"/></g><g class="c33"><circle cx="673.3" cy="328.7" r="3.1"/><circle cx="753.8" cy="327.5" r="3.1"/></g><g class="c34"><circle cx="735.2" cy="331.4" r="3.1"/></g><g class="c32"><circle cx="585.7" cy="325.6" r="3.1"/><circle cx="592.2" cy="325.9" r="3.1"/></g><g class="c36"><circle cx="543.5" cy="336" r="3.1"/></g><g class="c31"><circle cx="652.9" cy="323.5" r="3.1"/></g><g class="c33"><circle cx="504.1" cy="329.1" r="3.1"/></g><g class="c36"><circle cx="552.2" cy="336.8" r="3.1"/></g><g class="c31"><circle cx="789.6" cy="324.5" r="3.1"/></g><g class="c34"><circle cx="576.7" cy="331.6" r="3.1"/></g><g class="c32"><circle cx="756.7" cy="327.6" r="3.1"/><circle cx="584.2" cy="327" r="3.1"/></g><g class="c25"><circle cx="483.6" cy="310.4" r="3.1"/></g><g class="c35"><circle cx="568.1" cy="335" r="3.1"/></g><g class="c34"><circle cx="518.8" cy="332.3" r="3.1"/></g><g class="c31"><circle cx="657.5" cy="324.7" r="3.1"/><circle cx="592.1" cy="324.7" r="3.1"/><circle cx="598.1" cy="323.3" r="3.1"/></g><g class="c36"><circle cx="540.6" cy="337.2" r="3.1"/></g><g class="c37"><circle cx="537.5" cy="339.6" r="3.1"/></g><g class="c31"><circle cx="595.1" cy="324.3" r="3.1"/></g><g class="c32"><circle cx="588" cy="326.2" r="3.1"/></g><g class="c35"><circle cx="530.1" cy="335.2" r="3.1"/><circle cx="574.3" cy="333.6" r="3.1"/></g><g class="c31"><circle cx="597.3" cy="324.6" r="3.1"/></g><g class="c35"><circle cx="529.5" cy="335.2" r="3.1"/></g><g class="c36"><circle cx="566" cy="336.6" r="3.1"/></g><g class="c31"><circle cx="599.7" cy="324.3" r="3.1"/><circle cx="602.1" cy="323.6" r="3.1"/></g><g class="c33"><circle cx="582" cy="328.9" r="3.1"/></g><g class="c30"><circle cx="483.8" cy="323.1" r="3.1"/></g><g class="c32"><circle cx="667.7" cy="326" r="3.1"/></g><g class="c37"><circle cx="556.9" cy="338.7" r="3.1"/></g><g class="c34"><circle cx="739.5" cy="331.1" r="3.1"/><circle cx="517.7" cy="331.7" r="3.1"/></g><g class="c31"><circle cx="593.9" cy="325.5" r="3.1"/></g><g class="c33"><circle cx="500.7" cy="328.7" r="3.1"/></g><g class="c35"><circle cx="572.9" cy="334.3" r="3.1"/></g><g class="c32"><circle cx="762.9" cy="327.9" r="3.1"/></g><g class="c37"><circle cx="563.2" cy="338.9" r="3.1"/></g><g class="c30"><circle cx="483.7" cy="322.1" r="3.1"/></g><g class="c24"><circle cx="483.5" cy="308" r="3.1"/></g><g class="c37"><circle cx="562" cy="339.8" r="3.1"/></g><g class="c33"><circle cx="579.9" cy="330.5" r="3.1"/></g><g class="c32"><circle cx="670.3" cy="327.7" r="3.1"/></g><g class="c31"><circle cx="601.3" cy="324" r="3.1"/></g><g class="c32"><circle cx="586.2" cy="326.9" r="3.1"/><circle cx="589.3" cy="327.1" r="3.1"/></g><g class="c31"><circle cx="595.6" cy="326.2" r="3.1"/></g><g class="c33"><circle cx="672.1" cy="329.3" r="3.1"/></g><g class="c36"><circle cx="569.7" cy="337" r="3.1"/></g><g class="c35"><circle cx="549.7" cy="335.1" r="3.1"/></g><g class="c34"><circle cx="513.5" cy="331.9" r="3.1"/></g><g class="c32"><circle cx="584.7" cy="328.2" r="3.1"/><circle cx="588.2" cy="328.2" r="3.1"/></g><g class="c31"><circle cx="656.2" cy="324.6" r="3.1"/></g><g class="c36"><circle cx="535.4" cy="337.9" r="3.1"/></g><g class="c34"><circle cx="577.1" cy="333.4" r="3.1"/></g><g class="c31"><circle cx="597.8" cy="326" r="3.1"/></g><g class="c32"><circle cx="666.8" cy="328.3" r="3.1"/></g><g class="c36"><circle cx="547.3" cy="336.6" r="3.1"/></g><g class="c33"><circle cx="744.6" cy="330.7" r="3.1"/></g><g class="c32"><circle cx="496.5" cy="327.9" r="3.1"/><circle cx="767.9" cy="327.6" r="3.1"/></g><g class="c34"><circle cx="696.6" cy="332.8" r="3.1"/></g><g class="c35"><circle cx="525.4" cy="334.5" r="3.1"/></g><g class="c34"><circle cx="577.5" cy="332" r="3.1"/></g><g class="c29"><circle cx="483.7" cy="319.6" r="3.1"/></g><g class="c32"><circle cx="591.5" cy="327" r="3.1"/></g><g class="c33"><circle cx="582.3" cy="331" r="3.1"/></g><g class="c36"><circle cx="554.1" cy="337.9" r="3.1"/></g><g class="c34"><circle cx="511.3" cy="331.9" r="3.1"/></g><g class="c37"><circle cx="559.4" cy="340.3" r="3.1"/></g><g class="c31"><circle cx="654.8" cy="326.5" r="3.1"/><circle cx="599.5" cy="326.2" r="3.1"/></g><g class="c35"><circle cx="574.7" cy="335.5" r="3.1"/></g><g class="c32"><circle cx="590.9" cy="327.8" r="3.1"/></g><g class="c31"><circle cx="601.9" cy="325.8" r="3.1"/><circle cx="639.4" cy="324.9" r="3.1"/></g><g class="c34"><circle cx="581" cy="332.6" r="3.1"/></g><g class="c36"><circle cx="567.4" cy="337.9" r="3.1"/></g><g class="c35"><circle cx="731.9" cy="334.5" r="3.1"/></g><g class="c37"><circle cx="565.1" cy="340.8" r="3.1"/></g><g class="c31"><circle cx="597.1" cy="325.9" r="3.1"/></g><g class="c6"><circle cx="641.6" cy="264.5" r="3.1"/></g><g class="c28"><circle cx="789.8" cy="318.1" r="3.1"/></g><g class="c30"><circle cx="613" cy="324.1" r="3.1"/></g><g class="c36"><circle cx="543.7" cy="338" r="3.1"/></g><g class="c32"><circle cx="669.3" cy="329.5" r="3.1"/></g><g class="c28"><circle cx="483.6" cy="318" r="3.1"/></g><g class="c32"><circle cx="598.5" cy="327.7" r="3.1"/></g><g class="c33"><circle cx="748.3" cy="330.4" r="3.1"/></g><g class="c34"><circle cx="579.3" cy="334.1" r="3.1"/></g><g class="c33"><circle cx="585.3" cy="330.7" r="3.1"/></g><g class="c31"><circle cx="593.7" cy="326.5" r="3.1"/></g><g class="c33"><circle cx="670.8" cy="330.7" r="3.1"/></g><g class="c36"><circle cx="531.4" cy="337.7" r="3.1"/></g><g class="c32"><circle cx="488.7" cy="328.7" r="3.1"/></g><g class="c33"><circle cx="484.1" cy="330.9" r="3.1"/></g><g class="c37"><circle cx="556.4" cy="341.3" r="3.1"/></g><g class="c36"><circle cx="540.2" cy="339.9" r="3.1"/></g><g class="c32"><circle cx="660.4" cy="327.9" r="3.1"/></g><g class="c33"><circle cx="506.5" cy="332.1" r="3.1"/></g><g class="c31"><circle cx="775.3" cy="327.5" r="3.1"/></g><g class="c32"><circle cx="589.4" cy="328.4" r="3.1"/></g><g class="c31"><circle cx="636.4" cy="325.4" r="3.1"/></g><g class="c35"><circle cx="577.6" cy="335.6" r="3.1"/></g><g class="c37"><circle cx="538.7" cy="341" r="3.1"/></g><g class="c30"><circle cx="612.6" cy="325.1" r="3.1"/></g><g class="c33"><circle cx="584.2" cy="331.2" r="3.1"/></g><g class="c31"><circle cx="602.9" cy="326.6" r="3.1"/></g><g class="c34"><circle cx="736.6" cy="335" r="3.1"/><circle cx="519.5" cy="335.1" r="3.1"/></g><g class="c37"><circle cx="562.7" cy="341.5" r="3.1"/></g><g class="c31"><circle cx="640.5" cy="325.7" r="3.1"/></g><g class="c32"><circle cx="591.9" cy="329.1" r="3.1"/></g><g class="c37"><circle cx="562.1" cy="342.1" r="3.1"/></g><g class="c31"><circle cx="657.2" cy="327.7" r="3.1"/></g><g class="c32"><circle cx="594.8" cy="328.7" r="3.1"/></g><g class="c30"><circle cx="634.7" cy="325.4" r="3.1"/></g><g class="c33"><circle cx="753.5" cy="331.1" r="3.1"/></g><g class="c32"><circle cx="484.1" cy="329.7" r="3.1"/></g><g class="c35"><circle cx="571.1" cy="337.2" r="3.1"/></g><g class="c32"><circle cx="599.9" cy="328.2" r="3.1"/></g><g class="c26"><circle cx="483.6" cy="315.5" r="3.1"/></g><g class="c31"><circle cx="638.8" cy="326.1" r="3.1"/></g><g class="c33"><circle cx="667.5" cy="330.9" r="3.1"/></g><g class="c31"><circle cx="599.9" cy="327.7" r="3.1"/></g><g class="c36"><circle cx="569.3" cy="339.2" r="3.1"/><circle cx="549.3" cy="338.3" r="3.1"/></g><g class="c6"><circle cx="641.6" cy="265.2" r="3.1"/></g><g class="c31"><circle cx="610.2" cy="326.6" r="3.1"/></g><g class="c33"><circle cx="755.9" cy="331.2" r="3.1"/></g><g class="c31"><circle cx="782.4" cy="328.3" r="3.1"/></g><g class="c34"><circle cx="517.3" cy="334.9" r="3.1"/></g><g class="c35"><circle cx="527.9" cy="338" r="3.1"/></g><g class="c31"><circle cx="637.1" cy="326.3" r="3.1"/></g><g class="c33"><circle cx="502.6" cy="332" r="3.1"/></g><g class="c31"><circle cx="654.6" cy="327.6" r="3.1"/></g><g class="c33"><circle cx="581.8" cy="333.4" r="3.1"/></g><g class="c26"><circle cx="483.5" cy="314.3" r="3.1"/></g><g class="c31"><circle cx="611.9" cy="327.1" r="3.1"/></g><g class="c32"><circle cx="596.5" cy="329.1" r="3.1"/><circle cx="587.3" cy="329.8" r="3.1"/></g><g class="c30"><circle cx="633.4" cy="325.7" r="3.1"/></g><g class="c34"><circle cx="739.5" cy="334.4" r="3.1"/></g><g class="c37"><circle cx="567" cy="341.4" r="3.1"/></g><g class="c33"><circle cx="585.9" cy="332.4" r="3.1"/></g><g class="c36"><circle cx="547.8" cy="338.8" r="3.1"/></g><g class="c34"><circle cx="695" cy="333.8" r="3.1"/></g><g class="c35"><circle cx="574.5" cy="337.5" r="3.1"/></g><g class="c32"><circle cx="590.3" cy="329.7" r="3.1"/></g><g class="c31"><circle cx="601.8" cy="327.1" r="3.1"/><circle cx="639.6" cy="327" r="3.1"/></g><g class="c33"><circle cx="669.5" cy="332" r="3.1"/></g><g class="c32"><circle cx="601.2" cy="329" r="3.1"/></g><g class="c36"><circle cx="554.2" cy="340.2" r="3.1"/></g><g class="c31"><circle cx="484" cy="327" r="3.1"/><circle cx="659.4" cy="328.9" r="3.1"/></g><g class="c34"><circle cx="514.6" cy="334.9" r="3.1"/></g><g class="c35"><circle cx="579.1" cy="336.5" r="3.1"/></g><g class="c31"><circle cx="656.1" cy="328.7" r="3.1"/><circle cx="788.5" cy="328.8" r="3.1"/></g><g class="c34"><circle cx="580.4" cy="334.1" r="3.1"/></g><g class="c36"><circle cx="534.7" cy="340.5" r="3.1"/></g><g class="c33"><circle cx="584.4" cy="333.8" r="3.1"/><circle cx="588.7" cy="332" r="3.1"/></g><g class="c30"><circle cx="635.6" cy="326.2" r="3.1"/></g><g class="c25"><circle cx="483.5" cy="312.2" r="3.1"/></g><g class="c32"><circle cx="657" cy="330.2" r="3.1"/></g><g class="c31"><circle cx="637.8" cy="327" r="3.1"/></g><g class="c34"><circle cx="742.3" cy="334.4" r="3.1"/></g><g class="c35"><circle cx="526.3" cy="336.9" r="3.1"/></g><g class="c32"><circle cx="761.3" cy="331.4" r="3.1"/></g><g class="c36"><circle cx="572.4" cy="339.4" r="3.1"/></g><g class="c31"><circle cx="652.8" cy="328" r="3.1"/><circle cx="642.4" cy="328" r="3.1"/></g><g class="c32"><circle cx="592.4" cy="330.1" r="3.1"/></g><g class="c31"><circle cx="603.2" cy="328.4" r="3.1"/></g><g class="c37"><circle cx="564.6" cy="342.7" r="3.1"/></g><g class="c35"><circle cx="577.7" cy="338" r="3.1"/><circle cx="545.8" cy="338.6" r="3.1"/></g><g class="c30"><circle cx="484" cy="325.4" r="3.1"/></g><g class="c31"><circle cx="602.9" cy="329.1" r="3.1"/></g><g class="c32"><circle cx="592.1" cy="330.4" r="3.1"/></g><g class="c37"><circle cx="558.1" cy="342.4" r="3.1"/></g><g class="c31"><circle cx="598" cy="329.1" r="3.1"/><circle cx="600.3" cy="329.5" r="3.1"/></g><g class="c33"><circle cx="667.3" cy="333.4" r="3.1"/><circle cx="494.9" cy="332.6" r="3.1"/></g><g class="c36"><circle cx="542" cy="341.6" r="3.1"/></g><g class="c33"><circle cx="511.6" cy="334.3" r="3.1"/></g><g class="c37"><circle cx="569.1" cy="342.9" r="3.1"/></g><g class="c32"><circle cx="594.5" cy="330.4" r="3.1"/></g><g class="c34"><circle cx="582" cy="336.2" r="3.1"/></g><g class="c31"><circle cx="654.1" cy="328.8" r="3.1"/><circle cx="640.9" cy="328.5" r="3.1"/></g><g class="c35"><circle cx="551.8" cy="339.7" r="3.1"/></g><g class="c31"><circle cx="610.9" cy="328.4" r="3.1"/></g><g class="c29"><circle cx="483.9" cy="323.6" r="3.1"/></g><g class="c32"><circle cx="597.1" cy="330.3" r="3.1"/></g><g class="c31"><circle cx="651.4" cy="329.3" r="3.1"/></g><g class="c36"><circle cx="570" cy="340.8" r="3.1"/></g><g class="c33"><circle cx="586" cy="334.9" r="3.1"/></g><g class="c37"><circle cx="538.7" cy="343.9" r="3.1"/></g><g class="c31"><circle cx="614.6" cy="329.3" r="3.1"/></g><g class="c32"><circle cx="769" cy="332.3" r="3.1"/></g><g class="c34"><circle cx="693.2" cy="336.3" r="3.1"/></g><g class="c37"><circle cx="562.5" cy="343" r="3.1"/></g><g class="c35"><circle cx="531.5" cy="340" r="3.1"/></g><g class="c33"><circle cx="747.2" cy="334.1" r="3.1"/></g><g class="c31"><circle cx="606.5" cy="329.5" r="3.1"/></g><g class="c35"><circle cx="580.1" cy="338.4" r="3.1"/></g><g class="c33"><circle cx="585.9" cy="334.2" r="3.1"/></g><g class="c34"><circle cx="506.8" cy="335.8" r="3.1"/><circle cx="733.6" cy="337" r="3.1"/></g><g class="c32"><circle cx="589.9" cy="332.3" r="3.1"/></g><g class="c36"><circle cx="556.2" cy="341.6" r="3.1"/></g><g class="c34"><circle cx="520.5" cy="337.3" r="3.1"/><circle cx="584.6" cy="336.5" r="3.1"/></g><g class="c35"><circle cx="530.1" cy="340.1" r="3.1"/><circle cx="549.4" cy="340.4" r="3.1"/></g><g class="c31"><circle cx="652.6" cy="330.2" r="3.1"/></g><g class="c32"><circle cx="489.4" cy="332.9" r="3.1"/></g><g class="c33"><circle cx="665.4" cy="334.4" r="3.1"/></g><g class="c31"><circle cx="639.4" cy="329" r="3.1"/><circle cx="612.4" cy="329.2" r="3.1"/></g><g class="c35"><circle cx="578.5" cy="340" r="3.1"/></g><g class="c27"><circle cx="483.8" cy="321" r="3.1"/></g><g class="c36"><circle cx="573.5" cy="340.8" r="3.1"/></g><g class="c34"><circle cx="518" cy="338" r="3.1"/></g><g class="c37"><circle cx="566.5" cy="343.5" r="3.1"/></g><g class="c32"><circle cx="773" cy="331.9" r="3.1"/></g><g class="c33"><circle cx="751.6" cy="334.5" r="3.1"/></g><g class="c31"><circle cx="614.2" cy="330.3" r="3.1"/></g><g class="c33"><circle cx="484.7" cy="334.4" r="3.1"/></g><g class="c31"><circle cx="647.5" cy="330.8" r="3.1"/></g><g class="c33"><circle cx="587.7" cy="335.9" r="3.1"/></g><g class="c36"><circle cx="546.8" cy="342" r="3.1"/></g><g class="c33"><circle cx="588.4" cy="334.2" r="3.1"/></g><g class="c36"><circle cx="537.2" cy="342.4" r="3.1"/><circle cx="572.3" cy="342.1" r="3.1"/><circle cx="560.3" cy="343.3" r="3.1"/></g><g class="c31"><circle cx="610" cy="330.7" r="3.1"/><circle cx="612" cy="331" r="3.1"/></g><g class="c28"><circle cx="788.7" cy="322" r="3.1"/></g><g class="c31"><circle cx="642.5" cy="330.5" r="3.1"/></g><g class="c32"><circle cx="653.9" cy="331.4" r="3.1"/><circle cx="591.6" cy="333.4" r="3.1"/></g><g class="c31"><circle cx="607.7" cy="331" r="3.1"/></g><g class="c26"><circle cx="483.8" cy="319.1" r="3.1"/></g><g class="c31"><circle cx="629.6" cy="331.1" r="3.1"/></g><g class="c34"><circle cx="737.9" cy="337" r="3.1"/></g><g class="c37"><circle cx="564.9" cy="344.4" r="3.1"/></g><g class="c33"><circle cx="501.7" cy="335.9" r="3.1"/></g><g class="c35"><circle cx="527.4" cy="339.5" r="3.1"/></g><g class="c33"><circle cx="590.5" cy="335.6" r="3.1"/></g><g class="c32"><circle cx="484.6" cy="332.7" r="3.1"/></g><g class="c33"><circle cx="755.1" cy="334.7" r="3.1"/></g><g class="c34"><circle cx="691.2" cy="338.8" r="3.1"/></g><g class="c36"><circle cx="571" cy="342.8" r="3.1"/><circle cx="544.3" cy="343" r="3.1"/></g><g class="c34"><circle cx="514.7" cy="338.4" r="3.1"/></g><g class="c31"><circle cx="627.7" cy="331" r="3.1"/></g><g class="c34"><circle cx="586.1" cy="337.8" r="3.1"/></g><g class="c31"><circle cx="605.1" cy="331.5" r="3.1"/></g><g class="c26"><circle cx="483.8" cy="317.9" r="3.1"/></g><g class="c33"><circle cx="663.5" cy="335" r="3.1"/></g><g class="c34"><circle cx="581.5" cy="339" r="3.1"/></g><g class="c35"><circle cx="576.4" cy="340.7" r="3.1"/></g><g class="c32"><circle cx="779.9" cy="332.4" r="3.1"/><circle cx="655.5" cy="333.2" r="3.1"/></g><g class="c37"><circle cx="541.6" cy="345.1" r="3.1"/></g><g class="c32"><circle cx="652.1" cy="332.3" r="3.1"/></g><g class="c31"><circle cx="609.4" cy="331.6" r="3.1"/></g><g class="c32"><circle cx="607" cy="332.3" r="3.1"/></g><g class="c35"><circle cx="552.7" cy="341" r="3.1"/></g><g class="c5"><circle cx="639.7" cy="266.6" r="3.1"/></g><g class="c36"><circle cx="533.8" cy="342.3" r="3.1"/></g><g class="c31"><circle cx="484.6" cy="330.7" r="3.1"/></g><g class="c33"><circle cx="741.3" cy="337.1" r="3.1"/></g><g class="c36"><circle cx="574.8" cy="342.8" r="3.1"/></g><g class="c5"><circle cx="637.8" cy="267.3" r="3.1"/></g><g class="c37"><circle cx="568.3" cy="345.2" r="3.1"/></g><g class="c17"><circle cx="616.3" cy="296.5" r="3.1"/></g><g class="c31"><circle cx="649.5" cy="332.4" r="3.1"/></g><g class="c35"><circle cx="579.9" cy="340.7" r="3.1"/></g><g class="c25"><circle cx="483.7" cy="315.9" r="3.1"/></g><g class="c32"><circle cx="759.1" cy="334.5" r="3.1"/></g><g class="c31"><circle cx="628" cy="332.4" r="3.1"/></g><g class="c33"><circle cx="498" cy="335.4" r="3.1"/></g><g class="c36"><circle cx="557.5" cy="343.1" r="3.1"/></g><g class="c34"><circle cx="511.6" cy="338.3" r="3.1"/></g><g class="c32"><circle cx="647" cy="333.5" r="3.1"/><circle cx="653.3" cy="334.1" r="3.1"/></g><g class="c4"><circle cx="642.7" cy="265.7" r="3.1"/></g><g class="c33"><circle cx="588.5" cy="337.6" r="3.1"/></g><g class="c35"><circle cx="578.9" cy="342.3" r="3.1"/></g><g class="c5"><circle cx="629.3" cy="268.6" r="3.1"/></g><g class="c34"><circle cx="583.7" cy="340.1" r="3.1"/></g><g class="c33"><circle cx="591.8" cy="337.1" r="3.1"/></g><g class="c35"><circle cx="550.2" cy="342.2" r="3.1"/></g><g class="c32"><circle cx="786.9" cy="333.1" r="3.1"/></g><g class="c30"><circle cx="484.5" cy="328.6" r="3.1"/></g><g class="c34"><circle cx="521.7" cy="340.4" r="3.1"/></g><g class="c6"><circle cx="624.9" cy="269.5" r="3.1"/></g><g class="c33"><circle cx="745.1" cy="337.4" r="3.1"/></g><g class="c37"><circle cx="561.1" cy="345.6" r="3.1"/></g><g class="c35"><circle cx="583" cy="340.8" r="3.1"/><circle cx="531.6" cy="341.9" r="3.1"/></g><g class="c31"><circle cx="608.7" cy="333.1" r="3.1"/></g><g class="c34"><circle cx="587.5" cy="338.6" r="3.1"/></g><g class="c33"><circle cx="661.9" cy="335.9" r="3.1"/></g><g class="c34"><circle cx="508.8" cy="338.3" r="3.1"/></g><g class="c5"><circle cx="646.2" cy="268.4" r="3.1"/></g><g class="c36"><circle cx="572.1" cy="344.8" r="3.1"/></g><g class="c34"><circle cx="586.7" cy="340.5" r="3.1"/></g><g class="c33"><circle cx="591.1" cy="337.7" r="3.1"/></g><g class="c36"><circle cx="538" cy="345.3" r="3.1"/></g><g class="c31"><circle cx="630.4" cy="332.8" r="3.1"/></g><g class="c36"><circle cx="547.7" cy="343.7" r="3.1"/></g><g class="c37"><circle cx="570.9" cy="346.5" r="3.1"/></g><g class="c34"><circle cx="519.6" cy="340.5" r="3.1"/></g><g class="c29"><circle cx="484.5" cy="326.6" r="3.1"/></g><g class="c33"><circle cx="491.9" cy="336.4" r="3.1"/></g><g class="c32"><circle cx="766.2" cy="335.5" r="3.1"/></g><g class="c34"><circle cx="689" cy="339.3" r="3.1"/></g><g class="c5"><circle cx="642.2" cy="267.7" r="3.1"/></g><g class="c37"><circle cx="565.4" cy="346.4" r="3.1"/></g><g class="c5"><circle cx="641.3" cy="269.1" r="3.1"/></g><g class="c11"><circle cx="623.4" cy="282.9" r="3.1"/></g><g class="c36"><circle cx="545.6" cy="345.2" r="3.1"/></g><g class="c32"><circle cx="608.1" cy="334.5" r="3.1"/></g><g class="c6"><circle cx="614.9" cy="270.6" r="3.1"/></g><g class="c35"><circle cx="554.7" cy="342.7" r="3.1"/></g><g class="c34"><circle cx="735.3" cy="340.3" r="3.1"/></g><g class="c10"><circle cx="622.7" cy="281.4" r="3.1"/></g><g class="c35"><circle cx="528.8" cy="342" r="3.1"/></g><g class="c33"><circle cx="749.5" cy="337.6" r="3.1"/></g><g class="c5"><circle cx="627" cy="270.2" r="3.1"/></g><g class="c32"><circle cx="648.7" cy="334.4" r="3.1"/></g><g class="c33"><circle cx="593.6" cy="336.9" r="3.1"/></g><g class="c34"><circle cx="589.4" cy="339.8" r="3.1"/></g><g class="c36"><circle cx="564.6" cy="346.1" r="3.1"/></g><g class="c28"><circle cx="484.4" cy="324.5" r="3.1"/></g><g class="c6"><circle cx="630.8" cy="271" r="3.1"/></g><g class="c36"><circle cx="575.3" cy="344.9" r="3.1"/></g><g class="c33"><circle cx="592.9" cy="339.1" r="3.1"/></g><g class="c32"><circle cx="602.3" cy="336.7" r="3.1"/><circle cx="709.2" cy="336.6" r="3.1"/></g><g class="c36"><circle cx="559" cy="345.1" r="3.1"/></g><g class="c6"><circle cx="628.6" cy="270.8" r="3.1"/></g><g class="c35"><circle cx="580.2" cy="343.6" r="3.1"/></g><g class="c33"><circle cx="504.3" cy="338.3" r="3.1"/><circle cx="596.4" cy="337.3" r="3.1"/></g><g class="c36"><circle cx="535.6" cy="344.7" r="3.1"/></g><g class="c33"><circle cx="485.5" cy="338" r="3.1"/></g><g class="c32"><circle cx="770.9" cy="335.6" r="3.1"/></g><g class="c33"><circle cx="753" cy="338.7" r="3.1"/></g><g class="c35"><circle cx="552.4" cy="344.3" r="3.1"/></g><g class="c10"><circle cx="648.2" cy="282.4" r="3.1"/></g><g class="c6"><circle cx="639" cy="271" r="3.1"/></g><g class="c35"><circle cx="584" cy="343.5" r="3.1"/></g><g class="c32"><circle cx="604.9" cy="336.3" r="3.1"/></g><g class="c36"><circle cx="574.7" cy="345.4" r="3.1"/></g><g class="c33"><circle cx="598.8" cy="338.8" r="3.1"/></g><g class="c34"><circle cx="515.3" cy="340.9" r="3.1"/></g><g class="c5"><circle cx="612.7" cy="270" r="3.1"/></g><g class="c27"><circle cx="484.4" cy="323" r="3.1"/></g><g class="c32"><circle cx="599.4" cy="336" r="3.1"/></g><g class="c37"><circle cx="541" cy="347.8" r="3.1"/></g><g class="c34"><circle cx="591.7" cy="340.8" r="3.1"/></g><g class="c32"><circle cx="485.5" cy="336.3" r="3.1"/></g><g class="c34"><circle cx="686.7" cy="341.3" r="3.1"/></g><g class="c5"><circle cx="648.3" cy="268.8" r="3.1"/></g><g class="c28"><circle cx="787.2" cy="326.1" r="3.1"/></g><g class="c36"><circle cx="573" cy="347" r="3.1"/></g><g class="c33"><circle cx="739.7" cy="340" r="3.1"/></g><g class="c34"><circle cx="587.6" cy="342" r="3.1"/></g><g class="c36"><circle cx="578.2" cy="345.5" r="3.1"/></g><g class="c10"><circle cx="621.1" cy="283.4" r="3.1"/></g><g class="c36"><circle cx="550" cy="345.3" r="3.1"/></g><g class="c26"><circle cx="484.3" cy="321.3" r="3.1"/></g><g class="c5"><circle cx="632.4" cy="270.1" r="3.1"/></g><g class="c4"><circle cx="618.7" cy="268.9" r="3.1"/></g><g class="c6"><circle cx="616.5" cy="271.8" r="3.1"/></g><g class="c35"><circle cx="523.2" cy="343.6" r="3.1"/></g><g class="c33"><circle cx="594.9" cy="339.8" r="3.1"/></g><g class="c34"><circle cx="513" cy="340.8" r="3.1"/></g><g class="c35"><circle cx="556.7" cy="345.3" r="3.1"/><circle cx="533.3" cy="344" r="3.1"/></g><g class="c36"><circle cx="567.1" cy="347.7" r="3.1"/></g><g class="c35"><circle cx="582.4" cy="344.8" r="3.1"/></g><g class="c36"><circle cx="540" cy="347.1" r="3.1"/></g><g class="c11"><circle cx="609.7" cy="285.8" r="3.1"/></g><g class="c36"><circle cx="548.1" cy="347.1" r="3.1"/></g></g><g fill-opacity=".77" stroke-opacity=".77"><g class="c31"><circle cx="485.4" cy="334.1" r="3.1"/></g><g class="c10"><circle cx="629.6" cy="283" r="3.1"/></g><g class="c34"><circle cx="590.3" cy="343.1" r="3.1"/></g><g class="c32"><circle cx="606.6" cy="338.2" r="3.1"/></g><g class="c33"><circle cx="497.7" cy="339.4" r="3.1"/></g><g class="c32"><circle cx="779.1" cy="336.6" r="3.1"/></g><g class="c33"><circle cx="603.8" cy="338.5" r="3.1"/></g><g class="c32"><circle cx="757.7" cy="338" r="3.1"/></g><g class="c34"><circle cx="743.1" cy="340.9" r="3.1"/></g><g class="c32"><circle cx="609.2" cy="337.7" r="3.1"/></g><g class="c33"><circle cx="600.7" cy="339.2" r="3.1"/></g><g class="c5"><circle cx="647.5" cy="271.1" r="3.1"/></g><g class="c35"><circle cx="586.3" cy="343.7" r="3.1"/></g><g class="c36"><circle cx="581.5" cy="346" r="3.1"/></g><g class="c32"><circle cx="642.4" cy="338.4" r="3.1"/></g><g class="c5"><circle cx="635.7" cy="271.2" r="3.1"/></g><g class="c12"><circle cx="638.5" cy="287.9" r="3.1"/></g><g class="c25"><circle cx="484.2" cy="318.9" r="3.1"/></g><g class="c11"><circle cx="655.9" cy="287" r="3.1"/></g><g class="c33"><circle cx="785" cy="339.1" r="3.1"/></g><g class="c36"><circle cx="565.9" cy="348.1" r="3.1"/><circle cx="576.3" cy="347.2" r="3.1"/></g><g class="c34"><circle cx="596.9" cy="341.6" r="3.1"/></g><g class="c33"><circle cx="593.8" cy="341.1" r="3.1"/></g><g class="c36"><circle cx="554.6" cy="346.2" r="3.1"/></g><g class="c34"><circle cx="684.2" cy="343.5" r="3.1"/></g><g class="c35"><circle cx="530.4" cy="344.5" r="3.1"/></g><g class="c34"><circle cx="508.5" cy="341.8" r="3.1"/></g><g class="c36"><circle cx="537.8" cy="347.2" r="3.1"/></g><g class="c30"><circle cx="485.4" cy="331.7" r="3.1"/></g><g class="c36"><circle cx="560.2" cy="346.9" r="3.1"/></g><g class="c32"><circle cx="706.9" cy="338.2" r="3.1"/></g><g class="c37"><circle cx="544.6" cy="349.2" r="3.1"/></g><g class="c9"><circle cx="648" cy="281.5" r="3.1"/></g><g class="c33"><circle cx="649.3" cy="339.6" r="3.1"/></g><g class="c4"><circle cx="617.9" cy="269.2" r="3.1"/></g><g class="c34"><circle cx="519" cy="344.1" r="3.1"/></g><g class="c11"><circle cx="622.6" cy="285.5" r="3.1"/></g><g class="c33"><circle cx="596.7" cy="341.3" r="3.1"/><circle cx="599.8" cy="341.2" r="3.1"/></g><g class="c35"><circle cx="584.6" cy="346.1" r="3.1"/></g><g class="c4"><circle cx="640" cy="269.7" r="3.1"/></g><g class="c5"><circle cx="644.4" cy="271.1" r="3.1"/></g><g class="c32"><circle cx="762.9" cy="338.7" r="3.1"/></g><g class="c5"><circle cx="649.9" cy="271" r="3.1"/></g><g class="c33"><circle cx="746.2" cy="340.4" r="3.1"/></g><g class="c36"><circle cx="570.1" cy="348.1" r="3.1"/></g><g class="c9"><circle cx="629.9" cy="281.9" r="3.1"/></g><g class="c32"><circle cx="640.3" cy="339.2" r="3.1"/><circle cx="640.1" cy="338" r="3.1"/></g><g class="c29"><circle cx="485.3" cy="330.1" r="3.1"/></g><g class="c34"><circle cx="592.5" cy="343.5" r="3.1"/><circle cx="518.6" cy="343.2" r="3.1"/></g><g class="c33"><circle cx="608.5" cy="339.8" r="3.1"/></g><g class="c35"><circle cx="559.2" cy="346.6" r="3.1"/></g><g class="c38"><circle cx="702.5" cy="353.4" r="3.1"/></g><g class="c33"><circle cx="653.2" cy="339.8" r="3.1"/></g><g class="c11"><circle cx="611.6" cy="286" r="3.1"/></g><g class="c33"><circle cx="647" cy="341.6" r="3.1"/></g><g class="c36"><circle cx="574.4" cy="348.6" r="3.1"/></g><g class="c35"><circle cx="552.1" cy="346.9" r="3.1"/></g><g class="c36"><circle cx="579.2" cy="347.9" r="3.1"/></g><g class="c4"><circle cx="641.5" cy="269.4" r="3.1"/><circle cx="623.8" cy="270.8" r="3.1"/></g><g class="c5"><circle cx="649.3" cy="271.2" r="3.1"/></g><g class="c11"><circle cx="637.9" cy="287" r="3.1"/><circle cx="619.6" cy="288.1" r="3.1"/></g><g class="c36"><circle cx="542.8" cy="349.2" r="3.1"/></g><g class="c35"><circle cx="587.8" cy="345.8" r="3.1"/></g><g class="c32"><circle cx="643.7" cy="339.7" r="3.1"/></g><g class="c12"><circle cx="643.4" cy="290.5" r="3.1"/></g><g class="c33"><circle cx="632.4" cy="340.6" r="3.1"/></g><g class="c4"><circle cx="640.5" cy="270.6" r="3.1"/></g><g class="c5"><circle cx="613.5" cy="273.6" r="3.1"/></g><g class="c33"><circle cx="644.1" cy="341.4" r="3.1"/></g><g class="c28"><circle cx="485.3" cy="328.2" r="3.1"/></g><g class="c33"><circle cx="504.2" cy="341.9" r="3.1"/></g><g class="c34"><circle cx="736.5" cy="343.1" r="3.1"/></g><g class="c36"><circle cx="563.2" cy="348.6" r="3.1"/></g><g class="c35"><circle cx="583" cy="347.5" r="3.1"/></g><g class="c33"><circle cx="750.1" cy="341" r="3.1"/></g><g class="c6"><circle cx="621.4" cy="274" r="3.1"/></g><g class="c36"><circle cx="549.7" cy="349.2" r="3.1"/></g><g class="c33"><circle cx="638.1" cy="340.7" r="3.1"/></g><g class="c32"><circle cx="629.7" cy="340.4" r="3.1"/></g><g class="c36"><circle cx="578.3" cy="348.5" r="3.1"/></g><g class="c34"><circle cx="515.8" cy="343.3" r="3.1"/></g><g class="c33"><circle cx="486.7" cy="341.3" r="3.1"/><circle cx="635.3" cy="340.9" r="3.1"/></g><g class="c35"><circle cx="524.9" cy="345.9" r="3.1"/></g><g class="c12"><circle cx="608.7" cy="290.7" r="3.1"/></g><g class="c6"><circle cx="614.9" cy="274.8" r="3.1"/></g><g class="c35"><circle cx="533.6" cy="347.7" r="3.1"/></g><g class="c36"><circle cx="567.9" cy="349.2" r="3.1"/></g><g class="c35"><circle cx="556.9" cy="347.4" r="3.1"/></g><g class="c27"><circle cx="485.2" cy="326.3" r="3.1"/></g><g class="c32"><circle cx="770.1" cy="339.2" r="3.1"/><circle cx="704.4" cy="340.8" r="3.1"/></g><g class="c34"><circle cx="590.7" cy="345.7" r="3.1"/></g><g class="c36"><circle cx="572" cy="350.4" r="3.1"/></g><g class="c33"><circle cx="616.2" cy="341.7" r="3.1"/><circle cx="630" cy="341.8" r="3.1"/></g><g class="c35"><circle cx="532.4" cy="347.8" r="3.1"/></g><g class="c38"><circle cx="698.6" cy="355.6" r="3.1"/></g><g class="c32"><circle cx="486.7" cy="339" r="3.1"/></g><g class="c35"><circle cx="586.1" cy="347.5" r="3.1"/></g><g class="c33"><circle cx="499.8" cy="342.5" r="3.1"/></g><g class="c37"><circle cx="546.3" cy="351.6" r="3.1"/></g><g class="c33"><circle cx="740.1" cy="343.1" r="3.1"/></g><g class="c36"><circle cx="581.3" cy="349.1" r="3.1"/></g><g class="c33"><circle cx="627.3" cy="342.4" r="3.1"/></g><g class="c5"><circle cx="628.7" cy="273.4" r="3.1"/></g><g class="c35"><circle cx="562.1" cy="347.1" r="3.1"/></g><g class="c36"><circle cx="539.7" cy="349" r="3.1"/></g><g class="c9"><circle cx="654.1" cy="284.5" r="3.1"/></g><g class="c5"><circle cx="632.4" cy="273.8" r="3.1"/></g><g class="c33"><circle cx="641.9" cy="342.2" r="3.1"/></g><g class="c34"><circle cx="522.2" cy="346.2" r="3.1"/></g><g class="c15"><circle cx="614.2" cy="297.4" r="3.1"/></g><g class="c25"><circle cx="485.1" cy="323.9" r="3.1"/></g><g class="c31"><circle cx="486.6" cy="338" r="3.1"/></g><g class="c4"><circle cx="617.9" cy="271.5" r="3.1"/></g><g class="c35"><circle cx="593.5" cy="347" r="3.1"/></g><g class="c36"><circle cx="570.9" cy="351.1" r="3.1"/></g><g class="c9"><circle cx="641.8" cy="283.3" r="3.1"/></g><g class="c11"><circle cx="627.1" cy="287.7" r="3.1"/></g><g class="c33"><circle cx="756.6" cy="341.9" r="3.1"/></g><g class="c6"><circle cx="621.2" cy="275.6" r="3.1"/></g><g class="c7"><circle cx="645.5" cy="279.8" r="3.1"/></g><g class="c28"><circle cx="785.3" cy="329.6" r="3.1"/></g><g class="c36"><circle cx="575.5" cy="351.3" r="3.1"/><circle cx="553.6" cy="349.8" r="3.1"/></g><g class="c34"><circle cx="510" cy="345.1" r="3.1"/></g><g class="c33"><circle cx="618.8" cy="343.1" r="3.1"/></g><g class="c32"><circle cx="775.8" cy="340.3" r="3.1"/></g><g class="c34"><circle cx="600.4" cy="346" r="3.1"/><circle cx="521.2" cy="345.8" r="3.1"/></g><g class="c25"><circle cx="485.1" cy="322.6" r="3.1"/></g><g class="c36"><circle cx="544.7" cy="351.7" r="3.1"/></g><g class="c33"><circle cx="743.6" cy="343.9" r="3.1"/><circle cx="636.2" cy="343.1" r="3.1"/><circle cx="639.3" cy="343.3" r="3.1"/></g><g class="c36"><circle cx="579.8" cy="350.6" r="3.1"/></g><g class="c33"><circle cx="782.6" cy="344" r="3.1"/><circle cx="633.3" cy="343.2" r="3.1"/></g><g class="c5"><circle cx="635.1" cy="274.3" r="3.1"/></g><g class="c9"><circle cx="651.2" cy="285.4" r="3.1"/></g><g class="c33"><circle cx="630.4" cy="343.3" r="3.1"/></g><g class="c36"><circle cx="551.7" cy="351.3" r="3.1"/></g><g class="c30"><circle cx="486.6" cy="335.4" r="3.1"/></g><g class="c35"><circle cx="564.8" cy="349.9" r="3.1"/></g><g class="c33"><circle cx="615.8" cy="343.9" r="3.1"/></g><g class="c9"><circle cx="639.7" cy="285.6" r="3.1"/></g><g class="c33"><circle cx="612.9" cy="343.2" r="3.1"/></g><g class="c35"><circle cx="588.6" cy="348.4" r="3.1"/></g><g class="c5"><circle cx="643.5" cy="274.4" r="3.1"/></g><g class="c33"><circle cx="633.5" cy="344.7" r="3.1"/></g><g class="c36"><circle cx="536.3" cy="350.4" r="3.1"/></g><g class="c35"><circle cx="596.1" cy="347.9" r="3.1"/></g><g class="c34"><circle cx="609.7" cy="345.5" r="3.1"/></g><g class="c35"><circle cx="584.2" cy="349.3" r="3.1"/><circle cx="558.9" cy="349.3" r="3.1"/></g><g class="c34"><circle cx="603.1" cy="346.8" r="3.1"/></g><g class="c33"><circle cx="627.5" cy="344.3" r="3.1"/></g><g class="c5"><circle cx="651" cy="273.8" r="3.1"/></g><g class="c32"><circle cx="761.1" cy="342.6" r="3.1"/></g><g class="c35"><circle cx="564.7" cy="349.4" r="3.1"/></g><g class="c6"><circle cx="622.4" cy="276.3" r="3.1"/></g><g class="c33"><circle cx="612.7" cy="344.9" r="3.1"/></g><g class="c32"><circle cx="701.7" cy="342.5" r="3.1"/></g><g class="c33"><circle cx="636.7" cy="344.7" r="3.1"/></g><g class="c36"><circle cx="549.9" cy="352.8" r="3.1"/></g><g class="c9"><circle cx="622.2" cy="285.1" r="3.1"/></g><g class="c14"><circle cx="633.5" cy="298.4" r="3.1"/></g><g class="c10"><circle cx="618.1" cy="286.6" r="3.1"/></g><g class="c35"><circle cx="587.7" cy="350.1" r="3.1"/><circle cx="599.3" cy="348.1" r="3.1"/></g><g class="c5"><circle cx="647.8" cy="275.8" r="3.1"/></g><g class="c34"><circle cx="615.6" cy="345.8" r="3.1"/></g><g class="c29"><circle cx="486.5" cy="333.4" r="3.1"/></g><g class="c34"><circle cx="602.8" cy="347.3" r="3.1"/><circle cx="505.7" cy="345.6" r="3.1"/><circle cx="612.4" cy="347.1" r="3.1"/></g><g class="c35"><circle cx="527" cy="348.3" r="3.1"/></g><g class="c34"><circle cx="517.2" cy="346.7" r="3.1"/></g><g class="c5"><circle cx="646.6" cy="276.1" r="3.1"/></g><g class="c4"><circle cx="640.1" cy="273.5" r="3.1"/></g><g class="c14"><circle cx="637.1" cy="298.2" r="3.1"/></g><g class="c34"><circle cx="675.9" cy="346.8" r="3.1"/></g><g class="c33"><circle cx="630.8" cy="345.7" r="3.1"/></g><g class="c5"><circle cx="644.2" cy="276.7" r="3.1"/></g><g class="c11"><circle cx="616.4" cy="291.6" r="3.1"/><circle cx="630.8" cy="290.2" r="3.1"/></g><g class="c36"><circle cx="577.9" cy="352.4" r="3.1"/></g><g class="c33"><circle cx="640.2" cy="345.2" r="3.1"/></g><g class="c35"><circle cx="534.5" cy="349.8" r="3.1"/></g><g class="c34"><circle cx="640.5" cy="346.6" r="3.1"/></g><g class="c33"><circle cx="748.3" cy="343.9" r="3.1"/></g><g class="c34"><circle cx="605.9" cy="347.5" r="3.1"/></g><g class="c33"><circle cx="621.6" cy="345.3" r="3.1"/></g><g class="c28"><circle cx="486.5" cy="331.8" r="3.1"/></g><g class="c36"><circle cx="572.8" cy="352.6" r="3.1"/></g><g class="c5"><circle cx="624.3" cy="276" r="3.1"/></g><g class="c35"><circle cx="556.9" cy="350.3" r="3.1"/></g><g class="c5"><circle cx="625.7" cy="275.4" r="3.1"/></g><g class="c34"><circle cx="609.2" cy="346.5" r="3.1"/></g><g class="c35"><circle cx="598.7" cy="349.4" r="3.1"/></g><g class="c5"><circle cx="648.5" cy="276.6" r="3.1"/><circle cx="629.2" cy="276.3" r="3.1"/><circle cx="635.6" cy="276.2" r="3.1"/></g><g class="c33"><circle cx="488.3" cy="345.2" r="3.1"/></g><g class="c35"><circle cx="568" cy="350.9" r="3.1"/></g><g class="c39"><circle cx="690.8" cy="359.5" r="3.1"/></g><g class="c35"><circle cx="562.4" cy="350.7" r="3.1"/></g><g class="c6"><circle cx="635.7" cy="277.8" r="3.1"/></g><g class="c27"><circle cx="486.4" cy="330.4" r="3.1"/></g><g class="c33"><circle cx="627.8" cy="345.7" r="3.1"/></g><g class="c10"><circle cx="638.9" cy="289.1" r="3.1"/></g><g class="c34"><circle cx="524.5" cy="348.6" r="3.1"/></g><g class="c4"><circle cx="645.5" cy="274.7" r="3.1"/><circle cx="619.6" cy="273.3" r="3.1"/></g><g class="c13"><circle cx="636.4" cy="296.3" r="3.1"/><circle cx="652.4" cy="296" r="3.1"/></g><g class="c35"><circle cx="541" cy="351.1" r="3.1"/></g><g class="c9"><circle cx="632.5" cy="285.8" r="3.1"/></g><g class="c12"><circle cx="644.4" cy="292.9" r="3.1"/></g><g class="c36"><circle cx="576.9" cy="352.8" r="3.1"/><circle cx="581.5" cy="352.8" r="3.1"/></g><g class="c38"><circle cx="694.7" cy="356.7" r="3.1"/></g><g class="c32"><circle cx="768.4" cy="343.5" r="3.1"/></g><g class="c4"><circle cx="623.4" cy="274.5" r="3.1"/></g><g class="c33"><circle cx="637.5" cy="346.8" r="3.1"/></g><g class="c34"><circle cx="615.3" cy="347.7" r="3.1"/></g><g class="c33"><circle cx="752.7" cy="345.4" r="3.1"/></g><g class="c36"><circle cx="585.9" cy="352.1" r="3.1"/></g><g class="c34"><circle cx="672.8" cy="348.7" r="3.1"/></g><g class="c33"><circle cx="500.6" cy="346.3" r="3.1"/></g><g class="c36"><circle cx="571.8" cy="352.3" r="3.1"/></g><g class="c32"><circle cx="720.6" cy="342.8" r="3.1"/></g><g class="c4"><circle cx="630.5" cy="274.3" r="3.1"/></g><g class="c12"><circle cx="611.4" cy="294.6" r="3.1"/></g><g class="c34"><circle cx="624.8" cy="347.8" r="3.1"/></g><g class="c4"><circle cx="652.1" cy="275.5" r="3.1"/></g><g class="c34"><circle cx="512.4" cy="347.8" r="3.1"/></g><g class="c33"><circle cx="618.5" cy="347.1" r="3.1"/></g><g class="c4"><circle cx="613.8" cy="273.8" r="3.1"/></g><g class="c36"><circle cx="553.9" cy="352.7" r="3.1"/></g><g class="c32"><circle cx="488.2" cy="342.4" r="3.1"/></g><g class="c15"><circle cx="657.6" cy="301.9" r="3.1"/></g><g class="c4"><circle cx="630.3" cy="274.8" r="3.1"/></g><g class="c35"><circle cx="566.4" cy="351.8" r="3.1"/><circle cx="601.5" cy="349.9" r="3.1"/></g><g class="c34"><circle cx="611.8" cy="349.4" r="3.1"/></g><g class="c5"><circle cx="632.6" cy="276.2" r="3.1"/></g><g class="c36"><circle cx="546.2" cy="353.2" r="3.1"/></g><g class="c26"><circle cx="486.4" cy="327.7" r="3.1"/></g><g class="c33"><circle cx="628" cy="346.9" r="3.1"/></g><g class="c6"><circle cx="633" cy="278.6" r="3.1"/></g><g class="c4"><circle cx="649.2" cy="274.7" r="3.1"/></g><g class="c7"><circle cx="644.8" cy="281.5" r="3.1"/></g><g class="c34"><circle cx="615.1" cy="348.8" r="3.1"/></g><g class="c35"><circle cx="589.6" cy="352.2" r="3.1"/></g><g class="c34"><circle cx="621.6" cy="348.5" r="3.1"/></g><g class="c5"><circle cx="620.1" cy="277.8" r="3.1"/></g><g class="c34"><circle cx="521.1" cy="349.6" r="3.1"/><circle cx="638.1" cy="348.6" r="3.1"/></g><g class="c35"><circle cx="538.6" cy="351.7" r="3.1"/><circle cx="559.6" cy="352.5" r="3.1"/></g><g class="c31"><circle cx="488.2" cy="340.8" r="3.1"/></g><g class="c4"><circle cx="640.1" cy="275.3" r="3.1"/></g><g class="c27"><circle cx="607.8" cy="332" r="3.1"/></g><g class="c34"><circle cx="641.5" cy="348.1" r="3.1"/></g><g class="c38"><circle cx="686.9" cy="359.8" r="3.1"/></g><g class="c25"><circle cx="486.3" cy="326.2" r="3.1"/></g><g class="c36"><circle cx="551.5" cy="355.2" r="3.1"/></g><g class="c15"><circle cx="602.4" cy="302.5" r="3.1"/></g><g class="c35"><circle cx="597.4" cy="350.9" r="3.1"/></g><g class="c28"><circle cx="782.9" cy="334.2" r="3.1"/></g><g class="c10"><circle cx="625.9" cy="289.1" r="3.1"/></g><g class="c35"><circle cx="529.3" cy="351" r="3.1"/></g><g class="c34"><circle cx="641.8" cy="349.4" r="3.1"/></g><g class="c30"><circle cx="488.1" cy="339.5" r="3.1"/></g><g class="c32"><circle cx="775.3" cy="345.1" r="3.1"/></g><g class="c34"><circle cx="669.6" cy="349.6" r="3.1"/></g><g class="c14"><circle cx="602.6" cy="300" r="3.1"/></g><g class="c10"><circle cx="606.7" cy="291" r="3.1"/></g><g class="c33"><circle cx="757.7" cy="346" r="3.1"/></g><g class="c34"><circle cx="631.6" cy="350.2" r="3.1"/></g><g class="c14"><circle cx="602.9" cy="300.6" r="3.1"/></g><g class="c18"><circle cx="655.3" cy="309.2" r="3.1"/></g><g class="c34"><circle cx="508.3" cy="348.6" r="3.1"/></g><g class="c4"><circle cx="636.8" cy="276.4" r="3.1"/></g><g class="c34"><circle cx="621.6" cy="350.1" r="3.1"/></g><g class="c35"><circle cx="600.7" cy="351.7" r="3.1"/></g><g class="c5"><circle cx="632" cy="278.3" r="3.1"/></g><g class="c34"><circle cx="604.4" cy="350.6" r="3.1"/></g><g class="c36"><circle cx="574.7" cy="353.7" r="3.1"/></g><g class="c34"><circle cx="611.4" cy="350.6" r="3.1"/><circle cx="618.2" cy="350.6" r="3.1"/></g><g class="c36"><circle cx="557.4" cy="354.3" r="3.1"/></g><g class="c35"><circle cx="564.3" cy="352.5" r="3.1"/></g><g class="c34"><circle cx="518.1" cy="350.4" r="3.1"/></g><g class="c35"><circle cx="543.9" cy="353.3" r="3.1"/><circle cx="536.5" cy="351.9" r="3.1"/></g><g class="c36"><circle cx="550.4" cy="354.8" r="3.1"/></g><g class="c34"><circle cx="624.9" cy="350.1" r="3.1"/></g><g class="c33"><circle cx="779.9" cy="347.2" r="3.1"/></g><g class="c35"><circle cx="588.3" cy="353.5" r="3.1"/></g><g class="c5"><circle cx="640.6" cy="279.2" r="3.1"/></g><g class="c10"><circle cx="633.2" cy="289.9" r="3.1"/></g><g class="c36"><circle cx="583.7" cy="354.2" r="3.1"/></g><g class="c29"><circle cx="488.1" cy="337.1" r="3.1"/></g><g class="c36"><circle cx="578.8" cy="354.6" r="3.1"/></g><g class="c5"><circle cx="619.8" cy="278.2" r="3.1"/></g><g class="c32"><circle cx="695.7" cy="346.4" r="3.1"/></g><g class="c35"><circle cx="604.1" cy="351.9" r="3.1"/></g><g class="c34"><circle cx="527" cy="351.3" r="3.1"/></g><g class="c35"><circle cx="568.9" cy="353.5" r="3.1"/></g><g class="c34"><circle cx="614.7" cy="351.3" r="3.1"/></g><g class="c36"><circle cx="592" cy="354.4" r="3.1"/></g><g class="c5"><circle cx="630.2" cy="278.1" r="3.1"/></g><g class="c32"><circle cx="717.6" cy="345.8" r="3.1"/></g><g class="c34"><circle cx="638.9" cy="350.5" r="3.1"/></g><g class="c31"><circle cx="740.1" cy="344.4" r="3.1"/></g><g class="c7"><circle cx="641.4" cy="283.8" r="3.1"/></g><g class="c28"><circle cx="488" cy="335.8" r="3.1"/></g><g class="c35"><circle cx="596" cy="353.6" r="3.1"/></g><g class="c34"><circle cx="628.4" cy="350.6" r="3.1"/><circle cx="635.5" cy="350.9" r="3.1"/></g><g class="c4"><circle cx="627.3" cy="277.3" r="3.1"/></g><g class="c34"><circle cx="618.1" cy="351.3" r="3.1"/></g><g class="c35"><circle cx="625" cy="352.3" r="3.1"/><circle cx="562.5" cy="353.9" r="3.1"/></g><g class="c15"><circle cx="655.3" cy="303.4" r="3.1"/></g><g class="c33"><circle cx="764" cy="347.7" r="3.1"/></g><g class="c35"><circle cx="533.9" cy="352.8" r="3.1"/></g><g class="c34"><circle cx="621.6" cy="351.6" r="3.1"/></g><g class="c5"><circle cx="634.7" cy="280.4" r="3.1"/></g><g class="c6"><circle cx="648.4" cy="280.9" r="3.1"/></g><g class="c36"><circle cx="554.9" cy="356.2" r="3.1"/></g><g class="c35"><circle cx="573.2" cy="354.1" r="3.1"/></g><g class="c14"><circle cx="630.4" cy="301.2" r="3.1"/></g><g class="c12"><circle cx="604.7" cy="297.5" r="3.1"/></g><g class="c8"><circle cx="637.2" cy="286.3" r="3.1"/></g><g class="c5"><circle cx="644.9" cy="278.7" r="3.1"/></g><g class="c35"><circle cx="582.7" cy="354.6" r="3.1"/></g><g class="c33"><circle cx="503" cy="350" r="3.1"/><circle cx="490.2" cy="348.1" r="3.1"/></g><g class="c6"><circle cx="640.8" cy="281.6" r="3.1"/></g><g class="c27"><circle cx="488" cy="333.9" r="3.1"/></g><g class="c35"><circle cx="540.8" cy="354.7" r="3.1"/></g><g class="c5"><circle cx="643.1" cy="279.1" r="3.1"/></g><g class="c35"><circle cx="577.9" cy="354.4" r="3.1"/></g><g class="c34"><circle cx="514.8" cy="350.4" r="3.1"/></g><g class="c35"><circle cx="599.6" cy="354" r="3.1"/></g><g class="c34"><circle cx="643.1" cy="352" r="3.1"/></g><g class="c35"><circle cx="567.4" cy="354.3" r="3.1"/></g><g class="c4"><circle cx="621.1" cy="277.7" r="3.1"/></g><g class="c35"><circle cx="586.9" cy="355.1" r="3.1"/></g><g class="c34"><circle cx="524.1" cy="351.9" r="3.1"/></g><g class="c4"><circle cx="624.9" cy="277.7" r="3.1"/></g><g class="c14"><circle cx="633.7" cy="302" r="3.1"/></g><g class="c10"><circle cx="634.5" cy="293.1" r="3.1"/></g><g class="c34"><circle cx="618" cy="352.8" r="3.1"/></g><g class="c35"><circle cx="607.2" cy="353" r="3.1"/></g><g class="c38"><circle cx="683" cy="361.3" r="3.1"/></g><g class="c34"><circle cx="614.4" cy="352.6" r="3.1"/></g><g class="c14"><circle cx="603.4" cy="303" r="3.1"/></g><g class="c32"><circle cx="490.1" cy="346.4" r="3.1"/></g><g class="c5"><circle cx="635.1" cy="281.2" r="3.1"/></g><g class="c26"><circle cx="487.9" cy="332.1" r="3.1"/></g><g class="c35"><circle cx="595.2" cy="354.7" r="3.1"/></g><g class="c4"><circle cx="627.9" cy="278.2" r="3.1"/></g><g class="c34"><circle cx="662.9" cy="350.9" r="3.1"/></g><g class="c5"><circle cx="629.7" cy="279.8" r="3.1"/></g><g class="c35"><circle cx="603.2" cy="353.5" r="3.1"/><circle cx="610.7" cy="353.6" r="3.1"/></g><g class="c34"><circle cx="636" cy="352.5" r="3.1"/></g><g class="c32"><circle cx="692.4" cy="348.1" r="3.1"/></g><g class="c12"><circle cx="661.6" cy="297.7" r="3.1"/></g><g class="c13"><circle cx="620.2" cy="300.6" r="3.1"/></g><g class="c12"><circle cx="648.1" cy="296.7" r="3.1"/></g><g class="c34"><circle cx="621.5" cy="352.9" r="3.1"/><circle cx="639.8" cy="352.6" r="3.1"/></g><g class="c36"><circle cx="552.9" cy="357.2" r="3.1"/></g><g class="c35"><circle cx="539.2" cy="354.5" r="3.1"/><circle cx="546.3" cy="355.8" r="3.1"/></g><g class="c34"><circle cx="632.3" cy="352.2" r="3.1"/></g><g class="c36"><circle cx="559.7" cy="356.2" r="3.1"/></g><g class="c9"><circle cx="632.6" cy="290.6" r="3.1"/></g><g class="c34"><circle cx="511.6" cy="351.7" r="3.1"/></g><g class="c10"><circle cx="621.7" cy="292.3" r="3.1"/></g><g class="c35"><circle cx="586" cy="356" r="3.1"/><circle cx="598.8" cy="355.7" r="3.1"/><circle cx="565.9" cy="355.4" r="3.1"/><circle cx="530.6" cy="354" r="3.1"/></g><g class="c12"><circle cx="607.8" cy="298.7" r="3.1"/></g><g class="c14"><circle cx="627.8" cy="301.8" r="3.1"/></g><g class="c31"><circle cx="490.1" cy="344.5" r="3.1"/></g><g class="c25"><circle cx="487.9" cy="330.4" r="3.1"/></g><g class="c15"><circle cx="620.8" cy="306" r="3.1"/></g><g class="c16"><circle cx="609.9" cy="307.1" r="3.1"/></g><g class="c5"><circle cx="630.8" cy="280.3" r="3.1"/></g><g class="c36"><circle cx="558.4" cy="358.4" r="3.1"/></g><g class="c34"><circle cx="521.5" cy="352.3" r="3.1"/></g><g class="c32"><circle cx="714.3" cy="348.4" r="3.1"/></g><g class="c35"><circle cx="581.2" cy="355.3" r="3.1"/><circle cx="606.6" cy="354.8" r="3.1"/></g><g class="c8"><circle cx="655" cy="289.4" r="3.1"/></g><g class="c30"><circle cx="490" cy="343.3" r="3.1"/></g><g class="c38"><circle cx="679.1" cy="361.7" r="3.1"/></g><g class="c32"><circle cx="769.9" cy="347.4" r="3.1"/></g><g class="c17"><circle cx="638.9" cy="310" r="3.1"/></g><g class="c35"><circle cx="570.8" cy="355.5" r="3.1"/><circle cx="545.2" cy="355.8" r="3.1"/></g></g><g fill-opacity=".81" stroke-opacity=".81"><g class="c34"><circle cx="644.2" cy="353.9" r="3.1"/><circle cx="628.8" cy="352.9" r="3.1"/></g><g class="c28"><circle cx="780.2" cy="338.2" r="3.1"/></g><g class="c14"><circle cx="620.1" cy="303.7" r="3.1"/></g><g class="c35"><circle cx="594.3" cy="355.8" r="3.1"/></g><g class="c36"><circle cx="564.3" cy="357.5" r="3.1"/></g><g class="c34"><circle cx="625.2" cy="353.5" r="3.1"/></g><g class="c10"><circle cx="607.4" cy="294.5" r="3.1"/></g><g class="c16"><circle cx="615.2" cy="308.4" r="3.1"/></g><g class="c33"><circle cx="659.3" cy="351" r="3.1"/></g><g class="c35"><circle cx="617.8" cy="354.8" r="3.1"/></g><g class="c34"><circle cx="640.3" cy="353.4" r="3.1"/></g><g class="c35"><circle cx="575.6" cy="355.9" r="3.1"/><circle cx="589.6" cy="356.8" r="3.1"/><circle cx="598.3" cy="356" r="3.1"/><circle cx="610.2" cy="355.2" r="3.1"/></g><g class="c39"><circle cx="675.2" cy="365.2" r="3.1"/></g><g class="c34"><circle cx="636.5" cy="353.6" r="3.1"/></g><g class="c36"><circle cx="550.9" cy="357.4" r="3.1"/></g><g class="c35"><circle cx="536.6" cy="355.3" r="3.1"/></g><g class="c10"><circle cx="646.7" cy="294" r="3.1"/></g><g class="c17"><circle cx="656" cy="310.3" r="3.1"/></g><g class="c29"><circle cx="490" cy="341" r="3.1"/></g><g class="c15"><circle cx="623.2" cy="306.5" r="3.1"/></g><g class="c31"><circle cx="736.9" cy="346.6" r="3.1"/></g><g class="c34"><circle cx="614" cy="354.4" r="3.1"/><circle cx="632.8" cy="354.3" r="3.1"/></g><g class="c32"><circle cx="689" cy="349.7" r="3.1"/></g><g class="c10"><circle cx="627.1" cy="293.6" r="3.1"/></g><g class="c34"><circle cx="629" cy="354.4" r="3.1"/><circle cx="517.7" cy="353.7" r="3.1"/></g><g class="c4"><circle cx="621.4" cy="280" r="3.1"/></g><g class="c34"><circle cx="527.2" cy="354.6" r="3.1"/></g><g class="c8"><circle cx="631.5" cy="290.5" r="3.1"/></g><g class="c35"><circle cx="584.6" cy="356.9" r="3.1"/></g><g class="c33"><circle cx="655.7" cy="351.9" r="3.1"/><circle cx="776.8" cy="350.5" r="3.1"/></g><g class="c35"><circle cx="569.2" cy="356.8" r="3.1"/></g><g class="c34"><circle cx="625.3" cy="355.1" r="3.1"/><circle cx="621.5" cy="355.1" r="3.1"/></g><g class="c8"><circle cx="647.9" cy="290.9" r="3.1"/></g><g class="c33"><circle cx="505.8" cy="352.9" r="3.1"/></g><g class="c35"><circle cx="579.6" cy="356.5" r="3.1"/></g><g class="c28"><circle cx="489.9" cy="338.8" r="3.1"/></g><g class="c12"><circle cx="652.8" cy="299.3" r="3.1"/></g><g class="c33"><circle cx="492.4" cy="352.1" r="3.1"/></g><g class="c31"><circle cx="757.9" cy="347.4" r="3.1"/></g><g class="c35"><circle cx="593.1" cy="357.7" r="3.1"/></g><g class="c18"><circle cx="619.4" cy="314.1" r="3.1"/></g><g class="c36"><circle cx="555.4" cy="359.3" r="3.1"/></g><g class="c10"><circle cx="631.6" cy="296.2" r="3.1"/></g><g class="c4"><circle cx="632.9" cy="279.8" r="3.1"/></g><g class="c35"><circle cx="524.9" cy="356" r="3.1"/></g><g class="c4"><circle cx="640" cy="280.5" r="3.1"/></g><g class="c33"><circle cx="492.4" cy="351.4" r="3.1"/></g><g class="c6"><circle cx="614.1" cy="284.5" r="3.1"/></g><g class="c4"><circle cx="615.9" cy="280.1" r="3.1"/></g><g class="c12"><circle cx="658.8" cy="300.6" r="3.1"/></g><g class="c15"><circle cx="600.3" cy="306.6" r="3.1"/></g><g class="c13"><circle cx="663" cy="303.4" r="3.1"/></g><g class="c35"><circle cx="573.7" cy="356.9" r="3.1"/></g><g class="c27"><circle cx="489.9" cy="337" r="3.1"/></g><g class="c16"><circle cx="634.7" cy="310" r="3.1"/></g><g class="c35"><circle cx="597.1" cy="358.4" r="3.1"/></g><g class="c18"><circle cx="661.1" cy="315.4" r="3.1"/></g><g class="c19"><circle cx="654.3" cy="316.9" r="3.1"/></g><g class="c36"><circle cx="561" cy="359.8" r="3.1"/></g><g class="c13"><circle cx="630.3" cy="304.1" r="3.1"/></g><g class="c35"><circle cx="541" cy="357.2" r="3.1"/></g><g class="c32"><circle cx="710.9" cy="349.7" r="3.1"/></g><g class="c35"><circle cx="532.7" cy="356.6" r="3.1"/></g><g class="c15"><circle cx="605.3" cy="307.6" r="3.1"/></g><g class="c18"><circle cx="636.2" cy="314.8" r="3.1"/></g><g class="c26"><circle cx="489.8" cy="335.7" r="3.1"/></g><g class="c32"><circle cx="685.3" cy="351.3" r="3.1"/></g><g class="c35"><circle cx="588.1" cy="357.5" r="3.1"/></g><g class="c12"><circle cx="605.2" cy="300" r="3.1"/></g><g class="c34"><circle cx="513.6" cy="355" r="3.1"/></g><g class="c18"><circle cx="658.9" cy="317" r="3.1"/></g><g class="c38"><circle cx="671.3" cy="366.3" r="3.1"/></g><g class="c35"><circle cx="547.8" cy="357.9" r="3.1"/></g><g class="c13"><circle cx="624.3" cy="303.9" r="3.1"/></g><g class="c31"><circle cx="492.4" cy="349.1" r="3.1"/></g><g class="c18"><circle cx="616.7" cy="315.8" r="3.1"/></g><g class="c36"><circle cx="566.7" cy="359.4" r="3.1"/></g><g class="c35"><circle cx="572.4" cy="359.1" r="3.1"/></g><g class="c15"><circle cx="626.3" cy="308.1" r="3.1"/></g><g class="c12"><circle cx="646.2" cy="301.6" r="3.1"/><circle cx="620.8" cy="300.5" r="3.1"/></g><g class="c16"><circle cx="662.2" cy="311" r="3.1"/></g><g class="c17"><circle cx="628.3" cy="313" r="3.1"/></g><g class="c35"><circle cx="592.1" cy="358.3" r="3.1"/></g><g class="c12"><circle cx="609.1" cy="302.5" r="3.1"/></g><g class="c25"><circle cx="489.8" cy="333.5" r="3.1"/></g><g class="c10"><circle cx="628.6" cy="295.4" r="3.1"/></g><g class="c16"><circle cx="649.2" cy="310.6" r="3.1"/></g><g class="c30"><circle cx="492.3" cy="347.2" r="3.1"/></g><g class="c35"><circle cx="582.6" cy="358.2" r="3.1"/><circle cx="577.2" cy="359.4" r="3.1"/><circle cx="539.1" cy="357.8" r="3.1"/></g><g class="c12"><circle cx="653.4" cy="302.3" r="3.1"/></g><g class="c36"><circle cx="552.8" cy="360.3" r="3.1"/></g><g class="c19"><circle cx="624.1" cy="318.1" r="3.1"/></g><g class="c34"><circle cx="530.4" cy="357.5" r="3.1"/></g><g class="c18"><circle cx="612.1" cy="316" r="3.1"/></g><g class="c24"><circle cx="602.7" cy="330.7" r="3.1"/></g><g class="c39"><circle cx="667.4" cy="368.3" r="3.1"/></g><g class="c21"><circle cx="629.7" cy="323.2" r="3.1"/></g><g class="c35"><circle cx="587.2" cy="358.5" r="3.1"/></g><g class="c11"><circle cx="614.4" cy="299.2" r="3.1"/></g><g class="c10"><circle cx="653.9" cy="296.4" r="3.1"/></g><g class="c27"><circle cx="670.8" cy="339.9" r="3.1"/></g><g class="c12"><circle cx="618" cy="300.7" r="3.1"/></g><g class="c30"><circle cx="492.3" cy="346.2" r="3.1"/></g><g class="c16"><circle cx="600.9" cy="311.7" r="3.1"/></g><g class="c13"><circle cx="606.6" cy="303.4" r="3.1"/></g><g class="c35"><circle cx="558.9" cy="360.3" r="3.1"/></g><g class="c28"><circle cx="777" cy="342.1" r="3.1"/></g><g class="c26"><circle cx="620.5" cy="337.5" r="3.1"/></g><g class="c16"><circle cx="662.3" cy="311.2" r="3.1"/></g><g class="c36"><circle cx="564.4" cy="361.9" r="3.1"/></g><g class="c34"><circle cx="520.2" cy="356.5" r="3.1"/></g><g class="c15"><circle cx="648.2" cy="309.4" r="3.1"/><circle cx="611.2" cy="310.4" r="3.1"/></g><g class="c35"><circle cx="576.1" cy="360.5" r="3.1"/></g><g class="c32"><circle cx="681.5" cy="352.1" r="3.1"/></g><g class="c36"><circle cx="570.2" cy="361.5" r="3.1"/></g><g class="c35"><circle cx="595.9" cy="359" r="3.1"/><circle cx="544.7" cy="359.4" r="3.1"/><circle cx="537" cy="358.7" r="3.1"/></g><g class="c39"><circle cx="663.5" cy="369.7" r="3.1"/></g><g class="c35"><circle cx="581.4" cy="359.6" r="3.1"/></g><g class="c29"><circle cx="492.2" cy="343.9" r="3.1"/></g><g class="c34"><circle cx="528.4" cy="358" r="3.1"/></g><g class="c10"><circle cx="611.2" cy="298.6" r="3.1"/></g><g class="c32"><circle cx="707.1" cy="351.8" r="3.1"/></g><g class="c35"><circle cx="551.3" cy="360" r="3.1"/><circle cx="557.7" cy="360.9" r="3.1"/></g><g class="c27"><circle cx="646.4" cy="339" r="3.1"/></g><g class="c9"><circle cx="651" cy="296.6" r="3.1"/></g><g class="c35"><circle cx="590.9" cy="359.8" r="3.1"/></g><g class="c18"><circle cx="650.8" cy="316.9" r="3.1"/></g><g class="c27"><circle cx="594.9" cy="341.2" r="3.1"/></g><g class="c10"><circle cx="642.4" cy="299.2" r="3.1"/></g><g class="c33"><circle cx="495.1" cy="356.1" r="3.1"/></g><g class="c16"><circle cx="635.5" cy="312.7" r="3.1"/></g><g class="c36"><circle cx="563.4" cy="361.8" r="3.1"/></g><g class="c27"><circle cx="492.2" cy="341.8" r="3.1"/></g><g class="c31"><circle cx="754.4" cy="350" r="3.1"/></g><g class="c13"><circle cx="621.3" cy="306.7" r="3.1"/></g><g class="c36"><circle cx="568.8" cy="363.2" r="3.1"/></g><g class="c35"><circle cx="595.3" cy="360.1" r="3.1"/></g><g class="c13"><circle cx="612.5" cy="304.8" r="3.1"/></g><g class="c36"><circle cx="574.6" cy="362.6" r="3.1"/></g><g class="c35"><circle cx="585.7" cy="360.1" r="3.1"/></g><g class="c32"><circle cx="677.6" cy="354.3" r="3.1"/></g><g class="c16"><circle cx="653.1" cy="313.9" r="3.1"/></g><g class="c9"><circle cx="649.7" cy="296.5" r="3.1"/></g><g class="c32"><circle cx="495" cy="354.2" r="3.1"/></g><g class="c35"><circle cx="580.1" cy="361" r="3.1"/></g><g class="c27"><circle cx="492.1" cy="340" r="3.1"/></g><g class="c23"><circle cx="598.4" cy="331.8" r="3.1"/></g><g class="c16"><circle cx="643.9" cy="313.2" r="3.1"/></g><g class="c35"><circle cx="542" cy="360.6" r="3.1"/></g><g class="c34"><circle cx="515.7" cy="358.3" r="3.1"/></g><g class="c16"><circle cx="603.7" cy="314.8" r="3.1"/></g><g class="c17"><circle cx="599.3" cy="317.3" r="3.1"/></g><g class="c15"><circle cx="652.9" cy="312.4" r="3.1"/></g><g class="c19"><circle cx="605.6" cy="321.9" r="3.1"/></g><g class="c35"><circle cx="590" cy="361.3" r="3.1"/></g><g class="c13"><circle cx="664.6" cy="307.7" r="3.1"/></g><g class="c35"><circle cx="549.1" cy="360.8" r="3.1"/></g><g class="c31"><circle cx="729.7" cy="352.5" r="3.1"/></g><g class="c26"><circle cx="492.1" cy="338.5" r="3.1"/></g><g class="c31"><circle cx="495" cy="352.3" r="3.1"/></g><g class="c12"><circle cx="636.2" cy="303.9" r="3.1"/></g><g class="c18"><circle cx="600.5" cy="318.2" r="3.1"/></g><g class="c34"><circle cx="533.1" cy="359.8" r="3.1"/></g><g class="c16"><circle cx="616.2" cy="314.9" r="3.1"/></g><g class="c34"><circle cx="524.1" cy="359.2" r="3.1"/></g><g class="c17"><circle cx="634.5" cy="317" r="3.1"/></g><g class="c24"><circle cx="600.8" cy="334.1" r="3.1"/></g><g class="c15"><circle cx="657.6" cy="312.7" r="3.1"/></g><g class="c14"><circle cx="644.6" cy="308.9" r="3.1"/></g><g class="c35"><circle cx="554.9" cy="362.1" r="3.1"/></g><g class="c30"><circle cx="494.9" cy="350.8" r="3.1"/></g><g class="c36"><circle cx="567.2" cy="363.8" r="3.1"/></g><g class="c35"><circle cx="561.2" cy="363.1" r="3.1"/></g><g class="c32"><circle cx="673.5" cy="355.5" r="3.1"/></g><g class="c25"><circle cx="492" cy="336.8" r="3.1"/></g><g class="c11"><circle cx="657.3" cy="303" r="3.1"/></g><g class="c36"><circle cx="573" cy="363.8" r="3.1"/></g><g class="c35"><circle cx="578.8" cy="363" r="3.1"/></g><g class="c22"><circle cx="595.7" cy="328.9" r="3.1"/></g><g class="c34"><circle cx="540.1" cy="360.8" r="3.1"/></g><g class="c38"><circle cx="659.6" cy="369.7" r="3.1"/></g><g class="c18"><circle cx="643.7" cy="319.4" r="3.1"/></g><g class="c17"><circle cx="659.2" cy="318.8" r="3.1"/></g><g class="c30"><circle cx="494.9" cy="349.5" r="3.1"/></g><g class="c22"><circle cx="602.7" cy="330.4" r="3.1"/></g><g class="c7"><circle cx="630.2" cy="294.1" r="3.1"/></g><g class="c35"><circle cx="546.5" cy="363" r="3.1"/><circle cx="593.8" cy="362.3" r="3.1"/></g><g class="c34"><circle cx="530.6" cy="361" r="3.1"/></g><g class="c17"><circle cx="619.2" cy="317.6" r="3.1"/></g><g class="c35"><circle cx="583.5" cy="362.8" r="3.1"/></g><g class="c33"><circle cx="669.2" cy="357" r="3.1"/></g><g class="c7"><circle cx="634.1" cy="294.6" r="3.1"/></g><g class="c17"><circle cx="629.8" cy="317.5" r="3.1"/></g><g class="c28"><circle cx="494.8" cy="346.9" r="3.1"/></g><g class="c10"><circle cx="645.3" cy="300.8" r="3.1"/></g><g class="c20"><circle cx="620.9" cy="325.9" r="3.1"/></g><g class="c18"><circle cx="651" cy="321.2" r="3.1"/></g><g class="c31"><circle cx="750.5" cy="353.8" r="3.1"/></g><g class="c35"><circle cx="582.8" cy="364.8" r="3.1"/></g><g class="c13"><circle cx="617.2" cy="309" r="3.1"/></g><g class="c33"><circle cx="498.1" cy="359.8" r="3.1"/></g><g class="c36"><circle cx="571.4" cy="365" r="3.1"/></g><g class="c28"><circle cx="494.8" cy="345.8" r="3.1"/></g><g class="c36"><circle cx="576.8" cy="366.1" r="3.1"/></g><g class="c14"><circle cx="645" cy="310.5" r="3.1"/></g><g class="c32"><circle cx="725.6" cy="355.7" r="3.1"/></g><g class="c35"><circle cx="588.1" cy="363.8" r="3.1"/></g><g class="c36"><circle cx="564.9" cy="365.4" r="3.1"/></g><g class="c34"><circle cx="519.4" cy="361.1" r="3.1"/></g><g class="c38"><circle cx="651.8" cy="371.1" r="3.1"/></g><g class="c13"><circle cx="627.3" cy="308.9" r="3.1"/></g><g class="c19"><circle cx="602.6" cy="324.3" r="3.1"/></g><g class="c35"><circle cx="551.9" cy="363.6" r="3.1"/></g><g class="c21"><circle cx="648.6" cy="328.4" r="3.1"/></g><g class="c34"><circle cx="536.8" cy="362.3" r="3.1"/></g><g class="c16"><circle cx="638.9" cy="317.9" r="3.1"/></g><g class="c32"><circle cx="498.1" cy="357.9" r="3.1"/></g><g class="c35"><circle cx="558.5" cy="364" r="3.1"/></g><g class="c38"><circle cx="655.7" cy="372" r="3.1"/></g><g class="c17"><circle cx="621.5" cy="318.8" r="3.1"/></g><g class="c27"><circle cx="494.8" cy="343.9" r="3.1"/></g><g class="c35"><circle cx="592.8" cy="364.1" r="3.1"/></g><g class="c34"><circle cx="527.9" cy="361.8" r="3.1"/></g><g class="c32"><circle cx="664.9" cy="357.6" r="3.1"/></g><g class="c20"><circle cx="664.4" cy="328.1" r="3.1"/></g><g class="c36"><circle cx="581.8" cy="366.2" r="3.1"/></g><g class="c35"><circle cx="543.6" cy="363.8" r="3.1"/></g><g class="c12"><circle cx="606.4" cy="308.4" r="3.1"/></g><g class="c17"><circle cx="662.9" cy="321.1" r="3.1"/></g><g class="c31"><circle cx="498" cy="356" r="3.1"/></g><g class="c26"><circle cx="494.7" cy="342.2" r="3.1"/></g><g class="c17"><circle cx="670.4" cy="320.2" r="3.1"/></g><g class="c16"><circle cx="634.7" cy="318" r="3.1"/></g><g class="c36"><circle cx="575.8" cy="366.7" r="3.1"/></g><g class="c35"><circle cx="550.4" cy="364.4" r="3.1"/></g><g class="c20"><circle cx="664.9" cy="328.6" r="3.1"/></g><g class="c33"><circle cx="660.4" cy="359.3" r="3.1"/></g><g class="c14"><circle cx="631.9" cy="312.5" r="3.1"/></g><g class="c11"><circle cx="609.2" cy="305.8" r="3.1"/></g><g class="c27"><circle cx="634.4" cy="345.8" r="3.1"/></g><g class="c24"><circle cx="609.6" cy="338.6" r="3.1"/></g><g class="c35"><circle cx="586.8" cy="366.1" r="3.1"/></g><g class="c19"><circle cx="666.3" cy="324.8" r="3.1"/></g><g class="c31"><circle cx="498" cy="354.6" r="3.1"/></g><g class="c16"><circle cx="642" cy="319.3" r="3.1"/></g><g class="c25"><circle cx="494.7" cy="340.6" r="3.1"/></g><g class="c21"><circle cx="641.6" cy="331" r="3.1"/></g><g class="c18"><circle cx="646.7" cy="322.7" r="3.1"/></g><g class="c14"><circle cx="609.7" cy="313.7" r="3.1"/></g><g class="c34"><circle cx="534.1" cy="363.8" r="3.1"/></g><g class="c14"><circle cx="656.8" cy="313.8" r="3.1"/></g><g class="c39"><circle cx="647.9" cy="375" r="3.1"/></g><g class="c30"><circle cx="497.9" cy="352.9" r="3.1"/></g><g class="c20"><circle cx="623.9" cy="328.9" r="3.1"/></g><g class="c18"><circle cx="615.6" cy="322.8" r="3.1"/></g><g class="c35"><circle cx="562.9" cy="365.6" r="3.1"/></g><g class="c16"><circle cx="617" cy="317.5" r="3.1"/></g><g class="c15"><circle cx="658.5" cy="316.5" r="3.1"/></g><g class="c35"><circle cx="555.9" cy="366" r="3.1"/></g><g class="c24"><circle cx="628" cy="337.9" r="3.1"/></g><g class="c17"><circle cx="668.9" cy="320.7" r="3.1"/></g><g class="c18"><circle cx="622.8" cy="323.2" r="3.1"/></g><g class="c34"><circle cx="523.9" cy="363.9" r="3.1"/></g><g class="c7"><circle cx="654.7" cy="296" r="3.1"/></g><g class="c27"><circle cx="667.6" cy="345.3" r="3.1"/></g><g class="c17"><circle cx="644" cy="322.7" r="3.1"/></g></g><g fill-opacity=".86" stroke-opacity=".86"><g class="c29"><circle cx="497.9" cy="350.9" r="3.1"/></g><g class="c12"><circle cx="643.4" cy="308.9" r="3.1"/></g><g class="c35"><circle cx="580.2" cy="367.4" r="3.1"/></g><g class="c36"><circle cx="568.1" cy="367.9" r="3.1"/></g><g class="c19"><circle cx="624.6" cy="325.7" r="3.1"/></g><g class="c16"><circle cx="638.9" cy="318.2" r="3.1"/></g><g class="c31"><circle cx="721.3" cy="357.1" r="3.1"/></g><g class="c34"><circle cx="540.8" cy="364.1" r="3.1"/></g><g class="c20"><circle cx="636.7" cy="328.7" r="3.1"/></g><g class="c31"><circle cx="746.4" cy="356.5" r="3.1"/></g><g class="c21"><circle cx="639.1" cy="331.6" r="3.1"/></g><g class="c33"><circle cx="651.1" cy="360.8" r="3.1"/><circle cx="771.5" cy="362.2" r="3.1"/></g><g class="c16"><circle cx="655.6" cy="320.8" r="3.1"/></g><g class="c35"><circle cx="547.5" cy="366.3" r="3.1"/></g><g class="c12"><circle cx="605.5" cy="308.6" r="3.1"/></g><g class="c33"><circle cx="501.5" cy="362.9" r="3.1"/></g><g class="c34"><circle cx="531.5" cy="364.9" r="3.1"/></g><g class="c14"><circle cx="601.8" cy="314.7" r="3.1"/></g><g class="c15"><circle cx="631" cy="317.4" r="3.1"/></g><g class="c28"><circle cx="497.8" cy="349.1" r="3.1"/></g><g class="c14"><circle cx="627.5" cy="316.1" r="3.1"/></g><g class="c19"><circle cx="641.8" cy="327" r="3.1"/></g><g class="c18"><circle cx="629.4" cy="324" r="3.1"/></g><g class="c12"><circle cx="609.7" cy="308.8" r="3.1"/></g><g class="c16"><circle cx="660.4" cy="319.4" r="3.1"/></g><g class="c35"><circle cx="567.3" cy="367.9" r="3.1"/><circle cx="554" cy="367.1" r="3.1"/></g><g class="c32"><circle cx="501.5" cy="361.3" r="3.1"/></g><g class="c22"><circle cx="609.2" cy="334.8" r="3.1"/></g><g class="c35"><circle cx="573.4" cy="367.8" r="3.1"/></g><g class="c32"><circle cx="646.4" cy="360.5" r="3.1"/></g><g class="c27"><circle cx="497.8" cy="347.4" r="3.1"/></g><g class="c35"><circle cx="560.8" cy="367" r="3.1"/></g><g class="c22"><circle cx="621.9" cy="334.3" r="3.1"/></g><g class="c24"><circle cx="603.5" cy="341.1" r="3.1"/></g><g class="c34"><circle cx="546.2" cy="366.4" r="3.1"/></g><g class="c25"><circle cx="596.2" cy="343.5" r="3.1"/></g><g class="c14"><circle cx="642.2" cy="314.8" r="3.1"/></g><g class="c19"><circle cx="592.4" cy="327.8" r="3.1"/></g><g class="c31"><circle cx="501.4" cy="359.4" r="3.1"/></g><g class="c26"><circle cx="642.5" cy="345.5" r="3.1"/></g><g class="c34"><circle cx="537.9" cy="366" r="3.1"/></g><g class="c38"><circle cx="644" cy="376.5" r="3.1"/></g><g class="c16"><circle cx="615.8" cy="321.4" r="3.1"/></g><g class="c18"><circle cx="606.2" cy="325.7" r="3.1"/></g><g class="c26"><circle cx="497.7" cy="345.1" r="3.1"/></g><g class="c14"><circle cx="618" cy="317.3" r="3.1"/></g><g class="c23"><circle cx="610.2" cy="338.2" r="3.1"/></g><g class="c20"><circle cx="670.8" cy="331.4" r="3.1"/><circle cx="623.8" cy="332.1" r="3.1"/></g><g class="c17"><circle cx="635.5" cy="324" r="3.1"/></g><g class="c25"><circle cx="497.7" cy="344.1" r="3.1"/></g><g class="c31"><circle cx="501.4" cy="357.7" r="3.1"/></g><g class="c17"><circle cx="646.6" cy="323.3" r="3.1"/></g><g class="c35"><circle cx="578.4" cy="368.9" r="3.1"/></g><g class="c30"><circle cx="762.3" cy="356.3" r="3.1"/></g><g class="c31"><circle cx="716.7" cy="359.8" r="3.1"/></g><g class="c34"><circle cx="527.6" cy="366.9" r="3.1"/></g><g class="c35"><circle cx="589.6" cy="369.8" r="3.1"/></g><g class="c21"><circle cx="612.3" cy="335.1" r="3.1"/></g><g class="c28"><circle cx="583.4" cy="350.7" r="3.1"/></g><g class="c21"><circle cx="639.2" cy="333.2" r="3.1"/></g><g class="c34"><circle cx="551.8" cy="367.9" r="3.1"/></g><g class="c23"><circle cx="636.8" cy="338.5" r="3.1"/></g><g class="c30"><circle cx="501.3" cy="356.1" r="3.1"/></g><g class="c20"><circle cx="612.2" cy="330.9" r="3.1"/></g><g class="c35"><circle cx="558.8" cy="368.6" r="3.1"/><circle cx="565.4" cy="369.2" r="3.1"/></g><g class="c13"><circle cx="608.7" cy="315.3" r="3.1"/></g><g class="c35"><circle cx="571.9" cy="368.6" r="3.1"/></g><g class="c17"><circle cx="632.3" cy="324.2" r="3.1"/></g><g class="c20"><circle cx="662.5" cy="333.3" r="3.1"/></g><g class="c31"><circle cx="741.8" cy="360" r="3.1"/></g><g class="c21"><circle cx="613.7" cy="335.1" r="3.1"/></g><g class="c20"><circle cx="634.5" cy="331.8" r="3.1"/><circle cx="594.2" cy="332.2" r="3.1"/></g><g class="c14"><circle cx="651.5" cy="316.3" r="3.1"/></g><g class="c20"><circle cx="643.8" cy="333.1" r="3.1"/></g><g class="c19"><circle cx="620.4" cy="331.1" r="3.1"/></g><g class="c24"><circle cx="658.5" cy="341.8" r="3.1"/></g><g class="c29"><circle cx="501.3" cy="354.2" r="3.1"/></g><g class="c14"><circle cx="642.6" cy="317.7" r="3.1"/></g><g class="c16"><circle cx="617.4" cy="322.6" r="3.1"/></g><g class="c10"><circle cx="606.9" cy="307.5" r="3.1"/></g><g class="c35"><circle cx="583.3" cy="370.1" r="3.1"/></g><g class="c34"><circle cx="543.2" cy="367.6" r="3.1"/><circle cx="534.4" cy="368.2" r="3.1"/></g><g class="c17"><circle cx="626.7" cy="326.6" r="3.1"/></g><g class="c28"><circle cx="501.3" cy="353" r="3.1"/></g><g class="c35"><circle cx="570.8" cy="370.4" r="3.1"/></g><g class="c11"><circle cx="666.9" cy="311.7" r="3.1"/></g><g class="c33"><circle cx="505.3" cy="365.9" r="3.1"/></g><g class="c35"><circle cx="549.8" cy="369.7" r="3.1"/></g><g class="c19"><circle cx="660.6" cy="331.4" r="3.1"/></g><g class="c26"><circle cx="647.9" cy="348.8" r="3.1"/></g><g class="c33"><circle cx="505.2" cy="364.8" r="3.1"/></g><g class="c18"><circle cx="637.4" cy="327.8" r="3.1"/></g><g class="c33"><circle cx="767" cy="364.7" r="3.1"/></g><g class="c35"><circle cx="576.6" cy="371.1" r="3.1"/></g><g class="c21"><circle cx="654.1" cy="334.9" r="3.1"/></g><g class="c35"><circle cx="556.9" cy="369.9" r="3.1"/></g><g class="c27"><circle cx="501.2" cy="351.2" r="3.1"/></g><g class="c35"><circle cx="563.6" cy="370.4" r="3.1"/><circle cx="588.3" cy="372.1" r="3.1"/></g><g class="c32"><circle cx="505.2" cy="363.8" r="3.1"/></g><g class="c20"><circle cx="631.2" cy="332.8" r="3.1"/></g><g class="c19"><circle cx="611.2" cy="331.9" r="3.1"/></g><g class="c14"><circle cx="606" cy="318.8" r="3.1"/></g><g class="c19"><circle cx="655.7" cy="331.7" r="3.1"/></g><g class="c26"><circle cx="501.2" cy="349.3" r="3.1"/></g><g class="c15"><circle cx="628.6" cy="321.1" r="3.1"/></g><g class="c19"><circle cx="592.6" cy="331.4" r="3.1"/></g><g class="c16"><circle cx="647.1" cy="324.4" r="3.1"/></g><g class="c10"><circle cx="608.4" cy="308.7" r="3.1"/></g><g class="c31"><circle cx="505.2" cy="361.4" r="3.1"/></g><g class="c18"><circle cx="633.5" cy="330" r="3.1"/></g><g class="c30"><circle cx="757.6" cy="360.5" r="3.1"/></g><g class="c20"><circle cx="628.4" cy="334.3" r="3.1"/></g><g class="c25"><circle cx="501.1" cy="347.9" r="3.1"/></g><g class="c18"><circle cx="600.4" cy="329.7" r="3.1"/></g><g class="c11"><circle cx="608" cy="312" r="3.1"/></g><g class="c25"><circle cx="629.1" cy="346.5" r="3.1"/></g><g class="c35"><circle cx="547.6" cy="371.2" r="3.1"/></g><g class="c26"><circle cx="589" cy="350.8" r="3.1"/></g><g class="c35"><circle cx="575.3" cy="372.6" r="3.1"/></g><g class="c30"><circle cx="505.1" cy="360" r="3.1"/></g><g class="c24"><circle cx="624.8" cy="344.6" r="3.1"/></g><g class="c31"><circle cx="737" cy="362.5" r="3.1"/></g><g class="c20"><circle cx="649.8" cy="335.7" r="3.1"/></g><g class="c34"><circle cx="539.5" cy="369.8" r="3.1"/></g><g class="c35"><circle cx="581.3" cy="373" r="3.1"/></g><g class="c15"><circle cx="650.2" cy="321.6" r="3.1"/><circle cx="649.3" cy="321.9" r="3.1"/></g><g class="c17"><circle cx="617" cy="327.1" r="3.1"/></g><g class="c20"><circle cx="617.8" cy="334.8" r="3.1"/></g><g class="c35"><circle cx="568.3" cy="372.9" r="3.1"/></g><g class="c29"><circle cx="505.1" cy="358.7" r="3.1"/></g><g class="c20"><circle cx="650.1" cy="335.9" r="3.1"/></g><g class="c21"><circle cx="602.7" cy="338.1" r="3.1"/></g><g class="c18"><circle cx="661.1" cy="329.8" r="3.1"/></g><g class="c21"><circle cx="621.8" cy="337.3" r="3.1"/><circle cx="660.3" cy="337.3" r="3.1"/><circle cx="624" cy="337.4" r="3.1"/></g><g class="c17"><circle cx="637" cy="328.5" r="3.1"/><circle cx="624.2" cy="327" r="3.1"/></g><g class="c15"><circle cx="667.9" cy="322.8" r="3.1"/></g><g class="c35"><circle cx="587.1" cy="373.2" r="3.1"/><circle cx="561.2" cy="372.6" r="3.1"/></g><g class="c32"><circle cx="706.8" cy="364.7" r="3.1"/></g><g class="c20"><circle cx="647.2" cy="335.5" r="3.1"/></g><g class="c34"><circle cx="554.1" cy="371.7" r="3.1"/></g><g class="c26"><circle cx="606.5" cy="350.5" r="3.1"/></g><g class="c35"><circle cx="580.9" cy="373.3" r="3.1"/></g><g class="c34"><circle cx="509.5" cy="370.1" r="3.1"/></g><g class="c25"><circle cx="643.2" cy="347.4" r="3.1"/></g><g class="c28"><circle cx="505" cy="356.7" r="3.1"/></g><g class="c10"><circle cx="607.3" cy="312" r="3.1"/></g><g class="c16"><circle cx="653.4" cy="326.1" r="3.1"/><circle cx="659.7" cy="326.6" r="3.1"/></g><g class="c28"><circle cx="505" cy="355.6" r="3.1"/></g><g class="c21"><circle cx="622.9" cy="340.2" r="3.1"/></g><g class="c33"><circle cx="509.4" cy="368.1" r="3.1"/></g><g class="c26"><circle cx="613.4" cy="352.7" r="3.1"/></g><g class="c10"><circle cx="610" cy="310.6" r="3.1"/></g><g class="c34"><circle cx="537.1" cy="371.4" r="3.1"/></g><g class="c27"><circle cx="505" cy="354.1" r="3.1"/></g><g class="c32"><circle cx="762" cy="367.9" r="3.1"/></g><g class="c34"><circle cx="560" cy="373" r="3.1"/><circle cx="552.4" cy="373.1" r="3.1"/></g><g class="c32"><circle cx="509.4" cy="366.6" r="3.1"/></g><g class="c15"><circle cx="665.4" cy="324.5" r="3.1"/></g><g class="c35"><circle cx="573.4" cy="374.2" r="3.1"/></g><g class="c17"><circle cx="618.1" cy="328.9" r="3.1"/></g><g class="c16"><circle cx="646.6" cy="327.2" r="3.1"/></g><g class="c26"><circle cx="505" cy="352.7" r="3.1"/></g><g class="c34"><circle cx="544.5" cy="371.6" r="3.1"/></g><g class="c31"><circle cx="509.3" cy="365.2" r="3.1"/></g><g class="c23"><circle cx="588.3" cy="344.7" r="3.1"/></g><g class="c21"><circle cx="602.1" cy="339" r="3.1"/></g><g class="c35"><circle cx="566.3" cy="374.1" r="3.1"/></g><g class="c11"><circle cx="607.7" cy="316.3" r="3.1"/></g><g class="c31"><circle cx="731.9" cy="365.5" r="3.1"/></g><g class="c30"><circle cx="752.6" cy="363.5" r="3.1"/></g><g class="c25"><circle cx="504.9" cy="350.9" r="3.1"/></g><g class="c35"><circle cx="579.2" cy="375.3" r="3.1"/></g><g class="c30"><circle cx="509.3" cy="363.5" r="3.1"/></g><g class="c35"><circle cx="585.7" cy="374.6" r="3.1"/></g><g class="c19"><circle cx="657.2" cy="336.8" r="3.1"/></g><g class="c14"><circle cx="609.7" cy="323.5" r="3.1"/></g><g class="c34"><circle cx="558.3" cy="374.5" r="3.1"/></g><g class="c29"><circle cx="509.3" cy="362.2" r="3.1"/></g><g class="c19"><circle cx="656.4" cy="335" r="3.1"/></g><g class="c18"><circle cx="637.8" cy="334.7" r="3.1"/></g><g class="c35"><circle cx="572" cy="375.5" r="3.1"/></g><g class="c19"><circle cx="635" cy="336.7" r="3.1"/></g><g class="c31"><circle cx="605" cy="366" r="3.1"/></g><g class="c34"><circle cx="514" cy="373.2" r="3.1"/></g><g class="c29"><circle cx="509.2" cy="360.4" r="3.1"/></g><g class="c34"><circle cx="550" cy="374.5" r="3.1"/></g><g class="c35"><circle cx="564.8" cy="375.5" r="3.1"/></g><g class="c31"><circle cx="648.3" cy="367.9" r="3.1"/></g><g class="c19"><circle cx="658.5" cy="337.3" r="3.1"/><circle cx="648.3" cy="336.8" r="3.1"/></g><g class="c33"><circle cx="514" cy="372.2" r="3.1"/></g><g class="c34"><circle cx="584.9" cy="375.6" r="3.1"/></g><g class="c32"><circle cx="642.6" cy="368.6" r="3.1"/></g><g class="c27"><circle cx="509.2" cy="358.5" r="3.1"/></g><g class="c18"><circle cx="663" cy="335.4" r="3.1"/></g><g class="c33"><circle cx="756.6" cy="372.6" r="3.1"/></g><g class="c31"><circle cx="696" cy="367.4" r="3.1"/></g></g><g fill-opacity=".91" stroke-opacity=".91"><g class="c32"><circle cx="513.9" cy="369.7" r="3.1"/></g><g class="c17"><circle cx="617.8" cy="331.4" r="3.1"/></g><g class="c27"><circle cx="509.2" cy="357" r="3.1"/></g><g class="c34"><circle cx="577.8" cy="376.3" r="3.1"/><circle cx="570.8" cy="376.6" r="3.1"/></g><g class="c23"><circle cx="634.9" cy="347" r="3.1"/></g><g class="c34"><circle cx="563.5" cy="376.5" r="3.1"/></g><g class="c20"><circle cx="658.6" cy="340.9" r="3.1"/></g><g class="c26"><circle cx="509.1" cy="355.9" r="3.1"/></g><g class="c11"><circle cx="612.2" cy="317.1" r="3.1"/></g><g class="c31"><circle cx="513.9" cy="368.4" r="3.1"/><circle cx="726.5" cy="367.3" r="3.1"/></g><g class="c10"><circle cx="601.2" cy="316.4" r="3.1"/></g><g class="c20"><circle cx="647.5" cy="339.6" r="3.1"/></g><g class="c34"><circle cx="584" cy="377.1" r="3.1"/></g><g class="c26"><circle cx="509.1" cy="355.1" r="3.1"/></g><g class="c30"><circle cx="747.3" cy="366.4" r="3.1"/></g><g class="c34"><circle cx="555.4" cy="376.5" r="3.1"/></g><g class="c30"><circle cx="513.9" cy="366.5" r="3.1"/></g><g class="c23"><circle cx="592" cy="348.6" r="3.1"/></g><g class="c24"><circle cx="613.5" cy="350.7" r="3.1"/></g><g class="c31"><circle cx="690.3" cy="369.7" r="3.1"/></g><g class="c30"><circle cx="513.9" cy="365.5" r="3.1"/></g><g class="c24"><circle cx="609.7" cy="351.9" r="3.1"/></g><g class="c22"><circle cx="660.7" cy="346.6" r="3.1"/></g><g class="c34"><circle cx="519" cy="376.5" r="3.1"/></g><g class="c29"><circle cx="513.8" cy="364" r="3.1"/></g><g class="c22"><circle cx="672.1" cy="347.4" r="3.1"/></g><g class="c12"><circle cx="607.2" cy="321.2" r="3.1"/></g><g class="c28"><circle cx="513.8" cy="362.8" r="3.1"/></g><g class="c20"><circle cx="615.6" cy="341.7" r="3.1"/></g><g class="c33"><circle cx="518.9" cy="374.6" r="3.1"/></g><g class="c10"><circle cx="604.7" cy="317.5" r="3.1"/></g><g class="c21"><circle cx="672.4" cy="346.2" r="3.1"/></g><g class="c34"><circle cx="576" cy="378.5" r="3.1"/></g><g class="c35"><circle cx="568.4" cy="379.5" r="3.1"/></g><g class="c34"><circle cx="561.1" cy="378.8" r="3.1"/></g><g class="c31"><circle cx="604" cy="370" r="3.1"/><circle cx="720.8" cy="370.2" r="3.1"/></g><g class="c32"><circle cx="518.9" cy="373" r="3.1"/></g><g class="c27"><circle cx="513.7" cy="360.6" r="3.1"/></g><g class="c31"><circle cx="684.4" cy="370.9" r="3.1"/></g><g class="c33"><circle cx="750.9" cy="375.4" r="3.1"/></g><g class="c19"><circle cx="600.5" cy="342" r="3.1"/><circle cx="654.7" cy="341.2" r="3.1"/></g><g class="c22"><circle cx="593.2" cy="348" r="3.1"/></g><g class="c26"><circle cx="513.7" cy="359.4" r="3.1"/></g><g class="c31"><circle cx="518.9" cy="371.4" r="3.1"/></g><g class="c34"><circle cx="575.1" cy="379.9" r="3.1"/></g><g class="c31"><circle cx="741.6" cy="370.3" r="3.1"/></g><g class="c24"><circle cx="611.8" cy="353.4" r="3.1"/></g><g class="c25"><circle cx="513.7" cy="357.6" r="3.1"/></g><g class="c30"><circle cx="518.8" cy="369.6" r="3.1"/></g><g class="c17"><circle cx="627.4" cy="335.7" r="3.1"/></g><g class="c27"><circle cx="607.4" cy="360.9" r="3.1"/></g><g class="c31"><circle cx="678.4" cy="372.9" r="3.1"/></g><g class="c34"><circle cx="581.5" cy="381" r="3.1"/><circle cx="567" cy="380.8" r="3.1"/></g><g class="c29"><circle cx="518.8" cy="368.2" r="3.1"/></g><g class="c10"><circle cx="604" cy="319.2" r="3.1"/></g><g class="c20"><circle cx="606.5" cy="343.7" r="3.1"/></g><g class="c34"><circle cx="524.3" cy="379.4" r="3.1"/></g><g class="c29"><circle cx="518.8" cy="366.8" r="3.1"/></g><g class="c31"><circle cx="714.8" cy="373" r="3.1"/></g><g class="c33"><circle cx="524.3" cy="378.4" r="3.1"/></g><g class="c28"><circle cx="518.7" cy="365.5" r="3.1"/></g><g class="c31"><circle cx="672.1" cy="374" r="3.1"/></g><g class="c34"><circle cx="580.7" cy="382.1" r="3.1"/></g><g class="c19"><circle cx="619.4" cy="343.3" r="3.1"/></g><g class="c32"><circle cx="524.2" cy="375.8" r="3.1"/></g><g class="c27"><circle cx="518.7" cy="363.3" r="3.1"/></g><g class="c31"><circle cx="524.2" cy="375" r="3.1"/></g><g class="c33"><circle cx="744.9" cy="378.3" r="3.1"/></g><g class="c26"><circle cx="518.7" cy="362.7" r="3.1"/></g><g class="c34"><circle cx="572.9" cy="382.8" r="3.1"/></g><g class="c32"><circle cx="665.8" cy="375.7" r="3.1"/></g><g class="c21"><circle cx="645.9" cy="348.6" r="3.1"/></g><g class="c30"><circle cx="524.2" cy="373" r="3.1"/><circle cx="735.7" cy="372.1" r="3.1"/></g><g class="c27"><circle cx="599.7" cy="364.8" r="3.1"/></g><g class="c25"><circle cx="518.6" cy="360.6" r="3.1"/></g><g class="c31"><circle cx="708.6" cy="375.3" r="3.1"/></g><g class="c30"><circle cx="524.1" cy="371.6" r="3.1"/></g><g class="c31"><circle cx="659.3" cy="376.6" r="3.1"/></g><g class="c21"><circle cx="660.4" cy="349.9" r="3.1"/></g><g class="c34"><circle cx="530" cy="381.8" r="3.1"/></g><g class="c31"><circle cx="603" cy="375" r="3.1"/></g><g class="c29"><circle cx="524.1" cy="369.8" r="3.1"/></g><g class="c20"><circle cx="670.8" cy="347" r="3.1"/></g><g class="c33"><circle cx="530" cy="380.6" r="3.1"/></g><g class="c34"><circle cx="579.4" cy="383.3" r="3.1"/></g><g class="c19"><circle cx="607.1" cy="346" r="3.1"/></g><g class="c28"><circle cx="524.1" cy="368.8" r="3.1"/></g><g class="c32"><circle cx="530" cy="379.5" r="3.1"/></g><g class="c31"><circle cx="652.7" cy="377.3" r="3.1"/></g><g class="c25"><circle cx="583" cy="362" r="3.1"/></g><g class="c27"><circle cx="524.1" cy="367.1" r="3.1"/></g><g class="c33"><circle cx="738.5" cy="382.1" r="3.1"/></g><g class="c26"><circle cx="607.1" cy="363.3" r="3.1"/></g><g class="c31"><circle cx="529.9" cy="377.6" r="3.1"/><circle cx="729.3" cy="376.2" r="3.1"/></g><g class="c27"><circle cx="524" cy="365.8" r="3.1"/></g><g class="c30"><circle cx="529.9" cy="375.8" r="3.1"/></g><g class="c26"><circle cx="524" cy="364.4" r="3.1"/><circle cx="586" cy="366" r="3.1"/></g><g class="c20"><circle cx="581.2" cy="349" r="3.1"/></g><g class="c30"><circle cx="529.9" cy="374.2" r="3.1"/></g><g class="c34"><circle cx="536.1" cy="384.7" r="3.1"/></g><g class="c19"><circle cx="599.3" cy="349.2" r="3.1"/></g><g class="c29"><circle cx="529.8" cy="372.9" r="3.1"/></g><g class="c33"><circle cx="536" cy="383.2" r="3.1"/></g></g><g fill-opacity=".95" stroke-opacity=".95"><g class="c28"><circle cx="529.8" cy="371.5" r="3.1"/></g><g class="c31"><circle cx="695.4" cy="379.2" r="3.1"/></g><g class="c32"><circle cx="536" cy="381.5" r="3.1"/><circle cx="536" cy="381" r="3.1"/></g><g class="c27"><circle cx="529.8" cy="369.9" r="3.1"/></g><g class="c20"><circle cx="612.6" cy="351.5" r="3.1"/></g><g class="c34"><circle cx="577" cy="387" r="3.1"/></g><g class="c33"><circle cx="731.8" cy="384.6" r="3.1"/></g><g class="c30"><circle cx="722.8" cy="378.3" r="3.1"/></g><g class="c31"><circle cx="536" cy="378.9" r="3.1"/></g><g class="c26"><circle cx="529.7" cy="368.2" r="3.1"/></g><g class="c24"><circle cx="602.9" cy="361.3" r="3.1"/></g><g class="c30"><circle cx="535.9" cy="377.2" r="3.1"/></g><g class="c34"><circle cx="542.5" cy="387" r="3.1"/></g><g class="c31"><circle cx="688.6" cy="380.8" r="3.1"/></g><g class="c25"><circle cx="529.7" cy="365.9" r="3.1"/></g><g class="c29"><circle cx="535.9" cy="376.3" r="3.1"/></g><g class="c33"><circle cx="542.4" cy="386" r="3.1"/></g><g class="c29"><circle cx="535.9" cy="375.6" r="3.1"/></g><g class="c27"><circle cx="588" cy="371" r="3.1"/></g><g class="c33"><circle cx="542.4" cy="385.2" r="3.1"/></g><g class="c27"><circle cx="593" cy="370.3" r="3.1"/></g><g class="c34"><circle cx="575.7" cy="388.7" r="3.1"/></g><g class="c28"><circle cx="535.9" cy="373.6" r="3.1"/></g><g class="c31"><circle cx="542.4" cy="383.1" r="3.1"/></g><g class="c27"><circle cx="535.9" cy="372.9" r="3.1"/></g><g class="c33"><circle cx="724.8" cy="387.7" r="3.1"/></g><g class="c31"><circle cx="681.5" cy="382.3" r="3.1"/><circle cx="542.4" cy="382" r="3.1"/></g><g class="c26"><circle cx="535.8" cy="371" r="3.1"/></g><g class="c34"><circle cx="549.2" cy="389.7" r="3.1"/></g><g class="c26"><circle cx="535.8" cy="370" r="3.1"/></g><g class="c30"><circle cx="542.3" cy="379.9" r="3.1"/></g><g class="c33"><circle cx="549.2" cy="388.5" r="3.1"/></g><g class="c29"><circle cx="542.3" cy="378.7" r="3.1"/></g><g class="c31"><circle cx="674.2" cy="383.4" r="3.1"/></g><g class="c29"><circle cx="542.3" cy="377.6" r="3.1"/></g><g class="c32"><circle cx="549.2" cy="386.6" r="3.1"/><circle cx="549.2" cy="386" r="3.1"/></g><g class="c25"><circle cx="580" cy="368" r="3.1"/></g><g class="c28"><circle cx="542.3" cy="376.6" r="3.1"/><circle cx="592" cy="377" r="3.1"/></g><g class="c31"><circle cx="708.7" cy="383.2" r="3.1"/></g><g class="c20"><circle cx="619.3" cy="357.6" r="3.1"/></g><g class="c27"><circle cx="542.3" cy="375.1" r="3.1"/></g><g class="c33"><circle cx="717.5" cy="390.2" r="3.1"/></g><g class="c31"><circle cx="549.1" cy="384.3" r="3.1"/></g><g class="c34"><circle cx="556.3" cy="392.1" r="3.1"/></g><g class="c30"><circle cx="549.1" cy="382.9" r="3.1"/></g><g class="c34"><circle cx="573.4" cy="392.5" r="3.1"/></g><g class="c26"><circle cx="542.2" cy="373.2" r="3.1"/></g><g class="c33"><circle cx="556.2" cy="390.6" r="3.1"/></g><g class="c26"><circle cx="542.2" cy="372.7" r="3.1"/></g><g class="c29"><circle cx="549.1" cy="381.2" r="3.1"/></g><g class="c33"><circle cx="556.2" cy="389.6" r="3.1"/></g><g class="c31"><circle cx="659.4" cy="385.7" r="3.1"/></g><g class="c24"><circle cx="603.3" cy="368.4" r="3.1"/></g><g class="c20"><circle cx="616.9" cy="358" r="3.1"/></g><g class="c28"><circle cx="549.1" cy="379.4" r="3.1"/></g><g class="c31"><circle cx="556.2" cy="387.6" r="3.1"/></g><g class="c28"><circle cx="549" cy="378.6" r="3.1"/></g><g class="c31"><circle cx="651.8" cy="386.2" r="3.1"/><circle cx="556.2" cy="386.6" r="3.1"/></g><g class="c34"><circle cx="563.6" cy="394.2" r="3.1"/></g><g class="c31"><circle cx="644.1" cy="387.6" r="3.1"/></g><g class="c33"><circle cx="709.9" cy="392.4" r="3.1"/></g><g class="c27"><circle cx="549" cy="377.1" r="3.1"/></g><g class="c30"><circle cx="556.2" cy="385.1" r="3.1"/></g><g class="c33"><circle cx="563.6" cy="392" r="3.1"/></g><g class="c20"><circle cx="590.9" cy="360.7" r="3.1"/></g><g class="c26"><circle cx="549" cy="374.9" r="3.1"/></g><g class="c32"><circle cx="563.6" cy="391" r="3.1"/></g><g class="c29"><circle cx="556.1" cy="383.2" r="3.1"/><circle cx="556.1" cy="382.2" r="3.1"/></g><g class="c31"><circle cx="563.5" cy="389.5" r="3.1"/></g><g class="c34"><circle cx="571.2" cy="395.9" r="3.1"/></g><g class="c28"><circle cx="556.1" cy="381" r="3.1"/></g><g class="c31"><circle cx="563.5" cy="388.7" r="3.1"/></g><g class="c27"><circle cx="556.1" cy="379.9" r="3.1"/></g><g class="c33"><circle cx="571.2" cy="394.4" r="3.1"/><circle cx="702.1" cy="393.8" r="3.1"/></g><g class="c30"><circle cx="563.5" cy="386.9" r="3.1"/></g><g class="c33"><circle cx="571.2" cy="393.3" r="3.1"/></g><g class="c27"><circle cx="556.1" cy="378.3" r="3.1"/></g><g class="c29"><circle cx="563.5" cy="385.8" r="3.1"/></g></g><g fill-opacity="1.00" stroke-opacity="1.00"><g class="c32"><circle cx="571.2" cy="391.7" r="3.1"/></g><g class="c29"><circle cx="563.5" cy="384.7" r="3.1"/></g><g class="c26"><circle cx="556.1" cy="376.8" r="3.1"/></g><g class="c31"><circle cx="571.1" cy="390.4" r="3.1"/></g><g class="c28"><circle cx="563.5" cy="382.8" r="3.1"/></g><g class="c31"><circle cx="571.1" cy="389.6" r="3.1"/></g><g class="c27"><circle cx="563.5" cy="381.9" r="3.1"/></g><g class="c33"><circle cx="694.1" cy="396" r="3.1"/></g><g class="c30"><circle cx="571.1" cy="388" r="3.1"/></g><g class="c26"><circle cx="563.4" cy="379.9" r="3.1"/><circle cx="563.4" cy="379.3" r="3.1"/></g><g class="c29"><circle cx="571.1" cy="386.2" r="3.1"/></g><g class="c20"><circle cx="605" cy="363.3" r="3.1"/></g><g class="c28"><circle cx="571.1" cy="384.9" r="3.1"/><circle cx="571.1" cy="384.1" r="3.1"/></g><g class="c33"><circle cx="685.8" cy="397.5" r="3.1"/></g><g class="c27"><circle cx="571.1" cy="382.3" r="3.1"/></g><g class="c26"><circle cx="571" cy="380.7" r="3.1"/></g><g class="c33"><circle cx="677.4" cy="399.9" r="3.1"/></g><g class="c20"><circle cx="595.4" cy="367.4" r="3.1"/></g><g class="c21"><circle cx="585.5" cy="368.6" r="3.1"/></g><g class="c33"><circle cx="668.8" cy="400.2" r="3.1"/><circle cx="660.1" cy="401.4" r="3.1"/><circle cx="651.3" cy="402.2" r="3.1"/></g><g class="c32"><circle cx="660.2" cy="398.6" r="3.1"/></g><g class="c33"><circle cx="642.5" cy="402.4" r="3.1"/><circle cx="624.7" cy="403" r="3.1"/><circle cx="615.8" cy="401.8" r="3.1"/><circle cx="633.6" cy="402.2" r="3.1"/></g><g class="c19"><circle cx="588.5" cy="368.2" r="3.1"/><circle cx="592" cy="367.3" r="3.1"/></g><g class="c31"><circle cx="651.4" cy="398.4" r="3.1"/><circle cx="642.5" cy="399.1" r="3.1"/><circle cx="615.8" cy="398.5" r="3.1"/><circle cx="624.7" cy="399.5" r="3.1"/><circle cx="633.6" cy="398.9" r="3.1"/></g><g class="c30"><circle cx="651.4" cy="395.7" r="3.1"/><circle cx="624.7" cy="397.1" r="3.1"/><circle cx="642.5" cy="396.1" r="3.1"/><circle cx="633.6" cy="396.5" r="3.1"/></g><g class="c29"><circle cx="615.8" cy="395.3" r="3.1"/></g><g class="c24"><circle cx="604.7" cy="384" r="3.1"/></g></g><circle cx="622.1" cy="253.8" r="3.1" fill="#440154" stroke="#440154"/><circle cx="861.2" cy="430" r="3.1" fill="#fde725" stroke="#fde725"/></g> </g> </g> <g id="text_24"> <text style="font-size: 12px; font-family: 'DejaVu Sans', sans-serif; text-anchor: middle" x="442.8" y="71.76">LiDAR Point 3D Coordinate Graph</text> </g> <g id="Path3DCollection_1"/> <g id="legend_1"> <g id="patch_6"> <path d="M 568.37 100.43  L 625.88 100.43  Q 627.88 100.43 627.88 98.43  L 627.88 84.76  Q 627.88 82.76 625.88 82.76  L 568.37 82.76  Q 566.37 82.76 566.37 84.76  L 566.37 98.43  Q 566.37 100.43 568.37 100.43  z " style="fill: #ffffff; opacity: 0.8; stroke: #cccccc; stroke-linejoin: miter"/> </g> <g id="Path3DCollection_2"> <defs> <path id="mcb62fe8fa0" d="M 0 2.23  C 0.59 2.23 1.16 2.00 1.58 1.58  C 2.00 1.16 2.23 0.59 2.23 0  C 2.23 -0.59 2.00 -1.16 1.58 -1.58  C 1.16 -2.00 0.59 -2.23 0 -2.23  C -0.59 -2.23 -1.16 -2.00 -1.58 -1.58  C -2.00 -1.16 -2.23 -0.59 -2.23 0  C -2.23 0.59 -2.00 1.16 -1.58 1.58  C -1.16 2.00 -0.59 2.23 0 2.23  z " style="stroke: #481f70"/> </defs> <g> <use href="#mcb62fe8fa0" x="580.37" y="91.73" style="fill: #481f70; stroke: #481f70"/> </g> </g> <g id="text_25"> <text style="font-size: 10px; font-family: 'DejaVu Sans', sans-serif; text-anchor: start" x="598.37" y="94.35">point</text> </g> </g> </g> <g id="axes_2" transform="translate(.24 .36)"> <g id="patch_7"> <path d="M 206.04 576.72  L 301.08 576.72  L 301.08 481.68  L 206.04 481.68  z " style="fill: #ffffff"/> </g> <g id="PTS2D"> <defs> <path id="m9b135630ea" d="M 0 3  C 0.79 3 1.55 2.68 2.12 2.12  C 2.68 1.55 3 0.79 3 0  C 3 -0.79 2.68 -1.55 2.12 -2.12  C 1.55 -2.68 0.79 -3 0 -3  C -0.79 -3 -1.55 -2.68 -2.12 -2.12  C -2.68 -1.55 -3 -0.79 -3 0  C -3 0.79 -2.68 1.55 -2.12 2.12  C -1.55 2.68 -0.79 3 0 3  z " style="stroke: #90ee90"/> </defs> <g clip-path="url(#pa22b224f6b)"> <g transform="scale(.72)"><ellipse cx="361.4" cy="736.8" rx="69.3" ry="72.8" fill="#90ee90"/><path d="M375.3 764.9L376.9 767.2L378.3 772.0L382.6 776.2L383.5 781.9L380.2 784.2L378.3 786.6L375.0 788.0L373.1 790.4L372.7 794.6L374.1 797.5L378.3 798.9L380.2 802.2L371.3 802.2L371.3 797.5L368.9 794.6L366.8 791.8L366.8 789.0L368.4 787.3L372.2 787.1L374.8 785.2L375.5 781.4L374.1 776.7L373.1 771.0L373.4 767.2ZM389.2 736.5L394.4 735.1L401.5 735.1L399.1 737.0L395.3 737.9L392.0 738.9L390.1 737.9ZM381.0 734.2L382.6 734.9L384.0 736.5L383.1 736.8L381.4 735.6Z" fill="#fff"/></g> </g> </g> <g id="PathCollection_1"/> <g id="matplotlib.axis_1"> <g id="xtick_21"> <g id="line2d_24"> <defs> <path id="mba88576788" d="M 0 0  L 0 3.5  " style="stroke: #000000; stroke-width: 0.72"/> </defs> <g> <use href="#mba88576788" x="217.67" y="576.72" style="stroke: #000000; stroke-width: 0.72"/> </g> </g> <g id="text_26"> <text style="font-size: 10px; font-family: 'DejaVu Sans', sans-serif; text-anchor: middle" x="217.67" y="591.31">−500</text> </g> </g> <g id="xtick_22"> <g id="line2d_25"> <g> <use href="#mba88576788" x="253.56" y="576.72" style="stroke: #000000; stroke-width: 0.72"/> </g> </g> <g id="text_27"> <text style="font-size: 10px; font-family: 'DejaVu Sans', sans-serif; text-anchor: middle" x="253.56" y="591.31">0</text> </g> </g> <g id="xtick_23"> <g id="line2d_26"> <g> <use href="#mba88576788" x="289.45" y="576.72" style="stroke: #000000; stroke-width: 0.72"/> </g> </g> <g id="text_28"> <text style="font-size: 10px; font-family: 'DejaVu Sans', sans-serif; text-anchor: middle" x="289.45" y="591.31">500</text> </g> </g> <g id="text_29"> <text style="font-size: 10px; font-family: 'DejaVu Sans', sans-serif; text-anchor: middle" x="253.56" y="604.99">X (cm)</text> </g> </g> <g id="matplotlib.axis_2"> <g id="ytick_1"> <g id="line2d_27"> <defs> <path id="m42ee4dfaa6" d="M 0 0  L -3.5 0  " style="stroke: #000000; stroke-width: 0.72"/> </defs> <g> <use href="#m42ee4dfaa6" x="206.04" y="565.09" style="stroke: #000000; stroke-width: 0.72"/> </g> </g> <g id="text_30"> <text style="font-size: 10px; font-family: 'DejaVu Sans', sans-serif; text-anchor: end" x="199.04" y="568.89">−500</text> </g> </g> <g id="ytick_2"> <g id="line2d_28"> <g> <use href="#m42ee4dfaa6" x="206.04" y="529.2" style="stroke: #000000; stroke-width: 0.72"/> </g> </g> <g id="text_31"> <text style="font-size: 10px; font-family: 'DejaVu Sans', sans-serif; text-anchor: end" x="199.04" y="532.99">0</text> </g> </g> <g id="ytick_3"> <g id="line2d_29"> <g> <use href="#m42ee4dfaa6" x="206.04" y="493.30" style="stroke: #000000; stroke-width: 0.72"/> </g> </g> <g id="text_32"> <text style="font-size: 10px; font-family: 'DejaVu Sans', sans-serif; text-anchor: end" x="199.04" y="497.10">500</text> </g> </g> <g id="text_33"> <text style="font-size: 10px; font-family: 'DejaVu Sans', sans-serif; text-anchor: middle" x="165.49" y="529.2" transform="rotate(-90 165.49 529.2)">Y (cm)</text> </g> </g> <g id="patch_8"> <path d="M 206.04 576.72  L 206.04 481.68  " style="fill: none; stroke: #000000; stroke-width: 0.72; stroke-linejoin: miter; stroke-linecap: square" shape-rendering="crispEdges"/> </g> <g id="patch_9"> <path d="M 301.08 576.72  L 301.08 481.68  " style="fill: none; stroke: #000000; stroke-width: 0.72; stroke-linejoin: miter; stroke-linecap: square" shape-rendering="crispEdges"/> </g> <g id="patch_10"> <path d="M 206.04 576.72  L 301.08 576.72  " style="fill: none; stroke: #000000; stroke-width: 0.72; stroke-linejoin: miter; stroke-linecap: square" shape-rendering="crispEdges"/> </g> <g id="patch_11"> <path d="M 206.04 481.68  L 301.08 481.68  " style="fill: none; stroke: #000000; stroke-width: 0.72; stroke-linejoin: miter; stroke-linecap: square" shape-rendering="crispEdges"/> </g> <g id="text_34"> <text style="font-size: 12px; font-family: 'DejaVu Sans', sans-serif; text-anchor: middle" x="253.56" y="475.68">LiDAR Point 2D Coordinate Graph</text> </g> <g id="legend_2"> <g id="patch_12"> <path d="M 312.83 519.03  L 370.34 519.03  Q 372.34 519.03 372.34 517.03  L 372.34 488.68  Q 372.34 486.68 370.34 486.68  L 312.83 486.68  Q 310.83 486.68 310.83 488.68  L 310.83 517.03  Q 310.83 519.03 312.83 519.03  z " style="fill: #ffffff; opacity: 0.8; stroke: #cccccc; stroke-linejoin: miter"/> </g> <g id="PathCollection_2"> <g> <use href="#m9b135630ea" x="324.83" y="495.65" style="fill: #90ee90; stroke: #90ee90"/> </g> </g> <g id="text_35"> <text style="font-size: 10px; font-family: 'DejaVu Sans', sans-serif; text-anchor: start" x="342.83" y="498.27">point</text> </g> <g id="PathCollection_3"> <defs> <path id="ma54a43b24d" d="M 0 3  C 0.79 3 1.55 2.68 2.12 2.12  C 2.68 1.55 3 0.79 3 0  C 3 -0.79 2.68 -1.55 2.12 -2.12  C 1.55 -2.68 0.79 -3 0 -3  C -0.79 -3 -1.55 -2.68 -2.12 -2.12  C -2.68 -1.55 -3 -0.79 -3 0  C -3 0.79 -2.68 1.55 -2.12 2.12  C -1.55 2.68 -0.79 3 0 3  z " style="stroke: #0000ff"/> </defs> <g> <use href="#ma54a43b24d" x="324.83" y="510.33" style="fill: #0000ff; stroke: #0000ff"/> </g> </g> <g id="text_36"> <text style="font-size: 10px; font-family: 'DejaVu Sans', sans-serif; text-anchor: start" x="342.83" y="512.95">wall</text> </g> </g> </g> <g id="axes_3" transform="translate(.43 .36)"> <g id="patch_13"> <path d="M 486.46 576.72  L 777.6 576.72  L 777.6 481.68  L 486.46 481.68  z " style="fill: #ffffff"/> </g> <g id="HIST"> <path shape-rendering="crispEdges" d="M 486.46 576.72  L 486.46 575.90  L 498.26 575.90  L 498.26 573.01  L 510.06 573.01  L 510.06 573.73  L 521.86 573.73  L 521.86 575.03  L 533.66 575.03  L 533.66 575.03  L 545.46 575.03  L 545.46 567.87  L 557.26 567.87  L 557.26 486.20  L 569.06 486.20  L 569.06 545.75  L 580.86 545.75  L 580.86 576.72  L 592.66 576.72  L 592.66 576.72  L 604.46 576.72  L 604.46 576.72  L 616.26 576.72  L 616.26 576.72  L 628.06 576.72  L 628.06 576.72  L 639.87 576.72  L 639.87 576.72  L 651.67 576.72  L 651.67 576.72  L 663.47 576.72  L 663.47 576.72  L 675.27 576.72  L 675.27 576.72  L 687.07 576.72  L 687.07 576.72  L 698.87 576.72  L 698.87 576.72  L 710.67 576.72  L 710.67 576.72  L 722.47 576.72  L 722.47 576.72  L 734.27 576.72  L 734.27 576.72  L 746.07 576.72  L 746.07 576.72  L 757.87 576.72  L 757.87 576.72  L 769.67 576.72  L 769.67 576.72  " clip-path="url(#p93c9c9b7a1)" style="fill: #0000ff"/> </g> <g id="matplotlib.axis_3"> <g id="xtick_24"> <g id="line2d_30"> <g> <use href="#mba88576788" x="486.46" y="576.72" style="stroke: #000000; stroke-width: 0.72"/> </g> </g> <g id="text_37"> <text style="font-size: 10px; font-family: 'DejaVu Sans', sans-serif; text-anchor: middle" x="486.46" y="591.31">0</text> </g> </g> <g id="xtick_25"> <g id="line2d_31"> <g> <use href="#mba88576788" x="543.10" y="576.72" style="stroke: #000000; stroke-width: 0.72"/> </g> </g> <g id="text_38"> <text style="font-size: 10px; font-family: 'DejaVu Sans', sans-serif; text-anchor: middle" x="543.10" y="591.31">200</text> </g> </g> <g id="xtick_26"> <g id="line2d_32"> <g> <use href="#mba88576788" x="599.74" y="576.72" style="stroke: #000000; stroke-width: 0.72"/> </g> </g> <g id="text_39"> <text style="font-size: 10px; font-family: 'DejaVu Sans', sans-serif; text-anchor: middle" x="599.74" y="591.31">400</text> </g> </g> <g id="xtick_27"> <g id="line2d_33"> <g> <use href="#mba88576788" x="656.39" y="576.72" style="stroke: #000000; stroke-width: 0.72"/> </g> </g> <g id="text_40"> <text style="font-size: 10px; font-family: 'DejaVu Sans', sans-serif; text-anchor: middle" x="656.39" y="591.31">600</text> </g> </g> <g id="xtick_28"> <g id="line2d_34"> <g> <use href="#mba88576788" x="713.03" y="576.72" style="stroke: #000000; stroke-width: 0.72"/> </g> </g> <g id="text_41"> <text style="font-size: 10px; font-family: 'DejaVu Sans', sans-serif; text-anchor: middle" x="713.03" y="591.31">800</text> </g> </g> <g id="xtick_29"> <g id="line2d_35"> <g> <use href="#mba88576788" x="769.67" y="576.72" style="stroke: #000000; stroke-width: 0.72"/> </g> </g> <g id="text_42"> <text style="font-size: 10px; font-family: 'DejaVu Sans', sans-serif; text-anchor: middle" x="769.67" y="591.31">1000</text> </g> </g> </g> <g id="matplotlib.axis_4"> <g id="ytick_4"> <g id="line2d_36"> <g> <use href="#m42ee4dfaa6" x="486.46" y="576.72" style="stroke: #000000; stroke-width: 0.72"/> </g> </g> <g id="text_43"> <text style="font-size: 10px; font-family: 'DejaVu Sans', sans-serif; text-anchor: end" x="479.46" y="580.51">0</text> </g> </g> <g id="ytick_5"> <g id="line2d_37"> <g> <use href="#m42ee4dfaa6" x="486.46" y="544.07" style="stroke: #000000; stroke-width: 0.72"/> </g> </g> <g id="text_44"> <text style="font-size: 10px; font-family: 'DejaVu Sans', sans-serif; text-anchor: end" x="479.46" y="547.87">2000</text> </g> </g> <g id="ytick_6"> <g id="line2d_38"> <g> <use href="#m42ee4dfaa6" x="486.46" y="511.43" style="stroke: #000000; stroke-width: 0.72"/> </g> </g> <g id="text_45"> <text style="font-size: 10px; font-family: 'DejaVu Sans', sans-serif; text-anchor: end" x="479.46" y="515.23">4000</text> </g> </g> </g> <g id="patch_14"> <path d="M 486.46 576.72  L 486.46 481.68  " style="fill: none; stroke: #000000; stroke-width: 0.72; stroke-linejoin: miter; stroke-linecap: square" shape-rendering="crispEdges"/> </g> <g id="patch_15"> <path d="M 777.6 576.72  L 777.6 481.68  " style="fill: none; stroke: #000000; stroke-width: 0.72; stroke-linejoin: miter; stroke-linecap: square" shape-rendering="crispEdges"/> </g> <g id="patch_16"> <path d="M 486.46 576.72  L 777.6 576.72  " style="fill: none; stroke: #000000; stroke-width: 0.72; stroke-linejoin: miter; stroke-linecap: square" shape-rendering="crispEdges"/> </g> <g id="patch_17"> <path d="M 486.46 481.68  L 777.6 481.68  " style="fill: none; stroke: #000000; stroke-width: 0.72; stroke-linejoin: miter; stroke-linecap: square" shape-rendering="crispEdges"/> </g> <g id="text_46"> <text style="font-size: 12px; font-family: 'DejaVu Sans', sans-serif; text-anchor: middle" x="632.03" y="475.68">Height Histogram</text> </g> <g id="legend_3"> <g id="patch_18"> <path d="M 705.54 504.35  L 770.6 504.35  Q 772.6 504.35 772.6 502.35  L 772.6 488.68  Q 772.6 486.68 770.6 486.68  L 705.54 486.68  Q 703.54 486.68 703.54 488.68  L 703.54 502.35  Q 703.54 504.35 705.54 504.35  z " style="fill: #ffffff; opacity: 0.8; stroke: #cccccc; stroke-linejoin: miter"/> </g> <g id="patch_19"> <path d="M 707.54 498.27  L 727.54 498.27  L 727.54 491.27  L 707.54 491.27  z " style="fill: #0000ff"/> </g> <g id="text_47"> <text style="font-size: 10px; font-family: 'DejaVu Sans', sans-serif; text-anchor: start" x="735.54" y="498.27">Height</text> </g> </g> </g> </g> <defs> <clipPath id="pb8aa4f0075"> <rect x="252.72" y="77.76" width="380.16" height="380.16"/> </clipPath> <clipPath id="pa22b224f6b"> <rect x="206.04" y="481.68" width="95.04" height="95.04"/> </clipPath> <clipPath id="p93c9c9b7a1"> <rect x="486.46" y="481.68" width="291.13" height="95.04"/> </clipPath> </defs> </svg> 
</body></html>
